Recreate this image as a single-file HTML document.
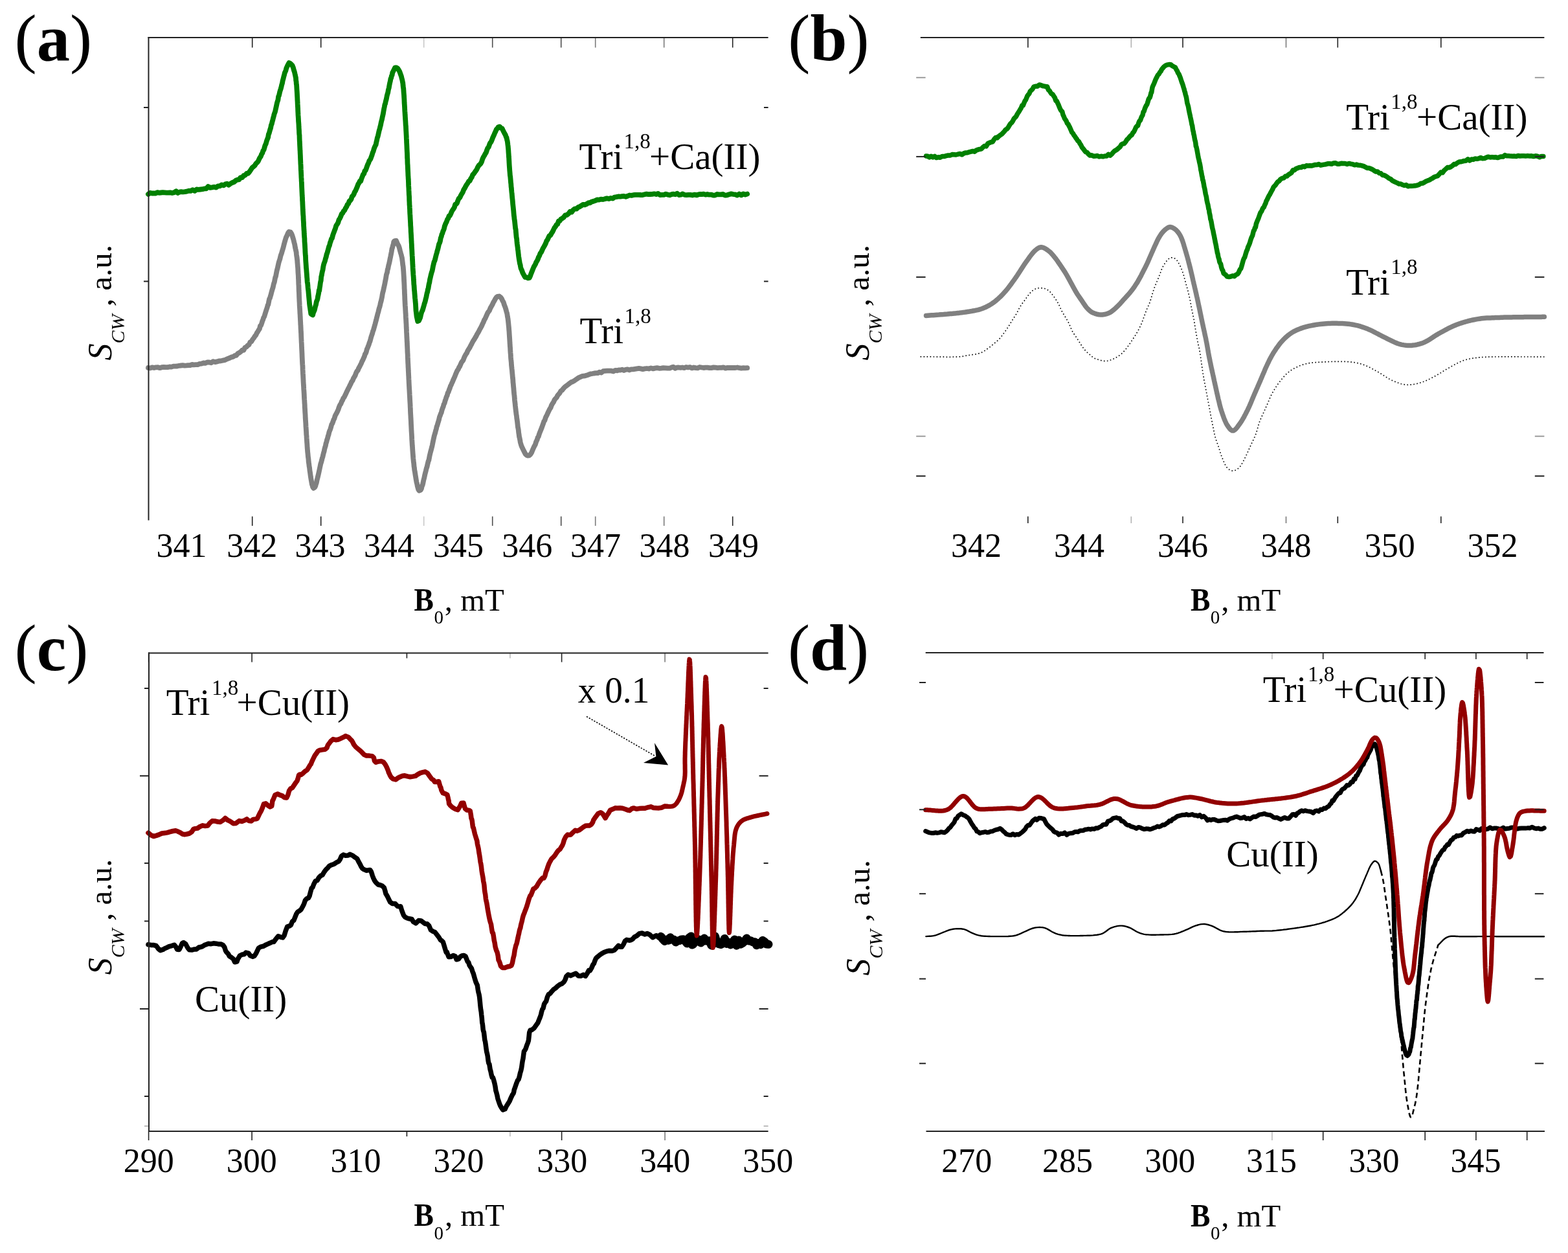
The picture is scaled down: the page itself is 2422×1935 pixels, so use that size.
<!DOCTYPE html>
<html><head><meta charset="utf-8"><title>EPR spectra</title><style>html,body{margin:0;padding:0;background:#fff;}svg{display:block;}</style></head><body>
<svg xmlns="http://www.w3.org/2000/svg" width="2422" height="1935" viewBox="0 0 2422 1935" font-family="'Liberation Serif','Times New Roman',serif" fill="#000"><rect width="2422" height="1935" fill="#fff"/><path d="M229.0 568.0L232.0 568.5L235.0 567.3L238.0 568.1L240.9 567.3L243.9 567.2L246.9 568.2L249.9 567.2L252.9 566.9L255.9 567.2L258.9 567.2L261.8 566.5L264.8 566.6L267.8 565.6L270.8 565.7L273.7 565.5L276.6 564.8L279.5 564.5L282.3 564.2L285.2 564.6L288.1 564.4L291.0 564.1L293.9 564.0L296.8 563.0L299.7 563.3L302.5 563.2L305.4 563.1L308.3 561.9L311.2 561.7L314.1 560.5L317.0 560.8L320.0 559.5L323.1 559.5L326.1 560.3L329.2 558.1L332.3 559.1L335.3 558.4L338.3 557.5L341.2 557.3L344.0 556.7L346.8 556.2L349.5 554.9L352.0 553.9L354.4 553.0L357.3 551.6L360.0 550.9L362.6 549.2L365.0 548.8L367.3 545.9L369.6 544.7L371.9 543.1L374.2 540.7L376.3 540.9L378.4 536.8L380.5 535.8L382.5 533.6L384.5 532.4L386.5 528.3L388.4 527.4L390.3 524.1L392.1 521.9L393.8 519.1L395.4 517.3L396.9 513.9L398.3 511.9L399.6 509.6L400.9 507.8L402.0 503.1L403.1 502.5L404.2 499.5L405.2 496.1L406.2 493.7L407.2 490.5L408.3 488.7L409.3 485.2L410.2 482.5L411.0 479.8L411.9 477.2L412.8 474.5L413.6 471.4L414.4 470.1L415.3 465.3L416.1 461.6L416.9 460.5L417.7 457.6L418.5 455.0L419.3 451.8L420.1 448.9L420.9 446.2L421.7 443.7L422.4 440.2L423.1 437.4L423.8 435.7L424.5 432.1L425.2 428.4L425.9 427.1L426.6 423.4L427.3 419.7L428.0 416.5L428.7 414.3L429.4 410.8L430.1 407.7L430.8 404.7L431.6 402.3L432.3 400.3L433.1 396.8L433.9 393.7L434.8 391.6L435.8 388.0L436.8 384.8L437.8 381.4L438.8 377.1L439.8 373.5L440.8 370.2L441.9 366.5L442.9 364.6L443.9 362.5L444.9 360.0L446.3 357.9L448.8 358.6L450.4 361.1L451.4 363.7L452.4 367.0L453.4 370.3L454.3 374.2L455.2 377.5L456.0 382.4L456.8 386.0L457.2 387.6L457.6 389.2L457.9 392.7L458.3 395.7L458.6 397.3L458.9 400.0L459.2 402.6L459.4 405.9L459.6 407.9L459.9 411.7L460.1 413.9L460.3 417.5L460.4 420.1L460.6 423.0L460.8 425.4L460.9 429.0L461.1 432.3L461.2 436.0L461.3 439.0L461.5 441.8L461.6 445.6L461.7 449.1L461.9 451.8L462.0 455.0L462.1 458.3L462.3 462.2L462.4 465.3L462.6 467.8L462.7 471.7L462.9 474.5L463.1 477.6L463.3 481.4L463.4 484.0L463.6 486.0L463.7 489.3L463.9 492.3L464.0 494.6L464.2 497.8L464.3 501.1L464.5 502.8L464.6 506.8L464.8 510.0L464.9 512.8L465.1 514.9L465.2 518.7L465.3 521.1L465.5 524.9L465.6 527.9L465.8 530.8L465.9 533.3L466.0 536.5L466.2 540.2L466.3 542.4L466.5 546.2L466.6 549.3L466.7 551.9L466.9 556.3L467.0 558.2L467.2 562.3L467.3 563.3L467.5 566.3L467.6 570.9L467.8 573.8L467.9 576.4L468.1 579.6L468.2 581.7L468.4 585.3L468.5 588.1L468.7 591.5L468.9 595.1L469.1 597.6L469.2 600.7L469.4 603.2L469.6 606.3L469.8 609.7L469.9 612.6L470.1 616.5L470.3 618.6L470.5 623.1L470.7 624.9L470.8 629.2L471.0 631.5L471.2 635.9L471.4 638.5L471.6 641.8L471.7 645.3L471.9 647.9L472.1 650.9L472.3 653.7L472.5 658.5L472.7 660.8L472.9 664.0L473.1 667.5L473.3 671.7L473.5 672.9L473.7 677.0L473.9 679.8L474.1 683.2L474.3 685.1L474.5 688.7L474.7 692.2L475.0 695.4L475.2 698.2L475.4 699.7L475.7 702.8L475.9 705.3L476.2 707.2L476.5 709.7L476.7 713.2L477.0 715.2L477.3 717.2L477.6 720.1L478.0 721.9L478.5 726.7L478.8 728.4L479.1 730.4L479.4 732.6L479.9 736.4L480.5 740.2L481.1 743.7L481.8 747.7L482.4 749.2L483.1 752.0L484.2 753.9L486.3 752.5L487.3 750.5L488.1 747.4L488.8 745.7L489.6 741.6L490.4 738.5L491.2 735.3L492.0 731.9L492.8 728.2L493.6 724.5L494.5 720.3L495.3 716.4L496.2 713.8L497.0 710.8L497.7 707.6L498.4 705.8L499.1 702.7L499.9 699.3L500.6 697.2L501.3 693.5L502.0 690.9L502.8 688.7L503.5 684.8L504.3 682.7L505.1 679.1L505.9 677.2L506.7 673.6L507.6 671.1L508.4 667.3L509.3 665.0L510.3 662.7L511.2 659.6L512.3 655.5L513.3 654.1L514.3 651.4L515.4 648.1L516.5 646.2L517.6 642.3L518.8 640.0L520.0 637.9L521.3 635.2L522.5 632.5L523.8 628.5L525.1 625.4L526.4 623.8L527.8 620.1L529.1 618.0L530.4 614.8L531.8 613.2L533.1 610.4L534.4 607.7L535.7 604.8L537.0 602.2L538.3 599.5L539.5 597.3L540.7 594.8L541.9 592.4L543.2 589.4L544.6 587.7L546.0 584.2L547.3 582.2L548.7 579.6L550.0 576.0L551.4 573.1L552.7 572.1L554.0 568.8L555.3 566.6L556.6 563.9L557.9 561.5L559.1 558.3L560.4 556.1L561.6 553.2L562.8 550.6L563.9 546.7L564.9 545.7L565.9 542.9L566.8 539.2L567.8 537.1L568.7 534.7L569.7 532.3L570.6 529.2L571.5 527.1L572.5 523.5L573.4 520.1L574.3 517.4L575.1 515.2L576.0 511.6L576.9 509.4L577.7 506.5L578.6 503.3L579.4 500.5L580.3 497.0L581.1 494.1L581.9 490.8L582.7 487.8L583.5 484.4L584.3 481.9L585.0 478.8L585.8 475.8L586.5 473.7L587.2 470.9L587.9 467.5L588.6 465.3L589.3 462.1L590.0 459.0L590.6 455.1L591.3 451.6L591.9 449.6L592.6 446.4L593.2 443.5L593.9 440.3L594.5 437.7L595.1 434.0L595.7 431.5L596.3 427.8L596.9 424.2L597.5 422.3L598.1 420.5L598.7 416.2L599.3 414.9L599.9 411.5L600.4 409.2L601.0 407.0L601.8 403.6L602.6 399.3L603.3 396.1L604.0 392.5L604.7 388.9L605.4 384.5L606.1 382.4L606.8 379.6L607.6 377.2L608.3 373.3L609.5 372.0L611.9 371.6L613.1 374.5L614.3 377.1L615.6 379.2L616.8 382.5L617.9 387.0L619.0 391.0L619.9 394.0L620.4 396.4L620.8 397.4L621.2 400.6L621.6 403.4L621.9 405.9L622.2 409.2L622.5 410.5L622.8 412.7L623.1 416.9L623.3 419.3L623.5 422.7L623.7 425.9L623.9 428.9L624.0 432.5L624.2 435.6L624.3 437.3L624.5 441.4L624.6 445.7L624.8 447.8L624.9 451.8L625.0 454.6L625.2 457.8L625.3 462.1L625.5 465.2L625.6 467.9L625.8 471.8L626.0 474.0L626.2 477.6L626.4 481.2L626.5 483.4L626.7 485.6L626.8 489.2L627.0 491.9L627.2 495.2L627.3 497.9L627.5 500.2L627.6 503.0L627.7 506.1L627.9 508.9L628.0 512.7L628.2 515.8L628.3 518.6L628.4 521.1L628.6 523.8L628.7 527.4L628.9 529.8L629.0 533.2L629.1 535.3L629.3 539.0L629.4 543.0L629.5 544.8L629.7 547.6L629.8 551.4L630.0 555.4L630.1 558.4L630.2 560.6L630.4 563.6L630.5 566.9L630.7 569.5L630.8 573.1L631.0 576.0L631.1 578.5L631.3 582.0L631.4 585.2L631.6 588.0L631.7 590.9L631.9 594.9L632.1 598.4L632.2 600.4L632.4 603.3L632.6 606.8L632.7 609.5L632.9 612.3L633.1 616.5L633.2 618.5L633.4 621.8L633.6 625.1L633.7 628.2L633.9 631.8L634.0 635.6L634.2 639.3L634.4 642.2L634.5 645.3L634.7 647.9L634.9 651.9L635.0 654.8L635.2 658.5L635.4 662.4L635.5 665.3L635.7 668.3L635.9 671.3L636.1 674.9L636.2 678.2L636.4 680.9L636.6 684.2L636.8 688.0L637.0 689.8L637.2 693.4L637.4 696.0L637.7 700.3L637.9 702.6L638.1 705.4L638.3 708.1L638.6 710.7L638.8 713.2L639.1 714.8L639.4 718.2L639.6 720.7L639.9 721.9L640.2 725.2L640.5 727.2L640.8 728.1L641.4 732.5L642.1 736.5L642.7 740.3L643.4 744.4L644.1 747.1L644.8 750.7L645.6 753.6L646.3 756.1L647.5 757.8L649.8 756.7L651.0 754.4L651.8 750.7L652.6 749.3L653.5 745.5L654.3 741.5L655.2 738.3L656.1 733.9L657.0 730.1L657.8 727.2L658.7 723.4L659.6 720.9L660.3 717.5L661.0 714.7L661.6 712.2L662.3 710.9L663.0 707.2L663.6 704.1L664.3 701.0L665.0 698.1L665.7 695.6L666.4 692.9L667.1 690.3L667.8 687.3L668.5 683.8L669.2 680.3L669.9 677.1L670.7 673.4L671.4 671.0L672.2 668.6L673.0 665.2L673.8 662.6L674.6 658.8L675.4 657.0L676.3 653.7L677.2 650.8L678.0 648.1L678.9 644.0L679.8 641.9L680.8 638.9L681.7 637.3L682.6 633.4L683.6 630.4L684.6 628.2L685.6 624.3L686.6 622.7L687.6 618.7L688.6 616.2L689.6 612.9L690.6 611.0L691.7 606.7L692.7 605.4L693.8 601.9L694.8 599.6L695.8 596.4L696.9 594.4L697.9 591.9L699.0 589.6L700.0 587.0L701.3 584.2L702.5 581.5L703.8 578.0L705.1 574.9L706.4 572.2L707.7 570.5L709.0 567.4L710.3 565.6L711.6 562.5L712.9 559.5L714.3 557.9L715.6 556.0L716.9 552.4L718.2 549.6L719.6 547.1L720.9 545.4L722.3 542.0L723.8 539.5L725.2 537.4L726.7 534.4L728.2 531.8L729.6 528.9L731.1 526.2L732.6 524.0L734.1 521.4L735.5 519.1L737.0 516.0L738.4 513.8L739.8 511.3L741.1 508.6L742.5 506.2L743.9 503.6L745.3 500.4L746.7 497.5L748.0 494.2L749.4 492.0L750.7 489.0L752.0 486.1L753.3 483.2L754.6 481.3L755.9 479.8L757.2 476.4L758.5 473.9L760.2 471.1L761.9 467.3L763.6 464.5L765.3 461.2L767.0 458.9L768.6 457.8L771.0 457.5L773.2 459.1L774.7 460.9L776.2 464.2L777.7 466.7L779.0 471.1L780.3 474.2L781.5 478.0L782.1 480.4L782.6 482.4L783.1 483.7L783.6 486.6L784.0 489.4L784.4 491.3L784.7 493.3L785.1 497.2L785.4 500.1L785.7 503.3L786.0 506.1L786.2 509.2L786.5 512.4L786.7 516.1L786.9 518.9L787.1 522.1L787.3 524.9L787.5 528.9L787.7 531.6L787.9 535.3L788.1 537.1L788.3 541.6L788.5 544.6L788.8 547.6L789.0 551.7L789.2 554.4L789.5 557.1L789.8 560.0L790.0 564.1L790.3 566.5L790.6 569.5L790.9 571.8L791.2 575.8L791.5 578.5L791.7 581.1L792.0 584.3L792.3 586.6L792.5 590.8L792.8 593.0L793.1 597.1L793.4 599.5L793.6 602.5L793.9 606.0L794.2 609.0L794.5 611.3L794.8 614.8L795.0 618.1L795.3 620.6L795.6 623.0L795.9 626.4L796.2 628.9L796.5 631.8L796.9 634.9L797.2 637.5L797.5 640.1L797.9 642.0L798.2 645.5L798.7 648.5L799.1 651.7L799.5 655.3L799.9 659.5L800.3 661.1L800.8 664.1L801.2 668.4L801.6 670.7L802.1 674.7L802.6 676.4L803.2 679.4L803.7 682.7L804.4 685.2L805.0 687.3L805.8 689.5L806.6 691.2L808.1 694.3L809.8 697.6L811.6 701.1L813.5 702.9L815.3 703.7L817.6 703.4L819.7 701.2L821.1 699.0L822.5 695.4L823.9 692.2L825.4 689.0L826.8 686.6L828.2 682.0L829.6 679.3L830.7 675.5L831.8 674.1L832.9 670.3L833.9 667.7L835.0 665.1L836.0 662.5L837.1 659.7L838.1 656.9L839.2 653.9L840.3 650.6L841.4 649.3L842.6 645.3L843.8 642.7L845.0 640.6L846.3 637.5L847.7 634.6L849.1 631.8L850.5 629.8L852.0 625.7L853.5 623.1L855.0 621.0L856.5 617.4L858.1 615.5L859.7 614.0L861.3 610.8L863.0 608.8L864.6 606.9L866.3 603.9L868.3 602.5L870.5 599.7L872.7 597.4L875.0 595.8L877.3 594.0L879.7 592.1L882.1 590.3L884.5 589.5L886.9 588.1L889.3 586.4L891.8 584.7L894.2 583.1L896.7 582.1L899.2 580.9L901.8 580.7L904.6 580.1L907.5 579.3L910.2 578.1L912.6 577.3L915.1 577.0L917.7 576.5L920.4 576.2L923.1 576.2L925.9 574.7L928.8 575.6L931.7 573.2L934.7 572.9L937.8 572.7L940.9 572.6L944.2 572.7L947.4 573.5L950.8 571.8L953.3 572.4L955.8 571.4L958.4 571.5L961.1 570.7L963.8 572.1L966.5 570.8L969.3 570.3L972.1 571.5L975.0 570.3L977.9 570.3L980.8 569.8L983.8 569.3L986.8 568.9L989.8 569.4L992.9 570.1L996.0 569.4L999.1 569.0L1002.2 569.5L1005.4 568.4L1008.5 569.4L1011.7 568.6L1014.9 568.1L1018.2 568.8L1021.4 568.6L1024.6 568.1L1027.9 568.3L1031.1 568.6L1034.4 568.7L1037.1 567.5L1039.9 566.6L1042.7 568.8L1045.5 567.7L1048.3 567.5L1051.2 567.9L1054.0 567.5L1056.9 568.2L1059.8 567.0L1062.8 567.5L1065.7 567.0L1068.7 568.4L1071.7 567.5L1074.7 568.1L1077.7 568.3L1080.7 567.0L1083.7 567.5L1086.8 568.0L1089.8 567.7L1092.9 567.6L1095.9 568.1L1099.0 568.1L1102.1 567.4L1105.2 567.7L1108.3 568.1L1111.3 567.9L1114.4 567.9L1117.5 567.3L1120.6 568.7L1123.7 567.8L1126.8 568.0L1129.8 567.9L1132.9 568.0L1136.0 568.0L1139.0 567.5L1142.1 568.2L1145.1 568.6L1148.2 568.2L1151.2 568.4L1154.2 568.2" fill="none" stroke="#808080" stroke-width="7.8" stroke-linejoin="round" stroke-linecap="round"/>
<path d="M229.0 299.9L231.8 297.8L234.6 298.5L237.4 298.3L240.2 298.7L243.0 297.1L245.8 297.8L248.6 297.5L251.5 297.2L254.3 297.4L257.1 297.6L260.0 297.7L262.9 297.3L265.9 298.1L269.1 297.2L272.0 295.2L274.5 298.0L277.2 296.6L279.9 296.1L282.7 296.5L285.6 296.1L288.6 295.6L291.6 294.6L294.6 294.9L297.6 293.2L300.7 294.9L303.7 292.5L306.7 292.8L309.7 292.5L312.6 292.2L315.5 291.4L318.5 291.4L321.5 288.0L324.6 289.9L327.6 289.4L330.7 288.7L333.7 289.6L336.7 287.3L339.7 287.3L342.6 285.3L345.4 286.3L348.1 284.3L350.7 283.7L353.2 285.7L355.9 283.6L358.9 282.0L361.6 281.0L364.3 278.7L366.8 277.7L369.2 277.4L371.6 274.1L374.1 274.2L376.4 271.1L378.7 270.6L380.9 267.9L383.1 267.9L385.3 265.4L387.5 262.1L389.6 258.9L391.6 257.4L393.5 255.7L395.3 252.7L397.0 251.2L398.6 249.3L400.1 246.1L401.5 243.3L402.8 241.6L404.1 238.2L405.3 236.4L406.4 232.7L407.6 231.2L408.8 226.9L409.7 223.9L410.7 222.2L411.5 219.1L412.4 216.2L413.3 214.1L414.1 212.0L414.9 207.1L415.7 205.7L416.5 202.8L417.3 199.9L418.1 197.6L418.9 193.2L419.7 191.6L420.5 188.1L421.3 185.4L422.0 182.4L422.8 179.5L423.5 176.5L424.3 174.2L425.0 172.5L425.8 168.7L426.5 165.6L427.2 162.4L428.0 158.6L428.7 156.4L429.4 154.5L430.1 149.2L430.8 147.9L431.5 145.2L432.2 141.9L432.9 139.6L433.6 137.5L434.3 135.2L435.1 131.4L436.0 128.5L436.7 124.5L437.5 121.8L438.3 118.4L439.1 115.7L439.8 112.5L440.6 110.8L441.4 109.1L442.2 105.8L443.6 102.5L445.0 99.6L446.4 97.1L448.5 98.1L449.9 99.3L451.4 100.9L452.8 104.1L454.1 108.9L455.0 111.5L455.7 114.7L456.1 116.3L456.5 118.6L456.9 119.8L457.2 124.5L457.5 125.5L457.8 129.7L458.1 131.1L458.3 134.5L458.5 138.1L458.7 140.9L458.9 143.9L459.1 148.3L459.3 151.5L459.4 154.6L459.6 157.5L459.7 160.5L459.9 164.1L460.1 167.4L460.2 171.0L460.4 174.9L460.5 177.5L460.7 180.2L460.9 183.4L461.1 187.7L461.3 189.9L461.5 192.8L461.6 195.8L461.8 199.0L462.0 201.6L462.1 205.3L462.3 208.0L462.5 208.4L462.6 213.3L462.8 218.5L462.9 218.5L463.0 222.5L463.2 226.2L463.3 228.4L463.5 232.4L463.6 233.5L463.7 236.6L463.9 240.3L464.0 243.0L464.1 245.7L464.3 249.9L464.4 252.7L464.6 255.5L464.7 258.2L464.8 261.7L465.0 264.4L465.1 267.0L465.3 270.9L465.4 273.7L465.6 276.5L465.7 279.9L465.9 281.6L466.0 285.3L466.1 288.0L466.3 292.2L466.4 294.6L466.6 298.7L466.7 301.3L466.8 302.9L467.0 305.3L467.1 309.4L467.3 311.8L467.4 314.9L467.5 317.2L467.7 321.4L467.8 324.1L468.0 327.2L468.1 330.1L468.3 332.3L468.5 334.4L468.6 338.8L468.8 341.5L469.0 344.6L469.1 348.7L469.3 351.0L469.5 355.1L469.7 357.1L469.8 360.5L470.0 363.4L470.2 366.6L470.4 368.2L470.5 373.0L470.7 375.4L470.9 377.8L471.1 382.1L471.3 385.0L471.4 388.9L471.6 391.6L471.8 394.5L472.0 396.3L472.2 401.8L472.4 404.7L472.6 407.3L472.8 410.2L473.0 413.8L473.2 415.3L473.5 419.4L473.7 421.9L473.9 424.1L474.1 427.9L474.4 430.6L474.6 434.3L474.8 436.5L475.1 437.3L475.3 439.6L475.6 443.3L475.9 446.2L476.3 449.3L476.6 452.8L477.0 457.5L477.3 460.7L477.7 464.8L478.1 469.6L478.5 472.7L478.9 475.2L479.3 477.9L479.8 481.1L480.3 484.6L481.0 485.2L483.1 486.5L484.0 482.9L485.0 480.7L486.0 478.2L487.0 473.6L488.0 470.5L488.9 465.7L489.9 463.5L490.6 460.9L491.2 457.2L491.7 455.2L492.3 452.1L492.8 448.1L493.3 448.7L493.8 444.4L494.3 441.5L494.7 438.2L495.2 435.0L495.7 433.5L496.2 427.4L496.8 425.4L497.3 422.2L497.9 419.2L498.6 416.7L499.2 412.6L499.9 409.1L500.7 406.2L501.4 404.6L502.2 402.2L502.9 399.2L503.7 396.9L504.6 392.6L505.4 390.8L506.3 387.6L507.2 384.1L508.1 380.8L509.0 379.0L509.9 375.0L510.9 372.4L511.9 369.0L512.9 368.1L513.9 364.0L514.9 360.9L515.9 358.3L516.9 355.6L517.9 353.2L519.0 349.3L520.0 347.2L521.1 345.9L522.3 343.6L523.6 339.2L525.0 337.2L526.4 334.1L527.8 330.3L529.3 329.1L530.8 326.0L532.2 324.9L533.7 321.7L535.2 319.4L536.7 315.9L538.2 314.5L539.6 310.6L541.1 309.5L542.5 307.7L543.8 303.3L545.2 302.2L546.5 300.0L547.9 296.3L549.2 294.6L550.6 291.3L551.9 288.2L553.2 284.6L554.6 282.6L555.9 279.6L557.2 279.7L558.5 275.6L559.7 272.6L561.0 269.1L562.2 268.6L563.4 264.0L564.6 263.2L565.8 260.3L566.9 257.0L568.1 253.9L569.2 251.8L570.3 248.3L571.4 247.1L572.5 245.2L573.6 242.1L574.6 239.5L575.7 235.6L576.7 233.5L577.7 229.7L578.7 227.2L579.7 225.0L580.6 223.5L581.4 219.2L582.1 216.5L582.9 212.4L583.6 211.0L584.4 207.4L585.1 204.1L585.8 201.1L586.5 199.2L587.2 195.8L587.9 193.5L588.6 189.7L589.3 186.8L589.9 184.7L590.6 181.2L591.3 178.1L591.9 175.5L592.5 171.7L593.2 167.8L593.8 165.0L594.4 161.6L595.1 160.2L595.7 156.9L596.3 154.9L596.9 152.6L597.7 148.1L598.4 145.5L599.2 142.9L599.9 138.7L600.7 136.0L601.4 131.9L602.1 128.2L602.8 125.6L603.5 121.5L604.2 120.5L604.9 117.1L605.6 116.0L606.3 112.0L607.3 110.3L608.7 107.4L610.0 104.7L612.1 104.3L614.2 105.6L615.8 107.9L617.3 110.6L618.7 114.6L619.9 117.9L620.5 120.6L621.0 122.3L621.5 124.4L621.9 126.8L622.3 128.5L622.6 132.3L623.0 135.6L623.3 137.3L623.5 141.1L623.8 144.8L624.0 147.0L624.2 150.9L624.4 153.7L624.6 159.1L624.8 161.7L625.0 164.9L625.1 166.9L625.3 171.2L625.5 173.9L625.7 177.6L625.9 180.2L626.1 183.9L626.3 186.3L626.5 189.9L626.7 193.8L626.9 194.4L627.0 197.4L627.2 201.6L627.4 204.7L627.5 206.9L627.7 210.5L627.8 213.4L628.0 216.5L628.1 220.0L628.2 221.6L628.4 225.6L628.5 228.3L628.6 230.7L628.8 234.6L628.9 236.3L629.0 239.2L629.1 244.1L629.3 245.6L629.4 250.6L629.5 253.2L629.7 255.1L629.8 257.9L629.9 259.9L630.1 264.5L630.2 266.3L630.4 271.6L630.5 272.3L630.7 276.5L630.8 277.4L631.0 282.1L631.1 286.2L631.2 287.9L631.4 290.6L631.5 293.7L631.7 297.3L631.8 300.6L632.0 302.7L632.1 304.3L632.2 309.0L632.4 312.4L632.5 316.3L632.7 317.7L632.8 320.7L633.0 323.2L633.1 327.1L633.3 330.8L633.4 331.8L633.6 335.6L633.7 337.9L633.9 341.2L634.1 344.7L634.2 348.2L634.4 350.4L634.6 353.8L634.7 357.9L634.9 360.2L635.1 363.3L635.2 366.1L635.4 368.8L635.5 372.3L635.7 375.6L635.9 378.4L636.0 382.3L636.2 384.8L636.4 388.7L636.5 391.3L636.7 395.0L636.9 397.3L637.0 400.6L637.2 403.4L637.4 408.3L637.6 411.0L637.7 414.0L637.9 417.5L638.1 419.5L638.3 423.3L638.5 425.9L638.7 428.0L638.9 432.1L639.1 434.6L639.3 439.1L639.5 440.3L639.7 443.1L639.9 446.9L640.1 448.8L640.3 450.4L640.5 453.9L640.7 455.5L641.0 460.3L641.3 462.1L641.6 466.2L641.9 468.7L642.2 474.0L642.5 479.6L642.8 481.7L643.1 484.3L643.5 488.2L643.9 490.2L644.4 492.4L645.2 496.1L647.1 495.2L648.1 493.0L649.2 490.5L650.3 485.5L651.5 481.2L652.6 479.4L653.8 475.4L654.9 471.5L655.7 468.4L656.4 466.7L657.1 464.1L657.7 461.3L658.4 458.8L659.0 455.6L659.6 452.7L660.2 451.1L660.9 447.0L661.5 445.7L662.1 441.7L662.7 438.3L663.4 436.0L664.0 431.8L664.7 429.0L665.4 425.8L666.1 423.0L666.8 420.4L667.6 418.3L668.4 414.3L669.1 410.4L669.8 407.8L670.6 404.2L671.4 403.0L672.2 400.1L673.0 396.6L673.8 393.5L674.7 390.5L675.5 387.3L676.4 384.3L677.2 380.9L678.1 376.9L679.0 375.2L679.9 372.5L680.8 367.3L681.7 365.4L682.5 361.9L683.4 360.3L684.3 357.0L685.1 355.6L686.0 352.9L686.8 349.3L687.7 347.1L688.5 344.9L689.6 343.0L691.0 338.9L692.3 337.3L693.6 333.5L694.9 333.0L696.3 330.2L697.7 326.7L699.2 324.3L700.6 322.4L701.9 320.1L703.2 315.5L704.6 315.2L706.0 313.5L707.4 309.5L708.9 306.2L710.3 305.3L711.8 301.9L713.4 299.1L714.9 296.7L716.4 292.7L717.9 290.5L719.4 287.5L720.9 285.0L722.4 283.0L724.0 280.0L725.6 279.4L727.1 276.1L728.7 273.8L730.3 269.6L731.9 268.2L733.5 265.8L735.1 263.6L736.6 261.3L738.1 257.9L739.6 255.4L741.1 254.2L742.5 252.6L744.0 249.8L745.4 245.4L746.8 242.3L748.2 240.2L749.5 237.6L750.8 235.8L752.1 231.7L753.4 228.6L754.7 227.2L756.0 223.4L757.2 220.7L758.5 219.3L760.0 215.8L761.4 211.9L762.8 209.1L764.2 205.6L765.6 202.7L766.9 199.6L768.3 198.3L769.7 196.2L772.0 195.6L773.8 197.9L775.7 198.5L777.5 202.5L779.2 205.7L780.8 208.5L781.8 211.6L782.5 212.5L783.1 215.9L783.6 217.4L784.0 220.0L784.4 223.5L784.7 225.6L785.0 229.0L785.3 232.2L785.5 235.7L785.7 238.4L785.9 242.0L786.1 243.9L786.3 247.5L786.5 251.5L786.7 255.2L786.9 257.9L787.1 260.5L787.3 263.4L787.6 266.7L787.9 271.1L788.2 272.4L788.5 275.7L788.8 279.1L789.0 281.8L789.3 283.8L789.6 288.7L789.9 290.3L790.1 293.3L790.4 296.7L790.7 298.9L791.0 302.6L791.2 305.0L791.5 307.6L791.8 310.5L792.1 314.5L792.4 317.4L792.7 320.2L793.0 323.1L793.3 326.2L793.6 330.0L793.9 333.2L794.2 335.2L794.5 338.5L794.8 339.9L795.2 343.3L795.5 346.5L795.8 349.2L796.2 353.1L796.6 354.2L797.0 359.2L797.3 362.6L797.7 367.0L798.1 368.4L798.4 372.4L798.8 376.5L799.2 379.5L799.5 381.5L799.9 385.2L800.3 387.9L800.7 391.9L801.1 395.5L801.6 399.0L802.0 401.4L802.5 404.4L803.0 407.3L803.5 408.5L804.1 412.0L804.6 414.5L805.3 415.8L805.9 417.1L807.4 421.4L809.2 424.8L811.1 428.0L813.1 428.1L815.7 429.5L817.7 429.2L819.0 426.3L820.4 422.5L821.7 419.2L823.1 415.8L824.6 412.1L826.0 409.8L827.1 407.9L828.3 404.7L829.5 403.0L830.7 400.6L832.0 396.9L833.3 394.7L834.6 391.2L836.0 389.5L837.3 386.8L838.7 383.5L840.1 381.2L841.4 378.8L842.8 376.2L844.2 372.2L845.6 370.4L847.1 367.1L848.6 364.1L850.1 363.5L851.7 360.7L853.2 358.4L854.7 355.5L856.3 352.0L857.9 350.1L859.5 347.2L861.2 346.2L862.8 341.4L864.6 341.2L866.3 338.5L868.3 337.4L870.7 335.6L873.1 332.4L875.5 332.0L878.0 330.2L880.5 326.8L883.0 327.6L885.6 324.0L888.1 322.4L890.6 322.6L893.1 320.0L895.5 319.2L898.0 317.7L900.5 315.8L903.2 316.4L906.0 315.2L909.0 313.1L911.4 313.3L914.0 311.5L916.6 310.9L919.4 309.9L922.2 308.5L925.2 308.6L928.2 307.6L931.2 308.0L934.2 307.3L937.3 306.3L940.3 307.1L943.4 306.0L946.4 306.5L949.3 304.5L952.2 304.1L955.1 303.5L958.0 303.7L960.9 303.1L963.7 302.9L966.6 303.8L969.5 302.8L972.4 301.5L975.3 301.9L978.2 301.2L981.1 300.9L983.9 300.8L986.8 300.8L989.7 301.0L992.6 301.1L995.6 300.3L998.6 299.6L1001.5 300.1L1004.5 300.0L1007.5 299.9L1010.5 299.3L1013.5 300.0L1016.5 298.9L1019.5 301.1L1022.5 300.8L1025.4 300.9L1028.4 299.7L1031.4 300.6L1034.4 301.3L1037.4 300.2L1040.3 299.7L1043.1 300.3L1046.0 298.8L1048.8 301.1L1051.7 300.7L1054.5 299.4L1057.4 300.9L1060.4 301.2L1063.4 300.9L1066.4 300.9L1069.6 301.5L1072.9 300.6L1076.3 301.4L1078.9 300.3L1081.5 299.9L1084.2 300.2L1086.9 299.7L1089.7 300.7L1092.6 299.9L1095.5 300.7L1098.4 300.6L1101.4 301.5L1104.4 301.6L1107.5 300.0L1110.5 300.3L1113.6 300.3L1116.8 300.0L1119.9 301.7L1123.0 301.3L1126.2 300.2L1129.4 299.4L1132.5 300.0L1135.7 300.4L1138.8 301.5L1141.9 299.5L1145.0 301.4L1148.1 299.4L1151.2 300.6L1154.2 299.6" fill="none" stroke="#008000" stroke-width="7.8" stroke-linejoin="round" stroke-linecap="round"/>
<path d="M1421.6 550.8L1424.6 550.8L1426.1 550.8L1427.7 550.8L1429.2 550.8L1430.8 550.9L1432.4 550.9L1434.1 550.9L1435.7 550.9L1437.3 550.9L1439.0 551.0L1440.6 551.0L1442.3 551.0L1444.0 551.0L1445.6 551.1L1447.3 551.1L1448.9 551.1L1450.6 551.1L1452.2 551.2L1453.9 551.2L1455.5 551.2L1457.1 551.2L1458.7 551.2L1460.2 551.3L1461.8 551.3L1463.3 551.3L1464.8 551.3L1467.8 551.3L1470.6 551.3L1473.3 551.2L1475.8 551.2L1478.2 551.1L1480.4 551.0L1482.4 550.9L1485.2 550.6L1486.9 550.4L1488.4 550.1L1491.0 549.5L1493.6 549.0L1496.5 548.5L1499.3 548.1L1502.3 547.7L1505.2 547.3L1507.8 546.8L1510.6 546.3L1513.3 545.5L1516.0 544.5L1518.3 543.3L1520.7 541.8L1523.2 540.1L1524.4 539.2L1525.7 538.3L1528.0 536.6L1529.2 535.7L1530.5 534.7L1531.7 533.7L1533.0 532.7L1534.2 531.7L1535.5 530.7L1536.6 529.7L1538.8 527.9L1540.8 526.1L1542.6 524.4L1544.3 522.6L1546.1 520.5L1547.9 518.2L1548.8 516.9L1549.7 515.7L1550.6 514.4L1551.5 513.2L1553.1 511.0L1554.6 508.7L1556.2 506.5L1557.7 504.2L1559.1 502.0L1560.5 499.7L1561.9 497.4L1563.3 495.1L1564.8 492.7L1566.4 490.2L1568.0 487.7L1569.6 485.2L1571.0 482.7L1572.4 480.1L1573.6 477.5L1575.0 474.9L1575.8 473.6L1577.3 471.2L1579.0 468.8L1579.9 467.5L1580.8 466.3L1582.6 463.9L1584.2 461.7L1585.1 460.4L1586.0 459.1L1586.9 457.9L1588.7 455.5L1590.4 453.4L1592.3 451.2L1594.3 449.3L1596.4 447.8L1598.6 446.5L1600.9 445.5L1603.3 445.0L1605.8 444.8L1608.3 444.8L1610.8 445.0L1613.4 445.5L1615.8 446.4L1618.2 447.7L1620.4 449.2L1622.3 451.0L1624.1 453.1L1625.9 455.5L1627.4 457.5L1629.0 459.7L1630.6 462.0L1632.2 464.5L1633.6 466.8L1635.0 469.3L1636.3 471.9L1637.4 474.6L1638.5 477.2L1639.8 479.8L1641.1 482.2L1642.6 484.7L1644.1 487.1L1645.5 489.5L1646.8 491.7L1647.6 493.0L1649.0 495.5L1650.3 497.9L1651.0 499.3L1652.1 501.6L1653.1 504.1L1654.2 506.8L1655.3 509.4L1656.5 511.8L1657.9 514.2L1659.5 516.5L1661.1 518.8L1662.7 521.1L1664.3 523.5L1665.8 526.0L1667.4 528.5L1668.9 531.0L1670.5 533.4L1672.2 535.8L1673.9 538.2L1675.7 540.4L1677.4 542.4L1678.5 543.5L1680.7 545.4L1683.0 547.3L1685.2 549.3L1686.4 550.3L1687.6 551.3L1689.9 552.9L1691.3 553.6L1694.0 554.5L1695.5 555.0L1698.1 555.9L1701.0 556.7L1703.8 557.3L1706.5 557.6L1709.2 557.6L1712.2 557.1L1714.4 556.4L1716.9 555.5L1719.5 554.4L1722.2 553.1L1723.6 552.3L1725.0 551.6L1726.3 550.7L1727.6 549.9L1728.9 549.0L1730.1 548.1L1732.4 546.3L1734.4 544.3L1736.4 542.2L1738.4 539.9L1739.3 538.7L1740.2 537.5L1741.2 536.2L1742.1 535.0L1743.0 533.7L1743.8 532.5L1744.7 531.2L1745.6 530.0L1746.4 528.7L1748.1 526.3L1749.7 523.9L1751.3 521.5L1752.9 519.1L1754.4 516.7L1755.8 514.3L1757.2 511.9L1758.6 509.3L1759.9 506.7L1761.2 504.1L1762.4 501.5L1763.0 500.1L1763.6 498.6L1764.1 497.2L1764.7 495.7L1765.3 494.3L1765.8 492.8L1766.3 491.3L1766.9 489.9L1767.4 488.4L1767.9 487.0L1768.9 484.3L1769.8 481.7L1770.8 479.3L1771.8 476.7L1773.0 474.2L1774.0 471.9L1775.0 469.5L1776.1 466.8L1777.0 464.3L1777.8 461.5L1778.3 460.1L1778.7 458.6L1779.1 457.1L1779.5 455.6L1780.0 454.1L1780.4 452.6L1780.8 451.2L1781.3 449.7L1782.2 447.0L1783.2 444.2L1783.7 442.7L1784.3 441.3L1784.9 439.9L1786.1 437.1L1787.2 434.5L1788.3 431.9L1789.4 429.1L1790.4 426.5L1791.4 423.9L1792.4 421.3L1793.4 418.8L1794.3 416.2L1795.3 413.8L1796.4 411.5L1797.6 409.2L1799.0 407.1L1800.5 405.0L1802.3 402.7L1803.4 401.5L1804.4 400.4L1806.7 398.6L1809.2 397.8L1810.8 397.9L1812.3 398.1L1813.8 398.6L1816.1 400.0L1817.8 401.9L1819.3 404.3L1820.8 406.8L1822.1 409.1L1823.3 411.5L1824.4 414.1L1825.6 416.8L1826.1 418.2L1827.0 420.9L1827.5 422.3L1827.9 423.8L1828.4 425.3L1828.8 426.9L1829.2 428.4L1829.6 429.9L1830.0 431.5L1830.4 432.9L1831.2 435.7L1831.9 438.4L1832.7 441.0L1833.4 443.5L1834.1 446.3L1834.8 448.8L1835.5 451.6L1836.2 454.5L1836.6 456.0L1836.9 457.5L1837.6 460.3L1838.2 463.0L1838.5 464.5L1839.0 467.3L1839.4 469.9L1839.9 472.8L1840.2 474.3L1840.7 476.8L1841.3 479.6L1841.9 482.5L1842.5 485.4L1843.1 488.3L1843.7 491.1L1844.2 493.7L1844.5 495.2L1844.9 498.0L1845.3 500.7L1845.7 503.4L1846.2 506.4L1846.7 509.1L1847.2 512.0L1847.4 513.5L1847.7 515.1L1848.0 516.7L1848.3 518.2L1848.6 519.8L1848.8 521.4L1849.1 522.9L1849.4 524.4L1849.9 527.2L1850.5 530.0L1851.1 532.7L1851.7 535.2L1852.3 537.9L1852.6 539.4L1852.9 541.1L1853.3 543.3L1853.7 545.8L1854.1 548.5L1854.5 551.3L1854.9 554.3L1855.2 555.8L1855.4 557.3L1855.6 558.9L1855.8 560.5L1856.0 562.1L1856.3 563.7L1856.5 565.3L1856.7 566.9L1856.9 568.5L1857.2 570.0L1857.4 571.6L1857.6 573.2L1857.9 574.7L1858.1 576.2L1858.3 577.7L1858.8 580.6L1859.1 582.1L1859.3 583.6L1859.6 585.1L1859.8 586.6L1860.1 588.1L1860.7 591.0L1861.2 593.9L1861.8 596.8L1862.3 599.7L1862.9 602.6L1863.4 605.4L1864.0 608.3L1864.5 611.2L1865.1 614.1L1865.6 617.0L1866.2 619.9L1866.7 622.9L1867.3 625.8L1867.8 628.7L1868.4 631.7L1868.9 634.6L1869.5 637.5L1870.0 640.4L1870.6 643.3L1871.1 646.1L1871.7 649.0L1872.0 650.6L1872.3 652.1L1872.6 653.7L1872.9 655.3L1873.2 656.9L1873.5 658.5L1873.9 660.0L1874.2 661.6L1874.5 663.2L1874.8 664.7L1875.1 666.2L1875.4 667.7L1876.0 670.5L1876.7 673.2L1877.3 675.7L1878.1 678.4L1878.6 679.9L1879.6 682.6L1880.5 685.1L1881.6 688.0L1882.4 690.5L1883.2 693.1L1884.1 695.9L1884.9 698.7L1885.8 701.5L1886.8 704.3L1887.8 706.9L1888.4 708.3L1889.0 709.7L1889.5 711.2L1890.1 712.6L1890.7 714.1L1891.4 715.5L1892.0 716.8L1893.4 719.4L1894.9 721.6L1896.8 723.6L1898.0 724.6L1899.2 725.5L1901.7 726.8L1904.3 727.3L1906.7 726.9L1909.1 725.8L1911.5 724.3L1913.7 722.5L1915.5 720.6L1917.1 718.3L1918.5 715.8L1919.3 714.5L1920.0 713.1L1920.8 711.6L1922.0 709.4L1923.2 706.9L1924.5 704.3L1925.7 701.6L1926.4 700.2L1927.0 698.8L1927.6 697.4L1928.2 695.9L1928.9 694.6L1929.5 693.2L1930.7 690.5L1931.8 688.0L1932.5 686.6L1933.1 685.2L1934.4 682.6L1935.6 680.0L1936.8 677.4L1938.0 674.8L1939.1 672.2L1940.1 669.5L1941.0 666.8L1941.8 664.0L1942.6 661.2L1943.4 658.4L1944.2 655.6L1945.0 652.9L1945.9 650.4L1947.0 647.7L1948.1 645.1L1949.3 642.5L1950.5 640.1L1951.6 637.6L1952.8 635.0L1953.9 632.5L1955.0 629.9L1956.1 627.3L1957.3 624.8L1958.4 622.2L1959.5 619.6L1960.6 617.1L1961.6 614.5L1962.8 611.9L1964.0 609.3L1965.4 606.8L1966.7 604.3L1968.2 601.9L1969.8 599.4L1971.4 596.9L1973.1 594.4L1974.8 592.0L1976.5 589.7L1978.3 587.5L1980.1 585.2L1981.9 583.0L1983.8 580.9L1985.8 578.8L1987.8 576.9L1989.8 575.1L1992.1 573.3L1994.4 571.7L1996.8 570.2L1999.3 568.8L2001.8 567.5L2004.3 566.3L2006.9 565.1L2009.7 564.0L2012.5 563.1L2015.3 562.3L2018.2 561.6L2019.7 561.3L2021.2 561.0L2023.9 560.5L2026.6 560.2L2029.3 559.9L2032.1 559.7L2035.1 559.5L2036.6 559.4L2038.3 559.3L2040.0 559.2L2042.4 559.1L2045.1 558.9L2047.9 558.8L2050.8 558.7L2052.3 558.6L2053.9 558.6L2055.5 558.5L2057.0 558.5L2058.6 558.4L2060.2 558.4L2061.9 558.3L2063.5 558.3L2065.1 558.3L2066.7 558.3L2068.3 558.3L2069.9 558.2L2071.4 558.3L2073.0 558.3L2074.5 558.3L2077.4 558.4L2080.2 558.5L2082.9 558.7L2085.7 559.0L2087.2 559.1L2088.7 559.3L2091.6 559.7L2094.4 560.2L2097.0 560.7L2099.6 561.3L2102.2 562.0L2104.9 562.8L2107.5 563.8L2110.2 564.8L2112.8 566.0L2115.4 567.3L2118.0 568.6L2120.6 570.0L2123.2 571.4L2125.7 572.9L2128.3 574.3L2130.8 575.7L2133.2 577.2L2135.7 578.8L2138.1 580.4L2140.5 582.0L2143.0 583.5L2145.4 585.0L2147.9 586.3L2150.4 587.5L2153.1 588.7L2155.8 589.8L2158.6 590.9L2161.3 591.8L2164.1 592.7L2166.8 593.4L2169.6 593.9L2172.4 594.2L2175.3 594.3L2178.3 594.2L2181.3 593.9L2184.2 593.4L2185.7 593.1L2187.2 592.8L2188.7 592.5L2190.1 592.1L2191.6 591.7L2193.1 591.3L2194.5 590.9L2197.1 590.0L2199.8 589.1L2202.4 588.0L2205.0 586.8L2207.6 585.6L2210.2 584.3L2212.8 582.9L2215.3 581.6L2217.8 580.2L2220.3 578.8L2222.8 577.4L2225.2 575.9L2227.6 574.4L2230.0 572.8L2232.5 571.3L2234.9 569.8L2237.4 568.4L2239.9 567.0L2242.5 565.5L2245.0 564.1L2247.6 562.7L2250.2 561.3L2252.8 560.0L2255.4 558.7L2258.0 557.6L2260.7 556.6L2263.4 555.7L2266.2 555.0L2268.9 554.4L2271.7 553.8L2274.5 553.3L2277.2 552.9L2280.0 552.6L2282.8 552.2L2285.6 551.9L2288.3 551.7L2290.9 551.5L2293.6 551.4L2296.4 551.3L2297.9 551.3L2299.5 551.2L2301.2 551.2L2302.9 551.1L2304.8 551.1L2306.9 551.1L2309.2 551.0L2311.5 551.0L2314.0 551.0L2316.6 550.9L2319.3 550.9L2322.1 550.9L2325.0 550.9L2327.9 550.9L2329.4 550.9L2330.9 550.9L2332.5 550.9L2334.0 550.9L2335.6 550.9L2337.2 550.9L2338.7 550.9L2340.3 550.9L2341.9 550.9L2343.6 550.9L2345.2 550.9L2346.8 550.9L2348.4 551.0L2350.1 551.0L2351.7 551.0L2353.4 551.0L2355.0 551.0L2356.7 551.0L2358.3 551.0L2360.0 551.0L2361.6 551.0L2363.2 551.0L2364.9 551.0L2366.5 551.0L2368.1 551.1L2369.8 551.1L2371.4 551.1L2373.0 551.1L2374.6 551.1L2376.2 551.1L2377.7 551.1L2379.3 551.1L2380.8 551.1L2382.4 551.1L2383.9 551.1L2385.4 551.1L2385.4 551.1" fill="none" stroke="#000" stroke-width="1.7" stroke-linejoin="round" stroke-dasharray="1.6 3.4" stroke-linecap="butt"/>
<path d="M1430.5 487.4L1433.3 487.2L1436.1 487.0L1438.9 486.8L1441.7 486.7L1444.5 486.5L1447.3 486.3L1450.3 486.1L1453.3 485.8L1454.8 485.7L1457.5 485.5L1460.3 485.2L1463.2 485.0L1466.2 484.7L1467.7 484.6L1469.2 484.5L1470.7 484.4L1472.2 484.2L1473.7 484.1L1475.2 483.9L1476.7 483.8L1478.2 483.6L1479.7 483.5L1482.7 483.1L1485.5 482.8L1488.3 482.4L1491.3 482.0L1492.8 481.7L1494.4 481.5L1495.9 481.3L1497.4 481.1L1498.9 480.8L1500.4 480.6L1501.9 480.3L1504.8 479.8L1507.7 479.2L1510.5 478.6L1513.2 477.8L1515.8 477.0L1517.3 476.5L1518.7 475.9L1520.2 475.3L1521.5 474.8L1524.2 473.5L1526.8 472.1L1529.4 470.7L1531.9 469.1L1533.2 468.2L1535.5 466.6L1537.7 464.8L1539.9 463.0L1542.1 461.1L1544.3 459.1L1546.4 457.0L1547.5 455.9L1548.5 454.8L1549.6 453.7L1550.6 452.6L1552.4 450.6L1554.2 448.5L1556.0 446.3L1557.8 444.0L1559.5 441.7L1561.3 439.4L1563.0 437.1L1564.7 434.7L1566.4 432.3L1568.1 429.9L1569.8 427.5L1571.5 425.0L1572.3 423.7L1573.2 422.4L1574.0 421.2L1574.8 419.9L1575.7 418.6L1576.5 417.3L1577.3 416.0L1578.2 414.7L1579.0 413.4L1579.8 412.2L1581.4 409.7L1583.1 407.2L1584.7 404.9L1586.4 402.5L1587.4 401.2L1588.3 399.9L1589.3 398.5L1590.2 397.2L1591.1 395.9L1592.1 394.7L1593.0 393.4L1593.9 392.3L1595.8 390.0L1597.6 388.1L1599.4 386.4L1600.7 385.4L1601.9 384.4L1603.2 383.5L1605.7 382.2L1608.3 381.7L1610.7 382.1L1613.4 383.3L1614.7 384.0L1616.0 384.8L1617.3 385.7L1618.6 386.6L1620.9 388.4L1623.0 390.2L1624.8 392.2L1626.6 394.2L1628.3 396.4L1630.1 398.6L1631.8 400.8L1633.5 403.2L1635.1 405.6L1636.8 408.0L1638.4 410.3L1639.9 412.6L1641.4 414.8L1642.9 417.1L1644.4 419.4L1645.9 421.8L1647.3 424.2L1648.7 426.7L1650.1 429.2L1651.5 431.7L1652.9 434.3L1654.3 436.8L1655.7 439.3L1657.0 441.9L1658.4 444.4L1659.8 446.9L1661.2 449.4L1662.6 451.8L1664.1 454.2L1665.6 456.5L1667.1 458.7L1668.7 461.0L1670.2 463.2L1671.8 465.5L1673.4 468.0L1675.1 470.4L1676.7 472.8L1678.4 475.0L1680.3 477.0L1682.2 478.9L1684.2 480.6L1686.4 482.1L1688.8 483.3L1691.5 484.3L1694.4 485.2L1697.3 485.7L1700.2 486.0L1703.0 485.9L1705.8 485.6L1708.7 484.9L1711.4 484.0L1713.9 482.9L1716.3 481.5L1718.5 479.8L1720.8 478.0L1723.0 476.0L1725.1 474.0L1727.2 472.0L1729.2 469.9L1730.3 468.8L1731.3 467.6L1732.3 466.5L1733.3 465.4L1734.3 464.2L1735.3 463.1L1736.3 462.0L1738.2 459.9L1740.1 457.8L1742.1 455.7L1744.0 453.6L1745.8 451.4L1747.6 449.2L1749.4 446.9L1751.1 444.5L1752.8 442.1L1754.4 439.6L1756.0 437.2L1757.5 434.7L1758.9 432.2L1760.3 429.7L1761.7 427.2L1763.0 424.7L1764.2 422.2L1765.5 419.7L1766.8 417.1L1768.2 414.5L1769.5 411.9L1770.8 409.3L1772.0 406.7L1773.2 404.1L1774.3 401.5L1775.4 399.0L1776.5 396.4L1777.7 393.7L1778.8 391.1L1780.0 388.4L1781.2 385.7L1782.4 383.0L1783.6 380.3L1784.8 377.7L1786.1 375.0L1787.3 372.3L1788.6 369.7L1790.0 367.2L1791.4 364.8L1792.9 362.5L1794.5 360.2L1796.2 358.2L1798.0 356.3L1800.1 354.4L1802.4 352.6L1804.7 351.2L1807.0 350.6L1809.6 350.9L1812.2 352.1L1814.7 353.7L1816.9 355.4L1818.7 357.4L1820.4 359.6L1822.0 362.1L1822.8 363.4L1823.5 364.7L1824.6 367.0L1825.6 369.5L1826.6 372.1L1827.5 374.9L1828.4 377.7L1829.2 380.6L1829.7 382.1L1830.1 383.5L1830.9 386.2L1831.7 388.9L1832.5 391.7L1833.3 394.5L1834.1 397.3L1834.9 400.2L1835.3 401.6L1835.7 403.1L1836.0 404.6L1836.4 406.0L1836.8 407.5L1837.5 410.2L1838.2 413.0L1838.9 415.7L1839.5 418.5L1840.2 421.4L1840.9 424.2L1841.5 427.0L1842.2 429.9L1842.8 432.8L1843.5 435.6L1844.1 438.4L1844.8 441.1L1845.4 443.9L1846.1 446.7L1846.7 449.5L1847.4 452.3L1848.0 455.1L1848.6 457.9L1849.3 460.7L1849.9 463.6L1850.5 466.4L1851.1 469.3L1851.7 472.2L1852.4 475.1L1853.0 478.0L1853.6 481.0L1854.2 483.9L1854.8 486.8L1855.4 489.7L1856.0 492.7L1856.6 495.6L1857.2 498.5L1857.5 500.0L1857.9 501.5L1858.2 503.0L1858.5 504.5L1858.8 506.0L1859.2 507.5L1859.5 509.0L1859.8 510.5L1860.2 512.0L1860.5 513.5L1860.8 515.0L1861.1 516.4L1861.4 517.9L1862.1 520.8L1862.7 523.6L1863.2 526.4L1863.8 529.3L1864.1 530.8L1864.6 533.7L1865.1 536.5L1865.6 539.2L1866.0 542.0L1866.5 544.7L1867.0 547.6L1867.6 550.5L1868.1 553.2L1868.7 555.8L1869.2 558.5L1869.8 561.2L1870.3 563.9L1870.9 566.7L1871.5 569.5L1872.2 572.4L1872.5 573.9L1872.8 575.4L1873.2 576.9L1873.5 578.5L1874.1 581.1L1874.7 583.9L1875.3 586.8L1875.6 588.3L1876.0 589.9L1876.3 591.4L1876.7 593.0L1877.0 594.6L1877.4 596.1L1877.7 597.7L1878.1 599.3L1878.4 600.9L1878.8 602.5L1879.1 604.1L1879.5 605.7L1879.8 607.3L1880.2 608.8L1880.5 610.3L1880.9 611.8L1881.2 613.3L1881.8 616.1L1882.5 618.7L1883.1 621.2L1883.6 623.5L1884.3 626.2L1884.7 627.7L1885.4 630.3L1886.1 632.7L1886.9 635.1L1887.8 637.8L1888.7 640.4L1889.7 643.2L1890.2 644.7L1890.7 646.1L1891.3 647.6L1891.9 649.1L1892.5 650.5L1893.1 651.8L1894.3 654.4L1895.7 656.7L1896.6 658.0L1897.5 659.3L1898.4 660.6L1899.3 661.8L1901.3 663.9L1903.3 665.1L1905.3 665.1L1907.3 663.9L1909.4 661.8L1910.4 660.6L1911.5 659.2L1912.5 657.8L1913.5 656.4L1914.5 655.1L1916.0 653.0L1917.6 650.6L1919.1 648.1L1919.9 646.8L1920.6 645.5L1921.4 644.2L1922.1 642.8L1922.8 641.4L1923.6 640.0L1924.3 638.6L1925.0 637.2L1925.7 635.8L1926.4 634.5L1927.1 633.1L1928.3 630.5L1929.6 627.9L1930.7 625.3L1931.9 622.6L1933.0 619.9L1934.1 617.2L1935.2 614.5L1936.3 611.9L1937.4 609.3L1938.6 606.6L1939.2 605.2L1939.8 603.8L1941.0 601.1L1942.2 598.4L1943.3 595.7L1944.5 593.0L1945.7 590.3L1946.3 588.9L1946.9 587.5L1947.5 586.1L1948.6 583.5L1949.7 580.8L1950.9 578.1L1952.0 575.4L1953.2 572.7L1954.3 569.9L1955.5 567.3L1956.7 564.7L1957.8 562.2L1959.1 559.7L1960.3 557.0L1961.6 554.5L1962.9 552.1L1964.2 549.7L1965.6 547.3L1967.0 544.9L1968.6 542.5L1970.2 540.1L1971.8 537.6L1972.7 536.4L1973.6 535.2L1974.5 534.0L1975.4 532.7L1976.3 531.5L1978.2 529.2L1980.1 527.0L1982.0 524.9L1984.1 522.8L1986.2 520.9L1988.3 519.0L1990.5 517.2L1992.8 515.5L1995.2 513.9L1997.6 512.4L2000.1 511.1L2002.7 509.8L2005.4 508.7L2008.1 507.6L2010.9 506.6L2013.8 505.7L2016.6 504.9L2019.4 504.1L2022.3 503.4L2025.2 502.8L2028.2 502.2L2031.1 501.7L2034.1 501.3L2037.0 500.9L2040.0 500.5L2042.9 500.2L2045.8 499.9L2048.7 499.7L2051.6 499.5L2054.5 499.4L2057.5 499.3L2059.0 499.3L2060.5 499.3L2062.1 499.3L2064.8 499.3L2067.7 499.4L2070.6 499.5L2073.5 499.6L2076.5 499.8L2079.5 500.0L2082.4 500.3L2085.3 500.6L2088.1 501.0L2090.8 501.5L2093.7 502.1L2096.5 502.7L2099.2 503.4L2101.9 504.2L2104.6 505.1L2107.3 506.0L2110.0 507.0L2112.8 508.1L2115.4 509.2L2118.0 510.4L2120.7 511.7L2122.0 512.4L2123.4 513.1L2124.7 513.8L2126.1 514.5L2127.4 515.2L2128.8 515.9L2130.1 516.6L2131.5 517.3L2132.8 518.0L2135.4 519.4L2138.0 520.7L2140.6 521.9L2143.3 523.3L2146.0 524.6L2148.6 525.9L2151.2 527.2L2153.8 528.4L2156.4 529.5L2158.9 530.5L2161.4 531.3L2162.9 531.7L2164.4 532.1L2165.9 532.4L2168.8 532.9L2171.7 533.3L2174.6 533.5L2177.5 533.5L2180.4 533.4L2183.2 533.1L2186.0 532.7L2188.8 532.2L2191.7 531.5L2194.6 530.6L2196.0 530.2L2197.5 529.7L2198.9 529.1L2201.4 528.0L2203.9 526.7L2206.5 525.2L2209.0 523.7L2210.3 522.8L2211.5 522.0L2212.8 521.2L2214.1 520.3L2215.4 519.5L2216.7 518.6L2218.0 517.8L2219.3 517.0L2220.6 516.2L2221.9 515.4L2223.2 514.7L2225.8 513.3L2228.3 511.9L2230.9 510.5L2233.5 509.1L2236.1 507.7L2238.7 506.4L2241.4 505.1L2244.1 503.8L2245.5 503.2L2246.9 502.6L2248.3 502.1L2249.7 501.5L2252.4 500.5L2255.2 499.5L2258.0 498.6L2260.8 497.7L2262.3 497.3L2263.7 496.9L2265.2 496.5L2266.7 496.1L2268.1 495.7L2269.6 495.3L2271.1 495.0L2272.5 494.6L2274.0 494.3L2275.5 494.0L2277.0 493.7L2279.9 493.1L2282.8 492.6L2285.6 492.2L2288.4 491.8L2291.1 491.5L2293.8 491.3L2296.5 491.1L2299.2 491.0L2302.0 490.9L2304.9 490.8L2307.9 490.7L2309.4 490.6L2311.0 490.6L2312.6 490.5L2314.2 490.5L2315.9 490.4L2318.4 490.3L2320.9 490.2L2323.5 490.1L2326.2 490.1L2329.0 490.0L2331.8 489.9L2334.7 489.9L2337.7 489.8L2340.7 489.8L2342.2 489.8L2343.7 489.8L2345.2 489.7L2346.7 489.7L2348.3 489.7L2349.8 489.7L2351.4 489.7L2352.9 489.7L2354.5 489.6L2356.1 489.6L2357.6 489.6L2359.2 489.6L2360.8 489.6L2362.3 489.6L2363.9 489.6L2365.5 489.5L2367.0 489.5L2368.6 489.5L2370.2 489.5L2371.7 489.5L2373.3 489.5L2374.8 489.4L2376.3 489.4L2377.9 489.4L2379.4 489.4L2380.9 489.4L2382.4 489.3L2385.4 489.3L2385.4 489.3" fill="none" stroke="#808080" stroke-width="7.5" stroke-linejoin="round" stroke-linecap="round"/>
<path d="M1430.5 241.0L1433.1 241.3L1435.6 243.0L1438.2 241.2L1441.0 242.9L1443.8 241.4L1446.4 243.6L1449.2 242.7L1452.1 243.2L1455.2 241.5L1458.3 241.6L1461.5 240.7L1464.7 239.9L1467.8 240.0L1470.8 238.5L1473.8 238.7L1476.8 239.0L1479.8 238.2L1482.8 237.4L1485.8 238.8L1488.7 236.8L1491.6 235.9L1494.4 235.8L1497.1 234.8L1499.9 234.1L1502.7 233.4L1505.4 234.2L1508.1 232.0L1510.6 231.1L1513.2 230.4L1515.8 230.1L1518.4 227.2L1520.9 225.4L1523.4 225.9L1526.0 221.5L1528.4 220.5L1530.8 219.5L1533.2 219.0L1535.7 215.0L1538.1 212.4L1540.4 212.9L1542.7 210.4L1545.0 208.7L1547.2 207.3L1549.3 205.1L1551.3 203.0L1553.3 200.3L1555.3 199.2L1557.2 197.0L1559.1 193.6L1560.9 190.9L1562.7 189.4L1564.4 186.9L1566.1 183.5L1567.8 181.5L1569.4 180.1L1571.1 176.7L1572.7 174.1L1574.2 172.0L1575.8 169.2L1577.3 166.7L1578.9 162.7L1580.3 162.8L1581.7 159.2L1583.1 155.9L1584.4 154.3L1585.7 151.1L1586.9 148.2L1588.2 146.4L1589.7 144.8L1591.2 141.1L1592.7 139.6L1594.6 138.0L1596.8 134.1L1599.5 133.2L1602.5 133.2L1605.4 130.9L1608.1 131.6L1610.8 132.8L1613.3 133.1L1615.7 133.8L1617.6 133.7L1619.4 138.8L1621.0 140.0L1622.6 142.7L1624.3 144.9L1626.0 145.6L1627.6 148.2L1629.3 150.8L1630.9 155.5L1632.4 156.2L1633.7 159.1L1634.9 161.6L1636.1 164.7L1637.2 167.3L1638.4 169.8L1639.6 171.3L1640.8 172.6L1642.0 177.4L1643.3 180.0L1644.5 183.2L1645.8 184.8L1647.1 187.0L1648.4 190.3L1649.8 191.5L1651.2 194.4L1652.6 196.9L1654.1 200.4L1655.6 204.2L1657.2 205.8L1658.7 208.6L1660.2 210.4L1661.7 212.9L1663.3 214.9L1664.8 217.5L1666.4 218.4L1668.0 221.6L1669.6 223.9L1671.3 227.5L1673.2 229.7L1675.1 232.3L1677.0 234.7L1679.1 235.4L1681.3 238.0L1683.7 240.0L1686.3 239.7L1689.2 241.3L1692.1 241.1L1695.0 240.5L1697.8 241.9L1700.7 241.3L1703.7 241.8L1706.6 241.0L1709.4 240.9L1712.2 238.3L1714.8 240.1L1717.1 238.2L1719.3 235.4L1721.5 233.3L1723.6 232.0L1725.9 230.5L1728.0 228.5L1730.1 226.8L1732.2 223.3L1734.4 222.0L1736.5 221.8L1738.7 219.0L1740.7 215.7L1742.7 214.0L1744.6 211.4L1746.4 209.4L1748.1 208.6L1749.8 205.2L1751.4 203.6L1753.0 200.4L1754.6 196.6L1756.1 194.7L1757.5 194.2L1758.9 189.5L1760.2 186.7L1761.5 185.7L1762.6 182.3L1763.8 179.6L1764.9 178.0L1766.0 173.0L1767.1 171.9L1768.2 168.2L1769.4 165.2L1770.6 162.8L1771.7 161.4L1772.9 157.7L1774.0 153.7L1775.1 151.5L1776.1 150.6L1777.1 147.5L1778.0 143.2L1778.7 143.0L1779.4 138.3L1780.0 135.0L1780.7 133.0L1781.6 131.1L1782.6 129.0L1783.8 125.9L1785.3 122.1L1786.8 119.2L1788.5 115.9L1790.1 114.3L1791.7 111.5L1793.1 110.0L1794.7 106.7L1796.2 105.1L1797.8 103.1L1800.0 101.4L1802.8 100.1L1805.8 99.6L1808.4 99.7L1810.9 101.8L1813.2 103.1L1815.5 104.2L1816.9 107.3L1818.3 109.3L1819.6 112.7L1820.9 114.3L1822.1 117.2L1823.2 119.9L1824.4 123.6L1825.5 127.0L1826.5 129.5L1827.3 131.9L1828.2 135.1L1829.0 137.5L1829.7 140.4L1830.4 142.4L1831.2 146.1L1831.9 148.2L1832.6 151.2L1833.2 155.0L1833.9 159.4L1834.6 161.5L1835.2 163.5L1835.8 166.1L1836.4 169.8L1837.0 172.9L1837.6 175.7L1838.1 177.6L1838.7 180.8L1839.3 183.4L1839.9 186.3L1840.4 188.9L1841.0 192.3L1841.6 193.8L1842.1 197.4L1842.7 201.5L1843.3 203.4L1843.9 207.4L1844.4 208.9L1845.0 212.5L1845.6 215.9L1846.2 217.8L1846.8 220.9L1847.3 226.0L1847.9 226.7L1848.5 229.5L1849.1 232.5L1849.7 235.8L1850.2 238.7L1850.8 242.3L1851.4 245.0L1852.0 247.0L1852.5 250.0L1853.1 252.1L1853.7 254.9L1854.3 258.3L1854.8 262.3L1855.4 264.7L1856.0 268.1L1856.5 271.1L1857.1 273.2L1857.7 277.7L1858.3 278.7L1858.8 281.5L1859.4 284.5L1860.0 288.5L1860.6 290.5L1861.1 292.9L1861.7 296.6L1862.3 300.0L1862.9 302.0L1863.5 304.8L1864.0 308.6L1864.6 311.4L1865.2 314.3L1865.8 316.0L1866.4 319.6L1866.9 322.5L1867.5 323.9L1868.1 328.9L1868.7 331.0L1869.2 333.6L1869.8 338.4L1870.4 339.8L1870.9 342.0L1871.5 345.4L1872.1 348.8L1872.6 351.8L1873.2 354.1L1873.8 356.4L1874.3 359.4L1874.9 362.2L1875.5 364.8L1876.1 368.4L1876.7 371.0L1877.3 374.5L1877.9 376.9L1878.5 380.0L1879.1 383.5L1879.7 386.4L1880.4 390.5L1881.0 392.0L1881.6 395.7L1882.3 398.3L1883.0 400.1L1883.7 404.1L1884.5 406.1L1885.6 407.7L1886.6 412.8L1887.7 416.1L1888.8 417.7L1890.1 422.1L1891.4 423.2L1892.9 424.0L1895.5 427.1L1898.3 427.5L1901.2 427.0L1903.8 426.0L1906.6 426.7L1909.3 424.3L1911.7 423.2L1913.1 421.2L1914.3 418.4L1915.5 416.0L1916.6 415.0L1917.6 412.1L1918.6 408.5L1919.6 404.7L1920.6 401.3L1921.6 398.8L1922.6 397.5L1923.6 394.0L1924.6 390.7L1925.7 387.2L1926.7 385.4L1927.6 381.9L1928.6 379.7L1929.6 377.4L1930.6 374.8L1931.6 371.3L1932.6 368.2L1933.6 365.8L1934.6 364.0L1935.5 360.2L1936.5 356.1L1937.5 355.3L1938.5 351.6L1939.4 351.0L1940.4 345.5L1941.4 343.0L1942.5 340.2L1943.6 337.9L1944.8 334.4L1946.0 331.0L1947.2 328.0L1948.5 326.6L1949.7 323.7L1951.0 321.0L1952.2 320.3L1953.5 316.8L1954.8 314.3L1956.0 310.4L1957.3 308.3L1958.6 305.3L1959.9 302.6L1961.2 300.7L1962.5 298.1L1963.9 295.5L1965.4 292.9L1966.9 289.4L1968.4 287.5L1970.0 286.1L1971.7 283.4L1973.5 281.0L1975.5 279.8L1977.8 277.0L1980.3 275.4L1982.9 274.8L1985.4 272.3L1987.9 272.0L1990.2 269.7L1992.6 268.2L1994.8 266.8L1997.1 262.8L1999.4 262.8L2001.9 260.5L2004.5 259.6L2007.1 258.6L2009.9 258.5L2012.4 256.9L2015.1 257.7L2017.9 255.8L2020.8 255.9L2023.6 255.7L2026.3 256.0L2029.0 255.1L2031.5 254.5L2034.2 254.5L2037.0 253.5L2040.0 255.2L2042.5 254.6L2045.2 254.1L2048.0 253.7L2050.9 252.8L2053.8 252.7L2056.9 253.3L2059.9 251.9L2062.9 251.7L2065.8 253.3L2068.7 253.2L2071.7 252.3L2074.7 252.6L2077.7 252.5L2080.7 253.5L2083.7 252.4L2086.6 253.1L2089.5 253.7L2092.4 254.8L2095.2 254.1L2098.1 255.1L2100.9 255.2L2103.7 255.8L2106.4 256.6L2109.1 258.0L2111.8 259.5L2114.5 259.4L2117.2 260.5L2119.8 261.7L2122.5 263.4L2125.2 265.0L2127.8 264.9L2130.4 267.4L2133.0 267.8L2135.6 270.4L2138.1 270.6L2140.6 271.9L2143.2 273.6L2145.7 275.6L2148.1 276.5L2150.5 278.8L2153.0 280.1L2155.6 281.4L2158.3 282.6L2160.9 284.1L2163.7 284.0L2166.5 285.5L2169.3 286.3L2172.1 285.6L2174.9 287.8L2177.7 287.2L2180.5 287.2L2183.3 287.1L2186.1 286.8L2189.0 286.1L2191.8 285.2L2194.6 283.2L2197.4 283.0L2200.1 281.7L2202.7 279.9L2205.2 278.9L2207.7 278.2L2210.3 276.5L2212.9 275.2L2215.4 273.3L2218.0 272.5L2220.6 271.7L2223.2 268.9L2225.7 266.0L2228.2 266.7L2230.7 263.3L2233.3 261.0L2235.8 258.6L2238.4 258.8L2240.9 257.7L2243.4 256.0L2245.9 253.6L2248.5 253.7L2251.1 251.5L2253.8 250.1L2256.5 249.8L2259.1 249.2L2261.8 248.4L2264.5 248.2L2267.3 245.8L2270.2 248.0L2273.0 246.0L2275.7 246.4L2278.4 245.0L2281.3 245.4L2284.1 244.8L2287.1 243.6L2290.0 244.7L2293.0 244.6L2296.0 243.1L2298.9 242.2L2301.9 243.0L2304.8 242.6L2307.7 243.0L2310.5 242.7L2313.3 243.6L2316.1 242.7L2318.9 241.9L2321.7 242.0L2324.6 239.6L2327.5 240.8L2330.4 240.7L2333.4 241.1L2336.4 241.3L2339.4 241.1L2342.1 241.5L2344.9 240.4L2347.8 241.0L2350.7 240.7L2353.7 240.8L2356.7 241.0L2359.7 240.6L2362.7 241.0L2365.7 240.8L2368.8 241.6L2371.8 240.8L2374.9 241.2L2377.9 242.8L2380.9 241.4L2383.9 241.4" fill="none" stroke="#008000" stroke-width="7.5" stroke-linejoin="round" stroke-linecap="round"/>
<path d="M229.0 1458.7L233.4 1459.4L237.7 1459.6L241.2 1460.5L242.9 1462.6L244.6 1465.2L247.8 1467.7L251.6 1466.5L254.2 1464.9L258.2 1463.1L261.1 1461.6L265.4 1460.6L269.2 1459.2L271.5 1461.9L273.6 1466.2L276.9 1466.4L279.1 1462.0L281.4 1456.8L283.6 1455.5L286.6 1457.5L288.5 1461.1L290.4 1464.3L292.5 1466.8L296.2 1467.1L300.5 1465.9L303.3 1465.9L307.2 1463.0L309.7 1462.5L312.2 1461.9L315.8 1459.6L318.8 1458.4L321.8 1457.3L326.0 1457.7L329.8 1456.8L333.9 1457.2L338.3 1458.1L341.2 1458.0L344.4 1459.4L346.9 1463.0L348.4 1468.0L349.9 1470.4L352.5 1473.1L354.4 1476.7L357.2 1478.3L360.3 1480.9L362.7 1485.8L365.9 1485.1L367.7 1480.3L368.8 1478.9L370.4 1475.8L374.0 1474.1L377.0 1473.8L379.9 1471.1L384.0 1472.1L386.6 1475.8L390.4 1477.4L393.0 1476.3L395.6 1472.3L397.4 1468.3L399.4 1464.2L402.7 1462.1L406.9 1461.3L409.9 1459.5L412.9 1458.1L417.0 1456.3L420.7 1454.5L422.9 1454.6L426.1 1450.1L429.8 1445.8L433.8 1447.3L436.7 1447.9L439.0 1444.8L441.2 1437.6L443.7 1431.1L446.6 1430.2L449.4 1428.5L451.4 1423.2L452.6 1422.1L453.8 1421.5L455.7 1416.6L457.6 1411.8L459.7 1408.4L462.3 1406.8L465.1 1404.5L467.4 1400.3L469.4 1396.4L471.4 1390.5L473.8 1387.7L476.4 1386.8L478.1 1383.5L479.8 1376.9L481.3 1371.6L482.9 1370.3L484.8 1365.2L487.3 1360.5L489.9 1359.7L492.6 1355.2L495.3 1352.5L498.1 1351.2L501.0 1346.2L503.8 1342.5L505.7 1340.9L508.6 1337.4L512.0 1335.7L516.3 1334.2L520.3 1331.5L523.0 1330.4L525.3 1327.1L527.5 1322.0L530.3 1320.1L533.6 1321.3L537.7 1321.0L540.6 1319.3L544.5 1321.1L548.3 1323.9L551.7 1326.1L554.0 1330.8L555.9 1334.1L557.7 1337.9L559.7 1341.1L562.0 1342.6L566.1 1344.4L568.7 1343.8L571.7 1343.5L573.4 1346.3L574.3 1348.9L575.2 1352.0L576.9 1356.4L578.7 1360.0L580.9 1363.1L584.3 1366.2L587.3 1366.8L590.3 1367.9L593.4 1371.0L594.9 1376.0L595.9 1380.1L597.0 1381.8L598.9 1385.2L600.3 1388.3L602.8 1393.2L606.0 1395.4L610.4 1395.6L614.2 1399.6L617.1 1400.0L618.8 1399.8L620.4 1405.2L622.4 1410.7L623.5 1413.5L625.6 1416.1L629.2 1418.0L632.2 1418.8L636.1 1419.5L638.5 1423.6L642.3 1425.8L646.6 1421.6L650.5 1422.0L654.2 1424.7L656.6 1426.6L659.8 1426.8L662.6 1429.4L665.5 1436.2L668.5 1438.2L671.8 1439.4L675.1 1443.8L678.0 1447.5L680.3 1451.5L682.4 1452.8L684.3 1454.7L686.0 1460.1L687.5 1465.2L689.1 1470.5L690.2 1470.1L691.3 1473.1L693.2 1477.8L696.3 1477.6L700.1 1475.6L703.3 1476.8L705.2 1481.8L708.5 1480.9L710.9 1477.4L713.4 1476.0L716.6 1475.4L719.1 1477.0L720.7 1481.0L722.3 1485.1L723.7 1486.2L725.1 1490.7L726.9 1493.5L728.4 1495.5L729.9 1500.4L731.3 1503.8L732.6 1508.6L733.8 1512.7L735.1 1516.8L736.2 1519.3L737.3 1521.4L738.2 1527.8L739.1 1532.8L739.9 1535.5L740.6 1539.4L741.3 1546.1L741.9 1552.7L742.4 1557.3L742.8 1560.0L743.3 1562.9L743.7 1567.1L744.3 1572.2L744.8 1579.4L745.2 1580.7L745.6 1583.7L746.2 1590.0L746.8 1592.6L747.4 1594.0L748.1 1600.0L748.8 1606.2L749.5 1608.5L750.2 1613.4L750.9 1618.7L751.7 1624.2L752.5 1627.2L753.3 1631.2L754.1 1638.1L754.7 1641.4L755.3 1642.7L755.9 1643.5L756.5 1647.6L757.1 1651.4L758.1 1654.9L759.2 1660.4L760.3 1664.1L761.5 1664.3L762.7 1668.2L763.9 1672.7L765.0 1678.0L765.9 1684.4L766.8 1687.2L767.8 1691.1L768.9 1696.6L770.3 1700.7L771.6 1704.6L772.9 1707.8L774.4 1710.3L776.8 1713.9L780.1 1712.8L782.4 1708.0L784.6 1704.7L787.2 1700.3L789.5 1694.8L791.4 1690.8L792.8 1688.9L793.6 1686.7L794.3 1682.6L795.1 1680.7L796.5 1676.6L798.0 1672.3L799.5 1668.6L801.0 1666.9L802.3 1662.6L803.5 1657.1L804.6 1653.7L805.7 1648.6L806.6 1641.9L807.4 1637.2L807.9 1635.2L808.6 1629.7L809.4 1623.8L810.5 1622.3L812.0 1619.6L813.6 1614.6L815.2 1610.7L816.4 1606.8L817.1 1600.4L817.7 1594.4L819.1 1591.0L821.6 1590.4L824.9 1587.8L828.2 1583.1L830.8 1579.5L832.5 1575.1L834.0 1571.5L834.9 1568.9L835.7 1566.4L836.6 1562.3L837.9 1558.3L839.0 1557.2L840.5 1550.8L842.0 1548.3L843.6 1546.2L845.5 1539.5L847.5 1535.3L849.7 1534.3L852.2 1531.2L854.9 1528.2L857.9 1526.2L861.0 1523.2L864.6 1520.5L868.2 1519.0L871.2 1516.3L873.0 1513.0L874.8 1507.7L877.7 1505.0L881.2 1506.7L885.3 1504.9L889.4 1503.3L893.4 1507.0L897.4 1507.2L901.1 1505.3L904.3 1507.4L907.3 1502.8L909.4 1498.6L911.4 1499.0L913.7 1495.0L915.9 1489.8L917.4 1488.1L918.8 1483.9L920.4 1480.2L922.8 1477.7L925.5 1475.6L928.9 1473.1L932.8 1470.8L936.9 1469.1L941.1 1468.2L945.4 1468.6L949.0 1467.2L952.8 1463.1L955.3 1460.4L957.8 1462.2L960.4 1462.3L963.0 1458.5L965.5 1453.0L968.0 1451.3L971.8 1452.2L974.5 1451.8L977.1 1450.3L979.8 1447.1L983.7 1445.1L987.7 1441.6L991.7 1441.0L995.8 1442.9L999.9 1441.6L1004.0 1443.7L1008.2 1447.7L1011.1 1446.0L1013.9 1444.7L1016.7 1447.4L1020.9 1449.7" fill="none" stroke="#000" stroke-width="7.5" stroke-linejoin="round" stroke-linecap="round"/>
<path d="M1020.9 1446.3L1023.9 1450.5L1026.8 1453.4L1029.6 1451.0L1032.5 1452.1L1035.3 1447.8L1038.1 1451.3L1041.0 1451.1L1043.8 1454.9L1046.6 1452.9L1049.5 1452.6L1052.4 1450.9L1055.3 1450.7L1058.3 1453.1L1061.3 1456.9L1064.4 1448.3L1067.5 1446.0L1069.1 1459.1L1070.8 1458.2L1072.4 1455.6L1074.1 1454.9L1075.8 1452.9L1077.5 1453.1L1080.0 1450.9L1082.6 1455.9L1085.2 1453.7L1087.8 1449.1L1090.5 1453.0L1093.2 1453.0L1096.0 1452.8L1098.8 1459.9L1101.6 1457.6L1104.5 1446.0L1107.4 1456.1L1110.4 1457.7L1113.3 1458.5L1116.3 1457.1L1119.3 1449.4L1122.4 1457.4L1125.4 1455.2L1128.5 1459.0L1131.6 1456.3L1134.6 1451.0L1137.7 1460.2L1140.9 1451.9L1144.0 1458.2L1147.1 1456.4L1150.2 1453.7L1153.3 1449.0L1156.4 1452.9L1159.6 1452.8L1162.7 1454.8L1165.8 1454.8L1168.8 1459.8L1171.9 1456.6L1175.0 1458.7L1178.0 1452.3L1181.0 1454.3L1184.0 1458.1L1187.0 1458.3" fill="none" stroke="#000" stroke-width="13" stroke-linejoin="round" stroke-linecap="round"/>
<path d="M229.0 1286.1L233.2 1289.7L237.3 1291.5L241.5 1290.4L245.7 1288.9L249.9 1287.0L254.0 1286.5L258.2 1285.9L262.4 1284.6L266.8 1283.5L271.3 1282.8L274.3 1283.8L278.7 1285.9L281.7 1288.0L284.6 1288.7L288.9 1288.0L292.8 1287.0L296.4 1284.4L298.8 1280.3L301.4 1279.6L305.1 1279.1L309.0 1276.4L313.1 1274.8L316.9 1275.6L321.0 1275.0L323.8 1271.3L327.8 1267.7L332.0 1267.9L336.2 1269.1L340.3 1269.5L344.2 1266.9L347.9 1263.5L351.6 1266.5L354.0 1267.6L356.5 1269.0L360.4 1271.8L364.2 1271.6L366.9 1269.5L369.6 1267.6L373.7 1268.5L378.1 1266.8L381.2 1264.9L384.2 1267.5L388.2 1267.9L391.1 1265.4L394.9 1264.9L397.5 1263.9L399.4 1259.8L401.3 1255.9L403.6 1251.8L405.5 1247.2L407.4 1241.7L410.5 1240.8L414.5 1244.4L417.1 1246.0L419.7 1244.9L420.4 1240.6L420.9 1236.4L421.6 1235.6L422.5 1233.6L424.9 1227.7L429.1 1226.0L432.1 1227.6L436.3 1229.1L439.1 1231.5L442.7 1232.1L444.6 1228.1L445.4 1225.7L446.5 1221.3L448.7 1218.0L451.5 1216.7L454.5 1212.2L457.2 1208.1L458.8 1206.2L460.2 1202.4L461.6 1197.0L463.0 1195.9L465.0 1196.4L467.9 1194.2L471.2 1191.1L474.6 1188.8L477.1 1184.8L479.0 1181.4L480.2 1180.2L481.4 1176.9L482.7 1174.2L484.9 1169.5L486.6 1166.3L488.3 1164.1L491.0 1160.1L493.8 1158.5L498.0 1157.9L502.2 1157.3L504.9 1154.9L506.5 1150.5L508.2 1148.4L510.9 1144.7L514.5 1141.6L518.6 1142.7L522.7 1142.0L526.5 1140.4L530.1 1138.7L533.9 1136.6L538.3 1138.4L541.3 1141.8L543.6 1144.0L545.1 1146.8L546.8 1150.2L549.5 1153.5L552.4 1156.0L555.5 1158.6L558.8 1161.6L562.4 1165.3L566.1 1167.0L570.5 1167.1L574.7 1167.6L577.4 1170.1L578.5 1175.2L580.6 1177.3L584.5 1175.9L588.9 1175.5L592.1 1176.7L594.8 1180.1L597.2 1184.6L599.4 1189.7L600.5 1193.3L601.5 1195.1L602.5 1197.5L604.3 1200.4L607.1 1202.9L611.2 1204.0L614.2 1201.7L618.1 1199.7L621.5 1198.3L625.2 1197.8L629.3 1198.9L633.5 1199.7L637.6 1199.1L641.7 1198.4L645.7 1195.6L649.4 1193.6L653.0 1192.7L656.6 1191.8L660.4 1194.0L663.9 1199.0L666.7 1202.7L668.2 1203.8L669.5 1204.5L671.6 1207.5L674.7 1207.2L677.7 1206.8L679.1 1211.8L680.0 1214.9L680.8 1215.9L681.8 1220.2L684.2 1224.7L688.0 1225.9L690.9 1227.4L692.1 1232.2L692.6 1235.1L693.1 1236.3L693.6 1241.5L694.3 1242.0L695.7 1244.0L698.8 1246.8L703.1 1249.4L707.2 1250.6L710.6 1245.0L712.7 1240.3L716.0 1240.1L717.3 1244.9L718.6 1249.0L721.5 1251.1L724.9 1251.4L726.3 1252.3L727.4 1258.6L728.0 1263.8L728.7 1265.1L729.3 1267.9L729.9 1273.3L730.5 1277.6L731.3 1278.3L732.4 1283.2L733.5 1288.0L734.6 1291.5L735.7 1295.3L736.8 1298.5L737.4 1303.3L738.3 1307.1L739.1 1310.8L739.9 1316.7L740.6 1320.4L741.4 1325.7L742.1 1331.3L742.8 1334.2L743.5 1338.8L744.1 1344.5L744.8 1349.0L745.4 1352.0L746.1 1355.9L746.7 1360.8L747.3 1363.4L747.9 1367.1L748.5 1374.4L749.1 1378.4L749.7 1381.4L750.4 1388.1L751.1 1391.7L751.8 1394.5L752.5 1398.6L753.2 1403.5L753.9 1407.4L754.7 1411.8L755.6 1416.5L756.5 1420.8L757.5 1424.4L758.5 1427.4L759.5 1434.2L760.5 1440.1L761.5 1440.9L762.4 1446.0L763.3 1452.4L764.2 1456.1L765.1 1462.2L766.0 1465.5L766.9 1468.3L768.0 1470.5L769.2 1475.8L770.0 1482.5L770.9 1484.1L771.9 1486.4L773.5 1491.9L776.0 1494.5L779.9 1494.4L783.7 1493.0L787.3 1492.3L790.0 1491.1L791.5 1486.7L792.7 1480.4L793.4 1477.5L794.0 1475.5L794.6 1471.4L795.2 1467.2L795.9 1464.4L796.9 1460.0L798.0 1457.5L798.7 1454.4L799.3 1451.4L800.0 1448.5L800.7 1444.9L801.4 1442.2L802.4 1437.1L803.1 1434.7L803.8 1433.2L804.5 1429.1L805.2 1426.2L806.2 1422.7L807.3 1417.4L808.5 1413.2L809.8 1410.2L811.1 1406.6L812.5 1403.1L814.0 1398.7L815.5 1393.6L817.1 1388.1L818.9 1383.3L820.1 1382.4L821.9 1377.8L823.9 1372.6L826.0 1371.7L828.8 1369.1L832.1 1363.4L835.4 1358.8L838.2 1355.7L840.2 1356.0L841.8 1352.6L843.2 1346.8L844.7 1343.3L846.3 1338.2L847.9 1333.9L849.7 1330.4L852.0 1326.2L854.7 1323.8L857.6 1320.3L860.7 1315.5L862.6 1313.3L864.9 1311.6L867.1 1307.8L868.6 1305.6L870.0 1302.1L871.5 1296.9L873.9 1292.1L876.7 1289.0L879.0 1289.4L881.4 1289.0L885.0 1285.5L888.6 1282.3L891.4 1283.2L894.4 1282.1L898.3 1279.4L900.9 1277.4L904.2 1275.3L907.4 1275.1L910.7 1274.9L913.4 1273.1L915.7 1269.6L916.8 1266.2L917.9 1264.7L920.1 1261.4L923.8 1256.4L927.8 1254.7L931.1 1256.9L932.8 1259.8L935.1 1263.4L937.8 1258.6L939.2 1256.9L940.7 1254.3L942.4 1251.3L945.9 1249.8L950.2 1247.8L953.4 1248.0L957.6 1247.8L961.8 1248.3L966.3 1249.8L969.4 1251.0L972.5 1251.7L975.7 1248.9L978.7 1247.9L983.1 1249.3L987.5 1248.6L991.9 1248.3L996.3 1248.3L1000.7 1246.8L1005.2 1245.8L1009.4 1247.4L1013.7 1247.8L1017.9 1247.9L1022.2 1247.2L1026.5 1245.1L1030.8 1245.2" fill="none" stroke="#920000" stroke-width="7.5" stroke-linejoin="round" stroke-linecap="round"/>
<path d="M1032.2 1245.6L1034.8 1245.4L1037.5 1245.2L1040.0 1244.7L1042.3 1243.4L1044.3 1241.4L1045.3 1240.2L1046.1 1238.9L1047.0 1237.6L1048.4 1235.2L1049.7 1232.5L1050.3 1231.0L1050.9 1229.6L1051.5 1228.2L1052.0 1226.7L1052.8 1224.2L1053.5 1221.5L1054.1 1218.8L1054.7 1216.1L1055.3 1213.4L1055.9 1210.8L1056.4 1208.3L1057.0 1205.8L1057.4 1203.1L1057.8 1200.0L1058.0 1197.6L1058.1 1195.1L1058.2 1192.5L1058.2 1189.8L1058.1 1187.0L1058.1 1184.0L1058.1 1182.5L1058.1 1180.9L1058.0 1179.3L1058.0 1177.7L1058.0 1176.0L1058.0 1174.4L1058.0 1172.6L1058.0 1170.9L1058.1 1169.1L1058.1 1167.3L1058.2 1164.9L1058.2 1162.5L1058.3 1159.9L1058.4 1157.3L1058.5 1154.5L1058.6 1151.7L1058.7 1148.9L1058.8 1145.9L1059.0 1142.9L1059.0 1141.4L1059.1 1139.9L1059.2 1138.3L1059.2 1136.8L1059.3 1135.2L1059.4 1133.6L1059.4 1132.0L1059.5 1130.4L1059.6 1128.8L1059.6 1127.2L1059.7 1125.6L1059.8 1124.0L1059.9 1122.4L1059.9 1120.8L1060.0 1119.2L1060.1 1117.6L1060.2 1116.0L1060.2 1114.3L1060.3 1112.7L1060.4 1111.1L1060.5 1109.5L1060.5 1107.9L1060.6 1106.3L1060.7 1104.7L1060.8 1103.2L1060.8 1101.6L1060.9 1100.0L1061.0 1098.5L1061.1 1096.9L1061.1 1095.4L1061.2 1093.9L1061.3 1092.3L1061.4 1089.4L1061.6 1086.4L1061.7 1083.6L1061.8 1082.0L1061.8 1080.4L1061.9 1078.7L1062.0 1077.0L1062.1 1075.2L1062.1 1073.4L1062.2 1071.5L1062.3 1069.7L1062.4 1067.8L1062.5 1065.8L1062.5 1063.9L1062.6 1062.0L1062.7 1060.0L1062.8 1058.1L1062.8 1056.1L1062.9 1054.1L1063.0 1052.2L1063.1 1050.3L1063.2 1048.3L1063.2 1046.4L1063.3 1044.6L1063.4 1042.7L1063.5 1040.9L1063.5 1039.1L1063.6 1037.4L1063.7 1035.7L1063.8 1034.0L1063.9 1032.5L1063.9 1030.9L1064.1 1028.0L1064.2 1025.4L1064.4 1023.2L1064.5 1021.2L1064.7 1019.6L1064.9 1018.1L1065.5 1019.6L1065.6 1021.1L1065.8 1023.0L1065.9 1025.2L1066.0 1027.7L1066.2 1030.5L1066.3 1033.6L1066.4 1035.2L1066.4 1036.9L1066.5 1038.6L1066.5 1040.3L1066.6 1042.1L1066.7 1043.9L1066.7 1045.8L1066.8 1047.7L1066.8 1049.6L1066.9 1051.5L1067.0 1053.4L1067.0 1055.4L1067.1 1057.4L1067.1 1059.3L1067.2 1061.3L1067.3 1063.3L1067.3 1065.2L1067.4 1067.2L1067.4 1069.1L1067.5 1071.0L1067.6 1072.9L1067.6 1074.8L1067.7 1076.6L1067.7 1078.4L1067.8 1080.2L1067.8 1081.9L1067.9 1083.6L1068.0 1086.2L1068.1 1088.9L1068.2 1091.5L1068.2 1094.3L1068.3 1097.0L1068.4 1099.8L1068.5 1102.6L1068.6 1105.5L1068.6 1108.4L1068.7 1111.3L1068.8 1114.2L1068.9 1117.2L1068.9 1120.1L1069.0 1123.1L1069.1 1124.6L1069.1 1126.1L1069.1 1127.7L1069.2 1129.2L1069.2 1130.7L1069.2 1132.2L1069.3 1133.8L1069.3 1135.3L1069.3 1136.8L1069.4 1138.4L1069.4 1139.9L1069.4 1141.4L1069.5 1143.0L1069.5 1144.5L1069.6 1146.1L1069.6 1147.6L1069.6 1149.2L1069.7 1150.7L1069.7 1152.3L1069.7 1153.8L1069.8 1155.4L1069.8 1156.9L1069.8 1158.5L1069.9 1160.0L1069.9 1161.6L1069.9 1163.1L1070.0 1164.7L1070.0 1166.2L1070.0 1167.8L1070.1 1169.3L1070.1 1170.9L1070.2 1172.4L1070.2 1174.0L1070.2 1175.5L1070.3 1177.0L1070.3 1178.6L1070.3 1180.1L1070.4 1181.6L1070.4 1183.2L1070.4 1184.7L1070.5 1186.2L1070.5 1187.7L1070.6 1189.2L1070.6 1190.7L1070.6 1192.2L1070.7 1195.2L1070.8 1198.2L1070.8 1201.1L1070.9 1204.1L1071.0 1207.0L1071.1 1210.0L1071.2 1212.9L1071.2 1215.8L1071.3 1218.8L1071.4 1221.7L1071.5 1224.6L1071.5 1227.5L1071.6 1230.5L1071.7 1233.4L1071.8 1236.3L1071.8 1239.2L1071.9 1242.2L1072.0 1245.1L1072.1 1248.0L1072.1 1250.9L1072.2 1253.9L1072.3 1256.8L1072.4 1259.8L1072.4 1262.7L1072.5 1265.7L1072.6 1268.6L1072.7 1271.6L1072.7 1274.6L1072.8 1277.6L1072.9 1279.1L1072.9 1280.6L1072.9 1282.1L1073.0 1283.6L1073.0 1285.1L1073.0 1286.7L1073.1 1288.2L1073.1 1289.7L1073.1 1291.2L1073.2 1292.8L1073.2 1294.3L1073.3 1295.8L1073.3 1297.4L1073.3 1298.9L1073.4 1300.5L1073.4 1302.0L1073.4 1303.6L1073.5 1305.1L1073.5 1306.7L1073.6 1309.6L1073.6 1312.6L1073.7 1314.2L1073.7 1315.7L1073.7 1317.4L1073.7 1319.0L1073.8 1320.7L1073.8 1322.4L1073.8 1324.1L1073.8 1325.8L1073.9 1327.6L1073.9 1329.4L1073.9 1331.2L1074.0 1333.0L1074.0 1334.8L1074.0 1336.7L1074.0 1338.6L1074.1 1340.5L1074.1 1342.4L1074.1 1344.3L1074.1 1346.2L1074.2 1348.2L1074.2 1350.1L1074.2 1352.1L1074.2 1354.0L1074.2 1356.0L1074.3 1358.0L1074.3 1360.0L1074.3 1361.9L1074.3 1363.9L1074.4 1365.9L1074.4 1367.9L1074.4 1369.9L1074.4 1371.8L1074.5 1373.8L1074.5 1375.8L1074.5 1377.8L1074.5 1379.7L1074.6 1381.7L1074.6 1383.6L1074.6 1385.5L1074.6 1387.5L1074.6 1389.4L1074.7 1391.3L1074.7 1393.1L1074.7 1395.0L1074.7 1396.8L1074.8 1398.7L1074.8 1400.5L1074.8 1402.3L1074.8 1404.0L1074.9 1405.8L1074.9 1407.5L1074.9 1409.2L1075.0 1410.9L1075.0 1412.5L1075.0 1414.1L1075.0 1415.7L1075.1 1417.3L1075.1 1418.8L1075.1 1421.8L1075.2 1424.6L1075.3 1427.3L1075.3 1429.8L1075.4 1432.2L1075.5 1434.4L1075.5 1436.4L1075.6 1438.2L1075.7 1439.8L1075.8 1441.9L1075.9 1443.4L1076.2 1445.0L1076.6 1443.3L1076.8 1441.3L1076.9 1439.6L1077.1 1437.6L1077.2 1435.3L1077.4 1432.8L1077.5 1430.0L1077.7 1427.1L1077.8 1425.5L1077.8 1423.9L1077.9 1422.3L1078.0 1420.6L1078.1 1418.9L1078.2 1417.2L1078.2 1415.4L1078.3 1413.6L1078.4 1411.7L1078.5 1409.9L1078.6 1408.0L1078.6 1406.1L1078.7 1404.2L1078.8 1402.2L1078.9 1400.3L1079.0 1398.3L1079.0 1396.3L1079.1 1394.4L1079.2 1392.4L1079.3 1390.4L1079.4 1388.4L1079.4 1386.5L1079.5 1384.5L1079.6 1382.6L1079.7 1380.6L1079.8 1378.7L1079.8 1376.8L1079.9 1374.9L1080.0 1373.0L1080.0 1371.2L1080.1 1369.4L1080.2 1367.6L1080.3 1365.8L1080.3 1364.1L1080.4 1362.4L1080.5 1359.8L1080.6 1357.1L1080.7 1354.4L1080.8 1351.7L1080.9 1348.9L1081.0 1346.1L1081.1 1343.2L1081.2 1340.4L1081.3 1337.5L1081.4 1334.5L1081.5 1331.6L1081.6 1328.6L1081.7 1325.6L1081.8 1324.1L1081.8 1322.6L1081.9 1321.1L1081.9 1319.6L1081.9 1318.0L1082.0 1316.5L1082.0 1315.0L1082.1 1313.4L1082.1 1311.9L1082.2 1310.4L1082.2 1308.8L1082.3 1307.3L1082.3 1305.7L1082.4 1304.2L1082.4 1302.6L1082.5 1301.0L1082.5 1299.5L1082.5 1297.9L1082.6 1296.3L1082.6 1294.8L1082.7 1293.2L1082.7 1291.6L1082.8 1290.1L1082.8 1288.5L1082.9 1286.9L1082.9 1285.4L1082.9 1283.8L1083.0 1282.2L1083.0 1280.6L1083.1 1279.1L1083.1 1277.5L1083.2 1275.9L1083.2 1274.4L1083.3 1272.8L1083.3 1271.2L1083.3 1269.7L1083.4 1268.1L1083.4 1266.5L1083.5 1265.0L1083.5 1263.4L1083.5 1261.9L1083.6 1260.3L1083.6 1258.8L1083.7 1257.2L1083.7 1255.7L1083.8 1254.1L1083.8 1252.6L1083.8 1251.1L1083.9 1249.6L1083.9 1248.0L1084.0 1246.5L1084.0 1245.0L1084.0 1243.5L1084.1 1242.0L1084.2 1239.0L1084.2 1236.0L1084.3 1233.1L1084.4 1230.2L1084.5 1227.3L1084.6 1224.4L1084.6 1221.4L1084.7 1219.9L1084.7 1218.3L1084.8 1216.7L1084.8 1215.1L1084.9 1213.6L1084.9 1212.0L1084.9 1210.4L1085.0 1208.9L1085.0 1207.3L1085.1 1205.7L1085.1 1204.2L1085.1 1202.6L1085.2 1201.0L1085.2 1199.4L1085.2 1197.9L1085.3 1196.3L1085.3 1194.8L1085.4 1193.2L1085.4 1191.6L1085.4 1190.1L1085.5 1188.5L1085.5 1187.0L1085.5 1185.4L1085.6 1183.9L1085.6 1182.3L1085.6 1180.8L1085.7 1179.2L1085.7 1177.7L1085.7 1176.1L1085.8 1174.6L1085.8 1173.1L1085.8 1171.5L1085.9 1170.0L1085.9 1168.5L1085.9 1167.0L1086.0 1165.4L1086.0 1163.9L1086.0 1162.4L1086.1 1160.9L1086.1 1159.4L1086.2 1156.4L1086.3 1153.4L1086.3 1150.5L1086.4 1147.5L1086.5 1144.6L1086.5 1141.7L1086.6 1138.9L1086.7 1136.0L1086.8 1133.2L1086.8 1130.4L1086.9 1127.6L1087.0 1124.8L1087.1 1122.1L1087.1 1119.4L1087.2 1116.7L1087.3 1114.1L1087.4 1111.5L1087.5 1109.8L1087.5 1108.1L1087.6 1106.3L1087.6 1104.5L1087.7 1102.6L1087.7 1100.8L1087.8 1098.8L1087.9 1096.9L1087.9 1095.0L1088.0 1093.0L1088.0 1091.0L1088.1 1089.1L1088.2 1087.1L1088.2 1085.1L1088.3 1083.1L1088.4 1081.2L1088.4 1079.2L1088.5 1077.3L1088.5 1075.4L1088.6 1073.5L1088.7 1071.6L1088.7 1069.8L1088.8 1068.0L1088.9 1066.2L1088.9 1064.5L1089.0 1062.8L1089.1 1061.2L1089.1 1059.6L1089.2 1058.1L1089.3 1055.3L1089.4 1052.8L1089.6 1050.5L1089.7 1048.6L1089.8 1047.1L1090.0 1045.5L1090.6 1047.1L1090.7 1048.6L1090.8 1050.5L1091.0 1052.8L1091.1 1055.3L1091.2 1058.1L1091.3 1059.6L1091.3 1061.2L1091.4 1062.8L1091.5 1064.5L1091.5 1066.2L1091.6 1068.0L1091.7 1069.8L1091.7 1071.6L1091.8 1073.5L1091.9 1075.4L1091.9 1077.3L1092.0 1079.2L1092.0 1081.2L1092.1 1083.1L1092.2 1085.1L1092.2 1087.1L1092.3 1089.1L1092.4 1091.0L1092.4 1093.0L1092.5 1095.0L1092.5 1096.9L1092.6 1098.8L1092.7 1100.8L1092.7 1102.6L1092.8 1104.5L1092.8 1106.3L1092.9 1108.1L1092.9 1109.8L1093.0 1111.5L1093.1 1114.1L1093.2 1116.7L1093.3 1119.4L1093.3 1122.1L1093.4 1124.8L1093.5 1127.6L1093.6 1130.4L1093.7 1133.2L1093.7 1136.0L1093.8 1138.9L1093.9 1141.7L1094.0 1144.6L1094.0 1147.5L1094.1 1150.5L1094.2 1153.4L1094.3 1156.4L1094.3 1159.4L1094.4 1160.9L1094.4 1162.4L1094.4 1163.9L1094.5 1165.4L1094.5 1167.0L1094.5 1168.5L1094.6 1170.0L1094.6 1171.5L1094.6 1173.1L1094.7 1174.6L1094.7 1176.1L1094.7 1177.7L1094.8 1179.2L1094.8 1180.8L1094.9 1182.3L1094.9 1183.8L1094.9 1185.4L1095.0 1187.0L1095.0 1188.5L1095.0 1190.1L1095.1 1191.6L1095.1 1193.2L1095.1 1194.8L1095.2 1196.3L1095.2 1197.9L1095.2 1199.4L1095.3 1201.0L1095.3 1202.6L1095.4 1204.1L1095.4 1205.7L1095.4 1207.3L1095.5 1208.9L1095.5 1210.4L1095.5 1212.0L1095.6 1213.6L1095.6 1215.1L1095.6 1216.7L1095.7 1218.3L1095.7 1219.9L1095.8 1221.4L1095.8 1223.0L1095.9 1225.8L1095.9 1228.7L1096.0 1231.6L1096.1 1234.5L1096.2 1237.4L1096.2 1240.4L1096.3 1243.4L1096.4 1246.3L1096.4 1249.3L1096.5 1250.8L1096.5 1252.3L1096.5 1253.9L1096.6 1255.4L1096.6 1256.9L1096.7 1258.4L1096.7 1259.9L1096.7 1261.5L1096.8 1263.0L1096.8 1264.5L1096.8 1266.1L1096.9 1267.6L1096.9 1269.1L1097.0 1270.7L1097.0 1272.2L1097.0 1273.8L1097.1 1275.3L1097.1 1276.8L1097.1 1278.4L1097.2 1279.9L1097.2 1281.5L1097.2 1283.0L1097.3 1284.6L1097.3 1286.1L1097.4 1287.7L1097.4 1289.2L1097.4 1290.8L1097.5 1292.3L1097.5 1293.9L1097.5 1295.4L1097.6 1297.0L1097.6 1298.5L1097.7 1300.1L1097.7 1301.6L1097.7 1303.2L1097.8 1304.7L1097.8 1306.2L1097.8 1307.8L1097.9 1309.3L1097.9 1310.9L1097.9 1312.4L1098.0 1313.9L1098.0 1315.5L1098.1 1317.0L1098.1 1318.5L1098.1 1320.0L1098.2 1321.6L1098.2 1323.1L1098.2 1324.6L1098.3 1326.1L1098.3 1327.6L1098.3 1329.1L1098.4 1330.6L1098.4 1333.6L1098.5 1336.6L1098.6 1339.5L1098.6 1342.5L1098.7 1345.4L1098.8 1348.3L1098.8 1351.1L1098.9 1354.0L1099.0 1356.8L1099.0 1359.6L1099.1 1362.4L1099.1 1364.0L1099.2 1365.7L1099.2 1367.4L1099.2 1369.1L1099.3 1370.9L1099.3 1372.7L1099.3 1374.5L1099.4 1376.3L1099.4 1378.2L1099.4 1380.1L1099.5 1382.0L1099.5 1383.9L1099.5 1385.8L1099.6 1387.8L1099.6 1389.7L1099.6 1391.7L1099.6 1393.7L1099.7 1395.7L1099.7 1397.7L1099.7 1399.7L1099.8 1401.7L1099.8 1403.6L1099.8 1405.6L1099.8 1407.6L1099.9 1409.6L1099.9 1411.6L1099.9 1413.6L1099.9 1415.5L1100.0 1417.4L1100.0 1419.4L1100.0 1421.3L1100.1 1423.2L1100.1 1425.0L1100.1 1426.9L1100.1 1428.7L1100.2 1430.5L1100.2 1432.3L1100.2 1434.0L1100.3 1435.8L1100.3 1437.4L1100.3 1439.1L1100.3 1440.7L1100.4 1442.3L1100.4 1443.8L1100.5 1446.7L1100.5 1449.5L1100.6 1452.1L1100.7 1454.4L1100.7 1456.5L1100.8 1458.4L1100.9 1460.1L1101.0 1462.0L1101.2 1463.6L1101.7 1462.0L1101.8 1460.1L1101.9 1458.4L1102.1 1456.5L1102.2 1454.4L1102.3 1452.1L1102.4 1449.5L1102.5 1446.7L1102.7 1443.8L1102.7 1442.3L1102.8 1440.7L1102.9 1439.1L1102.9 1437.4L1103.0 1435.8L1103.1 1434.1L1103.1 1432.3L1103.2 1430.5L1103.3 1428.7L1103.3 1426.9L1103.4 1425.1L1103.5 1423.2L1103.5 1421.3L1103.6 1419.4L1103.7 1417.5L1103.7 1415.5L1103.8 1413.6L1103.9 1411.6L1103.9 1409.6L1104.0 1407.6L1104.1 1405.6L1104.1 1403.7L1104.2 1401.7L1104.3 1399.7L1104.3 1397.7L1104.4 1395.7L1104.5 1393.7L1104.5 1391.7L1104.6 1389.7L1104.7 1387.8L1104.7 1385.8L1104.8 1383.9L1104.9 1382.0L1104.9 1380.1L1105.0 1378.2L1105.0 1376.3L1105.1 1374.5L1105.2 1372.7L1105.2 1370.9L1105.3 1369.1L1105.3 1367.4L1105.4 1365.7L1105.4 1364.0L1105.5 1362.4L1105.6 1359.6L1105.7 1356.8L1105.8 1353.9L1105.9 1351.0L1105.9 1348.1L1106.0 1345.1L1106.1 1342.2L1106.2 1340.6L1106.2 1339.1L1106.2 1337.6L1106.3 1336.1L1106.3 1334.6L1106.4 1333.0L1106.4 1331.5L1106.4 1329.9L1106.5 1328.4L1106.5 1326.8L1106.6 1325.2L1106.6 1323.7L1106.6 1322.1L1106.7 1320.5L1106.7 1319.0L1106.8 1317.4L1106.8 1315.8L1106.8 1314.2L1106.9 1312.6L1106.9 1311.0L1106.9 1309.4L1107.0 1307.8L1107.0 1306.2L1107.1 1304.7L1107.1 1303.1L1107.1 1301.5L1107.2 1299.9L1107.2 1298.3L1107.2 1296.7L1107.3 1295.1L1107.3 1293.5L1107.3 1291.9L1107.4 1290.3L1107.4 1288.7L1107.5 1287.1L1107.5 1285.5L1107.5 1283.9L1107.6 1282.4L1107.6 1280.8L1107.6 1279.2L1107.7 1277.6L1107.7 1276.1L1107.7 1274.5L1107.8 1272.9L1107.8 1271.4L1107.8 1269.8L1107.9 1268.3L1107.9 1266.7L1108.0 1265.2L1108.0 1263.7L1108.0 1262.1L1108.1 1260.6L1108.1 1259.1L1108.1 1257.6L1108.2 1254.6L1108.3 1251.7L1108.4 1248.8L1108.4 1245.9L1108.5 1243.0L1108.6 1240.2L1108.7 1237.4L1108.7 1234.7L1108.8 1232.0L1108.9 1229.4L1109.0 1226.8L1109.1 1224.2L1109.2 1221.3L1109.2 1219.5L1109.3 1217.8L1109.3 1216.1L1109.4 1214.4L1109.4 1212.7L1109.5 1211.1L1109.5 1209.4L1109.6 1207.8L1109.7 1206.1L1109.7 1204.5L1109.8 1202.9L1109.8 1201.2L1109.9 1199.6L1109.9 1198.0L1110.0 1196.5L1110.0 1194.9L1110.1 1193.3L1110.1 1191.8L1110.2 1190.3L1110.2 1188.7L1110.3 1187.2L1110.4 1185.7L1110.5 1182.7L1110.6 1179.8L1110.7 1176.9L1110.8 1174.1L1110.9 1171.3L1111.1 1168.6L1111.2 1165.9L1111.3 1163.3L1111.5 1160.7L1111.6 1158.2L1111.7 1155.7L1111.9 1153.3L1112.0 1151.5L1112.1 1149.7L1112.2 1147.8L1112.4 1145.9L1112.5 1144.0L1112.6 1142.0L1112.7 1140.1L1112.9 1138.1L1113.0 1136.3L1113.1 1134.4L1113.3 1132.6L1113.4 1131.0L1113.5 1129.4L1113.6 1127.9L1113.9 1125.2L1114.2 1123.2L1114.6 1121.6L1115.3 1123.5L1115.5 1125.4L1115.7 1127.7L1115.9 1130.4L1116.1 1131.9L1116.2 1133.5L1116.3 1135.2L1116.4 1136.9L1116.5 1138.7L1116.6 1140.6L1116.7 1142.4L1116.8 1144.4L1117.0 1146.3L1117.1 1148.3L1117.2 1150.3L1117.3 1152.2L1117.4 1154.2L1117.5 1156.2L1117.6 1158.1L1117.7 1160.1L1117.8 1161.9L1117.9 1163.8L1118.0 1165.6L1118.1 1167.3L1118.2 1169.9L1118.4 1172.5L1118.5 1175.2L1118.7 1177.9L1118.8 1180.6L1118.9 1183.4L1119.0 1186.3L1119.2 1189.2L1119.3 1192.1L1119.4 1195.0L1119.5 1198.0L1119.6 1199.5L1119.7 1201.0L1119.7 1202.6L1119.8 1204.1L1119.8 1205.6L1119.9 1207.1L1119.9 1208.7L1120.0 1210.2L1120.1 1211.8L1120.1 1213.3L1120.2 1214.9L1120.2 1216.4L1120.3 1218.0L1120.3 1219.5L1120.4 1221.1L1120.4 1222.7L1120.5 1224.2L1120.5 1225.8L1120.6 1227.4L1120.7 1229.0L1120.7 1230.5L1120.8 1232.1L1120.8 1233.7L1120.9 1235.3L1120.9 1236.8L1121.0 1238.4L1121.0 1240.0L1121.1 1241.5L1121.1 1243.1L1121.2 1244.7L1121.2 1246.2L1121.3 1247.8L1121.3 1249.3L1121.4 1250.9L1121.5 1253.8L1121.6 1256.6L1121.7 1259.5L1121.8 1262.4L1121.9 1265.3L1122.0 1268.2L1122.1 1271.2L1122.1 1274.1L1122.2 1277.1L1122.3 1280.0L1122.4 1283.0L1122.5 1286.0L1122.6 1288.9L1122.7 1291.9L1122.8 1294.9L1122.8 1297.9L1122.9 1300.9L1123.0 1303.9L1123.1 1305.4L1123.1 1306.9L1123.1 1308.4L1123.2 1309.9L1123.2 1311.4L1123.3 1314.4L1123.4 1317.4L1123.5 1320.4L1123.5 1323.4L1123.6 1326.4L1123.7 1329.3L1123.8 1332.3L1123.9 1335.3L1123.9 1338.2L1124.0 1341.2L1124.1 1344.1L1124.2 1347.0L1124.2 1350.0L1124.3 1351.6L1124.3 1353.2L1124.4 1354.9L1124.4 1356.6L1124.4 1358.3L1124.5 1360.0L1124.5 1361.8L1124.5 1363.7L1124.6 1365.5L1124.6 1367.4L1124.6 1369.3L1124.7 1371.2L1124.7 1373.1L1124.7 1375.0L1124.8 1377.0L1124.8 1378.9L1124.8 1380.9L1124.9 1382.9L1124.9 1384.9L1124.9 1386.8L1125.0 1388.8L1125.0 1390.8L1125.0 1392.8L1125.0 1394.7L1125.1 1396.7L1125.1 1398.6L1125.1 1400.5L1125.2 1402.4L1125.2 1404.3L1125.2 1406.2L1125.3 1408.0L1125.3 1409.8L1125.3 1411.6L1125.4 1413.3L1125.4 1415.1L1125.4 1416.7L1125.5 1418.4L1125.5 1420.0L1125.5 1421.5L1125.6 1423.1L1125.6 1426.0L1125.7 1428.6L1125.8 1431.1L1125.8 1433.3L1125.9 1435.3L1126.0 1436.9L1126.1 1438.9L1126.4 1440.5L1126.7 1438.5L1126.9 1436.2L1127.0 1434.2L1127.1 1432.0L1127.2 1429.4L1127.4 1426.5L1127.4 1425.0L1127.5 1423.5L1127.5 1421.9L1127.6 1420.2L1127.7 1418.5L1127.7 1416.8L1127.8 1415.0L1127.9 1413.2L1127.9 1411.3L1128.0 1409.5L1128.1 1407.6L1128.1 1405.6L1128.2 1403.7L1128.3 1401.8L1128.3 1399.8L1128.4 1397.8L1128.5 1395.9L1128.5 1393.9L1128.6 1391.9L1128.7 1390.0L1128.7 1388.0L1128.8 1386.1L1128.9 1384.2L1128.9 1382.3L1129.0 1380.4L1129.1 1378.6L1129.2 1376.8L1129.2 1375.0L1129.3 1373.2L1129.4 1371.5L1129.4 1369.9L1129.5 1368.3L1129.6 1366.7L1129.7 1365.2L1129.8 1362.4L1129.9 1360.8L1130.0 1359.2L1130.1 1357.6L1130.1 1356.0L1130.2 1354.5L1130.3 1352.9L1130.4 1351.3L1130.5 1349.7L1130.5 1348.1L1130.6 1346.6L1130.7 1345.0L1130.8 1343.5L1130.9 1341.9L1131.0 1340.4L1131.0 1338.8L1131.1 1337.3L1131.2 1335.8L1131.3 1334.3L1131.4 1332.8L1131.6 1329.8L1131.8 1326.9L1131.9 1324.0L1132.1 1321.1L1132.3 1318.4L1132.6 1315.7L1132.8 1313.0L1133.0 1310.4L1133.3 1307.9L1133.6 1305.0L1133.7 1303.3L1133.9 1301.6L1134.0 1299.9L1134.2 1298.3L1134.3 1296.7L1134.5 1295.1L1134.6 1293.5L1134.8 1292.0L1134.9 1290.5L1135.3 1287.6L1135.8 1284.9L1136.4 1282.3L1137.2 1279.9L1138.2 1277.4L1138.9 1276.0L1140.4 1273.5L1142.0 1271.3L1143.8 1269.4L1145.9 1267.6L1148.1 1266.2L1150.4 1265.1L1152.9 1264.2L1155.6 1263.4L1158.4 1262.5L1159.9 1262.1L1162.4 1261.4L1165.0 1260.7L1167.7 1260.1L1170.5 1259.5L1173.4 1258.9L1176.3 1258.3L1179.3 1257.7L1182.2 1257.1L1185.0 1256.5L1185.0 1256.5" fill="none" stroke="#920000" stroke-width="7" stroke-linejoin="round" stroke-linecap="round"/>
<path d="M1430.4 1446.1L1433.3 1445.9L1436.1 1445.7L1439.0 1445.5L1441.9 1445.1L1443.4 1444.8L1446.0 1444.1L1448.6 1443.2L1451.3 1442.1L1454.0 1441.0L1456.6 1439.9L1459.0 1439.0L1461.7 1437.9L1464.3 1436.9L1466.8 1436.0L1469.4 1435.3L1472.3 1434.7L1475.3 1434.4L1478.2 1434.2L1481.2 1434.2L1484.2 1434.3L1485.7 1434.5L1487.2 1434.7L1488.6 1434.9L1490.1 1435.3L1492.7 1436.3L1495.2 1437.6L1497.8 1439.0L1500.5 1440.3L1502.9 1441.3L1505.3 1442.3L1507.8 1443.3L1510.5 1444.1L1513.5 1444.8L1515.9 1445.2L1518.5 1445.5L1521.3 1445.7L1524.2 1445.9L1527.2 1446.0L1528.7 1446.0L1530.2 1446.1L1531.7 1446.1L1533.3 1446.1L1534.8 1446.1L1536.3 1446.1L1539.2 1446.1L1542.1 1446.1L1545.1 1446.1L1546.6 1446.1L1548.1 1446.1L1549.6 1446.1L1551.1 1446.1L1552.6 1446.1L1554.2 1446.1L1557.1 1446.0L1560.0 1445.8L1562.8 1445.6L1565.5 1445.3L1568.0 1444.8L1569.5 1444.4L1572.3 1443.5L1574.9 1442.4L1577.4 1441.3L1579.8 1440.1L1582.3 1439.0L1585.0 1437.8L1587.6 1436.6L1590.2 1435.4L1592.8 1434.3L1595.3 1433.5L1598.0 1432.8L1600.6 1432.4L1603.2 1432.1L1605.7 1432.0L1608.3 1432.1L1610.9 1432.3L1613.5 1432.9L1616.0 1433.8L1618.6 1435.1L1621.2 1436.6L1622.5 1437.4L1623.8 1438.2L1625.1 1439.0L1626.5 1439.7L1629.0 1440.8L1631.4 1441.8L1633.8 1442.6L1636.3 1443.3L1639.2 1443.9L1640.8 1444.2L1643.2 1444.5L1645.9 1444.7L1648.8 1444.9L1650.4 1445.0L1652.0 1445.0L1653.7 1445.1L1655.4 1445.1L1657.1 1445.1L1658.8 1445.1L1660.5 1445.1L1662.2 1445.1L1663.9 1445.1L1665.6 1445.1L1667.2 1445.1L1668.9 1445.0L1670.5 1445.0L1672.0 1445.0L1674.9 1444.9L1677.5 1444.9L1679.7 1444.8L1681.5 1444.8L1683.1 1444.7L1685.9 1444.6L1688.5 1444.4L1691.4 1444.0L1694.3 1443.7L1697.2 1443.2L1698.7 1442.9L1700.1 1442.6L1701.6 1442.1L1703.0 1441.6L1705.4 1440.3L1707.7 1438.7L1710.0 1437.0L1712.3 1435.2L1714.7 1433.7L1717.3 1432.6L1720.1 1431.6L1721.6 1431.2L1723.0 1430.8L1724.5 1430.4L1727.4 1429.9L1730.2 1429.6L1733.1 1429.6L1736.0 1430.0L1738.9 1430.6L1741.7 1431.5L1744.5 1432.5L1747.2 1433.7L1748.5 1434.4L1749.8 1435.2L1751.1 1436.0L1752.4 1436.8L1753.7 1437.6L1756.2 1439.0L1758.8 1440.2L1761.2 1441.1L1763.7 1441.9L1766.4 1442.6L1767.9 1442.9L1770.3 1443.2L1772.9 1443.4L1775.8 1443.6L1778.8 1443.7L1780.3 1443.7L1781.9 1443.7L1783.4 1443.7L1785.0 1443.7L1786.6 1443.6L1788.1 1443.6L1789.6 1443.6L1792.5 1443.5L1795.5 1443.5L1797.0 1443.5L1798.5 1443.4L1800.1 1443.4L1801.6 1443.4L1804.6 1443.3L1807.5 1443.1L1810.4 1442.9L1813.3 1442.5L1816.2 1441.9L1817.6 1441.5L1819.1 1441.1L1820.5 1440.6L1822.0 1440.1L1823.4 1439.6L1824.8 1439.0L1826.2 1438.5L1829.0 1437.3L1831.6 1436.2L1834.3 1435.1L1836.9 1433.9L1839.5 1432.6L1842.0 1431.4L1844.5 1430.4L1847.2 1429.4L1848.7 1429.0L1850.1 1428.5L1851.5 1428.1L1854.4 1427.4L1857.4 1427.1L1860.2 1427.0L1863.1 1427.4L1865.9 1428.0L1868.8 1428.9L1870.3 1429.4L1871.8 1429.9L1874.2 1430.9L1876.6 1432.1L1879.1 1433.5L1881.6 1434.9L1884.2 1436.3L1885.6 1436.9L1887.0 1437.4L1888.5 1437.9L1890.0 1438.3L1892.5 1438.8L1895.3 1439.1L1898.1 1439.3L1901.1 1439.4L1902.6 1439.4L1904.1 1439.4L1905.7 1439.4L1907.2 1439.3L1908.8 1439.3L1910.4 1439.2L1911.9 1439.2L1913.5 1439.1L1915.0 1439.0L1916.5 1438.9L1918.0 1438.9L1921.0 1438.8L1923.8 1438.7L1925.3 1438.7L1926.9 1438.6L1928.4 1438.6L1929.9 1438.5L1931.4 1438.5L1932.9 1438.4L1935.9 1438.3L1938.8 1438.2L1941.7 1438.0L1944.5 1437.9L1947.1 1437.8L1949.7 1437.7L1951.2 1437.7L1954.2 1437.6L1957.0 1437.6L1959.7 1437.6L1962.3 1437.6L1965.0 1437.5L1967.7 1437.3L1970.4 1437.1L1973.0 1436.8L1975.8 1436.5L1978.6 1436.2L1981.3 1435.9L1984.1 1435.5L1987.0 1435.2L1989.9 1434.8L1992.9 1434.4L1995.8 1434.0L1998.6 1433.6L2001.5 1433.2L2004.4 1432.8L2007.2 1432.4L2010.1 1431.9L2012.9 1431.5L2015.8 1431.0L2018.7 1430.5L2021.5 1430.0L2024.4 1429.5L2027.2 1428.9L2030.0 1428.3L2032.9 1427.6L2035.7 1426.9L2037.2 1426.6L2038.7 1426.2L2040.1 1425.8L2041.6 1425.4L2043.1 1424.9L2044.5 1424.5L2046.0 1424.1L2047.4 1423.6L2050.2 1422.7L2052.9 1421.7L2055.6 1420.7L2058.2 1419.6L2060.7 1418.5L2063.2 1417.3L2065.7 1415.9L2068.1 1414.4L2070.5 1412.7L2071.8 1411.8L2073.0 1410.9L2074.1 1409.9L2075.3 1409.0L2076.5 1408.0L2078.7 1406.0L2080.8 1404.1L2082.9 1402.1L2084.8 1400.1L2086.7 1398.1L2088.4 1396.1L2090.1 1393.9L2091.7 1391.6L2093.3 1389.3L2094.7 1386.9L2096.1 1384.4L2097.5 1381.8L2098.8 1379.2L2100.0 1376.6L2101.1 1373.8L2102.3 1371.1L2103.4 1368.3L2104.6 1365.6L2105.6 1363.0L2106.7 1360.3L2107.8 1357.7L2108.9 1355.1L2110.0 1352.4L2111.2 1349.8L2111.8 1348.4L2112.4 1346.9L2113.0 1345.5L2113.6 1344.1L2114.2 1342.6L2114.8 1341.3L2116.1 1338.6L2117.3 1336.3L2118.9 1334.0L2119.8 1332.7L2121.7 1330.6L2123.6 1329.6L2125.9 1330.3L2128.1 1332.3L2129.1 1333.5L2130.3 1335.8L2131.2 1338.6L2131.6 1340.1L2132.0 1341.7L2132.5 1343.2L2132.9 1344.6L2132.9 1344.6" fill="none" stroke="#000" stroke-width="2.4" stroke-linejoin="round" stroke-linecap="round"/>
<path d="M2132.9 1344.6L2133.6 1347.5L2134.3 1350.3L2135.0 1353.1L2135.7 1356.0L2136.3 1358.9L2136.6 1360.4L2137.1 1363.2L2137.6 1366.0L2138.0 1368.9L2138.4 1371.8L2138.8 1374.7L2139.2 1377.6L2139.6 1380.4L2140.0 1383.3L2140.5 1386.2L2140.9 1389.0L2141.3 1391.9L2141.8 1394.7L2142.2 1397.6L2142.6 1400.4L2143.0 1403.3L2143.5 1406.1L2143.9 1409.0L2144.3 1411.8L2144.7 1414.7L2145.1 1417.6L2145.5 1420.4L2145.9 1423.2L2146.3 1426.1L2146.6 1428.9L2147.0 1431.8L2147.4 1434.7L2147.7 1437.5L2148.0 1440.4L2148.3 1443.1L2148.5 1445.8L2148.8 1448.6L2149.0 1451.5L2149.1 1453.0L2149.3 1454.6L2149.4 1456.2L2149.6 1458.0L2149.8 1460.4L2150.1 1462.9L2150.3 1465.5L2150.5 1468.2L2150.8 1471.0L2151.1 1474.0L2151.3 1476.9L2151.5 1478.5L2151.6 1480.0L2151.8 1481.6L2151.9 1483.1L2152.1 1484.7L2152.2 1486.3L2152.4 1487.8L2152.5 1489.4L2152.7 1491.0L2152.8 1492.6L2153.0 1494.2L2153.1 1495.8L2153.3 1497.4L2153.4 1499.0L2153.6 1500.6L2153.7 1502.2L2153.9 1503.8L2154.0 1505.4L2154.2 1506.9L2154.3 1508.5L2154.5 1510.0L2154.8 1512.8L2155.1 1515.6L2155.4 1518.4L2155.7 1521.2L2156.0 1524.0L2156.3 1526.8L2156.6 1529.6L2156.9 1532.4L2157.2 1535.2L2157.5 1538.1L2157.8 1540.9L2158.1 1543.8L2158.5 1546.7L2158.8 1549.7L2159.1 1552.7L2159.3 1554.2L2159.4 1555.7L2159.6 1557.2L2159.7 1558.8L2159.9 1560.3L2160.1 1561.9L2160.2 1563.5L2160.4 1565.1L2160.5 1566.7L2160.7 1568.3L2161.0 1571.0L2161.2 1573.7L2161.5 1576.5L2161.7 1579.4L2162.0 1582.4L2162.3 1585.4L2162.4 1586.9L2162.5 1588.4L2162.7 1589.9L2162.8 1591.5L2162.9 1593.1L2163.1 1594.6L2163.2 1596.2L2163.3 1597.8L2163.5 1599.4L2163.6 1601.0L2163.7 1602.6L2163.9 1604.2L2164.0 1605.8L2164.1 1607.4L2164.3 1609.0L2164.4 1610.6L2164.5 1612.2L2164.7 1613.8L2164.8 1615.4L2165.0 1617.1L2165.1 1618.7L2165.2 1620.3L2165.4 1621.9L2165.5 1623.5L2165.6 1625.1L2165.8 1626.7L2165.9 1628.2L2166.0 1629.8L2166.2 1631.4L2166.3 1632.9L2166.4 1634.5L2166.6 1636.0L2166.7 1637.5L2166.8 1639.1L2167.0 1640.6L2167.2 1643.5L2167.5 1646.4L2167.7 1649.3L2168.0 1652.1L2168.2 1654.8L2168.5 1657.4L2168.8 1660.0L2169.0 1662.4L2169.2 1664.1L2169.4 1665.9L2169.5 1667.6L2169.7 1669.3L2169.9 1670.9L2170.0 1672.6L2170.2 1674.2L2170.3 1675.8L2170.5 1677.4L2170.6 1678.9L2170.8 1680.5L2170.9 1682.0L2171.1 1683.5L2171.4 1686.4L2171.7 1689.3L2172.1 1692.1L2172.4 1694.8L2172.8 1697.5L2173.2 1700.0L2173.6 1702.6L2174.0 1705.0L2174.3 1706.7L2174.7 1708.5L2175.0 1710.4L2175.4 1712.2L2175.7 1714.1L2176.1 1716.0L2176.5 1717.7L2176.8 1719.4L2177.2 1721.0L2178.0 1723.6L2178.8 1725.3L2180.4 1725.0L2181.3 1722.5L2181.8 1720.9L2182.3 1719.1L2182.7 1717.2L2183.2 1715.4L2183.6 1713.6L2184.0 1712.0L2184.7 1709.5L2185.3 1707.0L2185.9 1704.6L2186.5 1701.9L2187.0 1699.0L2187.3 1697.4L2187.6 1695.7L2187.9 1693.8L2188.2 1691.9L2188.5 1689.8L2188.8 1687.5L2189.1 1685.1L2189.4 1682.6L2189.7 1680.0L2190.0 1677.2L2190.3 1674.4L2190.6 1671.5L2190.7 1670.0L2190.9 1668.4L2191.0 1666.9L2191.2 1665.4L2191.3 1663.8L2191.4 1662.2L2191.6 1660.6L2191.7 1659.0L2191.9 1657.4L2192.0 1655.8L2192.2 1654.2L2192.3 1652.5L2192.5 1650.9L2192.6 1649.2L2192.8 1647.6L2192.9 1645.9L2193.1 1644.3L2193.2 1642.6L2193.4 1641.0L2193.5 1639.3L2193.7 1637.7L2193.8 1636.0L2193.9 1634.4L2194.1 1632.7L2194.2 1631.1L2194.4 1629.5L2194.5 1627.9L2194.7 1626.3L2194.8 1624.8L2195.0 1623.2L2195.1 1621.6L2195.2 1620.1L2195.4 1618.6L2195.7 1615.7L2195.9 1612.8L2196.2 1610.0L2196.4 1608.4L2196.5 1606.8L2196.7 1605.2L2196.8 1603.7L2197.0 1602.1L2197.1 1600.5L2197.3 1599.0L2197.4 1597.4L2197.6 1595.9L2197.7 1594.3L2197.8 1592.8L2198.0 1591.3L2198.1 1589.8L2198.3 1588.2L2198.4 1586.7L2198.5 1585.2L2198.7 1583.7L2198.8 1582.2L2199.1 1579.3L2199.4 1576.3L2199.6 1573.3L2199.9 1570.4L2200.2 1567.5L2200.5 1564.6L2200.8 1561.7L2201.1 1558.8L2201.5 1556.0L2201.8 1553.1L2202.1 1550.2L2202.5 1547.4L2202.7 1545.9L2202.9 1544.4L2203.1 1542.8L2203.3 1541.3L2203.5 1539.8L2203.7 1538.3L2203.9 1536.7L2204.1 1535.2L2204.3 1533.7L2204.5 1532.2L2204.7 1530.7L2205.0 1529.2L2205.2 1527.7L2205.4 1526.2L2205.6 1524.7L2205.8 1523.2L2206.0 1521.7L2206.5 1518.7L2207.0 1515.8L2207.4 1512.9L2207.9 1510.1L2208.4 1507.2L2208.9 1504.4L2209.5 1501.7L2210.0 1499.0L2210.6 1496.3L2211.3 1493.4L2211.6 1491.9L2212.0 1490.4L2212.4 1488.9L2212.8 1487.4L2213.2 1486.0L2213.6 1484.5L2214.4 1481.7L2215.3 1478.9L2216.1 1476.1L2217.0 1473.3L2217.9 1470.6L2218.7 1467.9L2219.6 1465.1L2220.5 1462.3L2221.3 1459.5L2221.3 1459.5" fill="none" stroke="#000" stroke-width="2.6" stroke-linejoin="round" stroke-dasharray="8 5" stroke-linecap="butt"/>
<path d="M2221.3 1459.5L2223.5 1457.5L2224.6 1456.4L2225.6 1455.3L2226.7 1454.2L2227.7 1453.1L2228.8 1452.0L2229.9 1451.0L2232.2 1449.1L2234.7 1447.6L2237.2 1446.6L2239.5 1446.0L2241.9 1445.8L2244.4 1445.7L2247.0 1445.8L2249.8 1446.0L2251.3 1446.0L2252.9 1446.1L2254.5 1446.2L2256.3 1446.3L2258.1 1446.3L2260.0 1446.3L2261.9 1446.3L2263.8 1446.3L2265.9 1446.2L2268.1 1446.2L2270.4 1446.2L2272.7 1446.2L2275.2 1446.2L2277.7 1446.2L2280.3 1446.2L2283.0 1446.1L2285.8 1446.1L2288.6 1446.1L2291.5 1446.1L2294.4 1446.1L2297.4 1446.1L2299.0 1446.1L2300.5 1446.1L2302.0 1446.1L2303.6 1446.1L2305.2 1446.1L2306.7 1446.1L2308.3 1446.1L2309.9 1446.1L2311.5 1446.2L2313.1 1446.2L2314.8 1446.2L2316.4 1446.2L2318.0 1446.2L2319.7 1446.2L2321.3 1446.2L2323.0 1446.2L2324.6 1446.2L2326.3 1446.2L2328.0 1446.2L2329.6 1446.2L2331.3 1446.2L2333.0 1446.2L2334.7 1446.2L2336.4 1446.2L2338.0 1446.2L2339.7 1446.2L2341.4 1446.2L2343.1 1446.2L2344.8 1446.2L2346.4 1446.2L2348.1 1446.2L2349.8 1446.2L2351.5 1446.2L2353.1 1446.3L2354.8 1446.3L2356.5 1446.3L2358.1 1446.3L2359.8 1446.3L2361.4 1446.3L2363.0 1446.3L2364.7 1446.3L2366.3 1446.3L2367.9 1446.3L2369.5 1446.3L2371.1 1446.3L2372.7 1446.3L2374.3 1446.3L2375.8 1446.3L2377.4 1446.3L2378.9 1446.3L2380.5 1446.3L2382.0 1446.3L2383.5 1446.3L2385.0 1446.3" fill="none" stroke="#000" stroke-width="2.4" stroke-linejoin="round" stroke-linecap="round"/>
<path d="M1429.7 1283.6L1432.6 1284.7L1435.6 1285.9L1438.6 1286.4L1441.6 1286.5L1444.6 1285.8L1447.6 1286.3L1450.5 1285.9L1453.4 1284.8L1456.2 1285.2L1458.9 1285.7L1461.4 1284.1L1463.6 1282.0L1465.8 1279.2L1467.9 1277.7L1470.0 1274.5L1472.0 1272.2L1474.0 1269.8L1476.0 1264.5L1477.9 1263.8L1479.8 1260.3L1481.8 1258.8L1484.7 1256.8L1487.7 1258.6L1490.8 1259.7L1492.8 1261.4L1494.8 1262.6L1496.9 1264.7L1498.9 1268.6L1500.9 1272.1L1502.9 1274.8L1504.9 1278.3L1506.9 1279.9L1508.9 1283.9L1511.0 1284.5L1513.4 1286.7L1516.2 1285.7L1519.0 1285.3L1521.8 1284.5L1524.6 1285.6L1527.3 1285.3L1530.0 1284.1L1533.1 1283.8L1536.0 1282.2L1538.9 1281.2L1541.8 1280.7L1544.6 1279.3L1547.1 1280.9L1549.4 1283.4L1551.8 1285.3L1554.1 1287.9L1556.6 1288.8L1559.2 1289.4L1561.9 1289.5L1564.6 1287.7L1567.4 1289.7L1570.3 1288.5L1573.3 1289.0L1575.8 1287.3L1579.0 1285.0L1581.2 1282.9L1583.4 1280.8L1585.6 1276.8L1587.9 1274.5L1590.2 1274.4L1592.5 1271.2L1594.8 1268.0L1597.1 1266.0L1599.3 1264.3L1601.6 1266.3L1604.9 1263.2L1608.3 1263.5L1610.4 1264.3L1612.6 1264.7L1614.7 1269.1L1616.8 1272.8L1619.0 1275.0L1621.1 1277.1L1623.3 1279.0L1625.6 1280.9L1627.9 1284.1L1630.2 1285.4L1632.7 1285.9L1635.5 1289.1L1638.4 1287.2L1641.5 1287.6L1644.6 1285.9L1647.8 1289.3L1651.0 1287.1L1654.1 1286.7L1657.1 1286.4L1660.0 1284.8L1662.7 1284.4L1665.2 1284.7L1668.3 1282.8L1671.0 1282.8L1673.6 1282.6L1676.1 1281.1L1678.7 1280.9L1681.4 1280.2L1684.3 1280.9L1687.1 1279.9L1690.1 1280.3L1693.2 1278.7L1695.9 1278.9L1698.3 1277.3L1700.7 1276.5L1703.3 1273.9L1705.9 1273.2L1708.6 1273.2L1711.4 1268.2L1714.1 1267.6L1716.8 1266.1L1719.4 1263.6L1722.0 1263.1L1724.5 1262.6L1727.1 1263.8L1729.7 1263.8L1732.2 1268.0L1734.6 1268.1L1737.1 1270.2L1739.5 1273.1L1742.0 1274.2L1744.5 1274.5L1747.0 1276.3L1749.7 1277.0L1752.6 1278.1L1755.6 1279.5L1758.5 1277.4L1761.5 1278.2L1764.5 1279.7L1767.5 1280.6L1770.5 1279.8L1773.4 1279.9L1776.2 1280.8L1779.0 1280.0L1781.9 1278.7L1784.8 1277.9L1787.7 1276.1L1790.5 1276.9L1793.3 1275.7L1796.0 1273.7L1798.7 1273.9L1801.3 1271.9L1803.9 1270.4L1806.3 1267.6L1808.8 1268.1L1811.2 1264.9L1813.6 1264.1L1816.0 1262.5L1818.5 1260.5L1821.0 1260.0L1823.9 1259.1L1826.8 1258.5L1829.7 1258.6L1832.6 1257.6L1835.6 1258.8L1838.6 1258.4L1841.7 1257.5L1844.6 1259.2L1847.4 1258.9L1850.3 1260.3L1853.3 1258.5L1856.3 1261.8L1859.3 1260.3L1862.2 1262.8L1865.1 1266.9L1867.9 1265.4L1870.5 1266.5L1873.0 1265.4L1876.2 1265.6L1879.1 1267.0L1881.9 1267.8L1884.7 1267.5L1887.8 1266.9L1890.4 1266.4L1893.0 1266.3L1895.8 1267.3L1898.6 1265.0L1901.5 1263.8L1904.3 1263.2L1907.2 1261.9L1910.0 1261.1L1913.0 1262.3L1915.9 1263.5L1918.9 1263.0L1921.9 1261.6L1924.9 1264.5L1927.9 1263.5L1930.8 1264.9L1933.7 1262.7L1936.5 1261.0L1939.3 1261.5L1942.1 1260.1L1944.9 1258.2L1947.7 1257.6L1950.5 1257.2L1953.2 1256.4L1956.0 1257.8L1958.8 1258.2L1961.5 1258.5L1964.2 1259.8L1967.0 1262.2L1969.7 1262.9L1972.5 1262.4L1975.4 1264.1L1978.3 1265.4L1981.3 1263.9L1984.4 1262.4L1987.5 1263.9L1990.6 1264.0L1993.5 1261.0L1996.3 1257.8L1998.8 1257.6L2001.4 1259.5L2003.7 1256.0L2005.8 1255.0L2007.9 1253.2L2010.5 1251.8L2013.1 1252.9L2015.9 1251.7L2018.9 1252.6L2022.1 1253.0L2025.2 1253.5L2028.4 1255.7L2031.4 1252.4L2034.1 1251.8L2036.9 1253.1L2039.7 1250.1L2042.4 1250.4L2045.1 1248.1L2047.7 1248.5L2050.1 1246.2L2052.3 1245.3L2054.4 1242.1L2056.3 1240.5L2057.9 1236.3L2059.5 1236.7L2061.1 1233.9L2062.7 1231.2L2064.5 1229.0L2066.4 1226.5L2068.3 1224.8L2070.3 1224.5L2072.3 1220.3L2074.3 1218.4L2076.4 1217.6L2078.4 1215.3L2080.5 1212.6L2082.7 1212.9L2085.0 1211.2L2087.2 1207.6L2089.3 1207.7L2091.3 1202.7L2093.1 1203.2L2094.7 1198.1L2096.2 1197.6L2097.7 1194.6L2099.1 1191.8L2100.4 1190.1L2101.8 1186.1L2103.1 1183.7L2104.5 1180.9L2106.0 1180.7L2107.4 1176.2L2108.9 1174.4L2110.3 1171.3L2111.7 1169.9L2113.0 1165.5L2114.4 1163.2L2115.7 1160.7L2117.1 1158.3L2118.5 1154.0L2119.8 1152.0L2121.0 1149.6L2123.3 1148.7L2124.8 1150.5L2125.7 1153.9L2126.5 1155.5L2127.4 1158.9L2128.2 1162.3L2128.9 1165.6L2129.4 1167.5L2129.9 1171.7L2130.4 1174.2L2130.8 1175.0L2131.2 1179.7L2131.6 1182.2L2131.9 1185.1L2132.3 1188.7L2132.6 1193.2L2133.0 1195.3L2133.4 1196.6L2133.7 1201.8L2134.1 1203.7L2134.5 1208.8L2134.8 1209.8L2135.2 1213.0L2135.5 1215.8L2135.9 1218.1L2136.2 1221.4L2136.6 1224.6L2136.9 1229.6L2137.3 1230.7L2137.6 1234.0L2138.0 1236.5L2138.3 1239.5L2138.7 1242.6L2139.0 1246.5L2139.4 1245.5L2139.8 1250.5L2140.1 1253.1L2140.5 1257.6L2140.8 1258.9L2141.2 1263.4L2141.5 1266.3L2141.9 1267.7L2142.2 1271.6L2142.6 1273.5L2142.9 1277.6L2143.2 1280.2L2143.6 1283.8L2143.9 1286.4L2144.3 1287.7L2144.6 1293.0L2144.9 1294.5L2145.2 1298.3L2145.5 1300.3L2145.8 1304.0L2146.1 1305.0L2146.5 1310.3L2146.8 1311.2L2147.1 1315.0L2147.4 1318.5L2147.7 1319.8L2148.0 1324.4L2148.3 1327.1L2148.5 1330.7L2148.8 1332.8L2149.1 1334.9L2149.3 1337.6L2149.6 1340.6L2149.8 1344.1L2150.1 1346.9L2150.3 1350.5L2150.5 1354.1L2150.8 1355.2L2151.0 1357.7L2151.2 1361.2L2151.4 1363.9L2151.5 1364.3L2151.7 1368.5L2151.9 1372.1L2152.1 1375.6L2152.2 1377.9L2152.4 1380.3L2152.5 1386.8L2152.6 1384.7L2152.7 1391.4L2152.8 1392.3L2152.8 1395.3L2152.9 1398.5L2153.0 1401.7L2153.1 1403.5L2153.1 1406.1L2153.2 1410.7L2153.2 1414.6L2153.3 1416.3L2153.3 1421.7L2153.4 1421.7L2153.5 1426.7L2153.5 1429.6L2153.6 1433.6L2153.6 1434.6L2153.7 1439.3L2153.8 1441.9L2153.8 1443.1L2153.9 1447.9L2154.0 1450.1L2154.1 1454.2L2154.2 1458.2L2154.3 1460.6L2154.4 1465.4L2154.5 1467.3L2154.6 1469.2L2154.7 1472.4L2154.8 1476.1L2154.9 1478.2L2155.1 1482.4L2155.2 1485.5L2155.3 1488.9L2155.4 1491.2L2155.5 1494.3L2155.6 1496.2L2155.7 1500.5L2155.9 1503.2L2156.0 1506.6L2156.1 1509.8L2156.3 1511.9L2156.4 1515.1L2156.6 1517.9L2156.7 1520.5L2156.9 1522.9L2157.1 1526.5L2157.3 1530.8L2157.5 1531.2L2157.7 1536.6L2157.9 1539.7L2158.1 1542.7L2158.4 1544.4L2158.6 1547.2L2158.9 1551.6L2159.2 1554.5L2159.5 1558.5L2159.8 1559.8L2160.1 1563.0L2160.5 1567.6L2160.8 1569.5L2161.2 1572.8L2161.6 1577.2L2161.9 1579.9L2162.3 1581.9L2162.7 1585.8L2163.1 1588.2L2163.5 1592.1L2164.0 1594.3L2164.4 1596.0L2164.8 1600.9L2165.3 1601.9L2165.8 1604.5L2166.5 1607.4L2167.4 1611.9L2168.4 1615.4L2169.3 1620.1L2170.4 1623.6L2171.4 1627.4L2172.4 1629.5L2173.8 1630.5L2176.1 1628.2L2176.9 1625.6L2177.8 1624.0L2178.6 1618.8L2179.4 1617.1L2180.1 1612.1L2180.7 1609.0L2181.3 1605.8L2181.9 1603.6L2182.3 1599.5L2182.7 1596.4L2183.0 1593.0L2183.4 1589.7L2183.7 1587.6L2184.1 1586.4L2184.4 1582.8L2184.7 1578.5L2185.0 1573.9L2185.3 1573.9L2185.6 1570.1L2186.0 1564.7L2186.3 1563.2L2186.6 1559.2L2186.9 1557.9L2187.2 1554.4L2187.6 1550.0L2187.9 1545.5L2188.2 1544.5L2188.5 1544.3L2188.8 1539.6L2189.1 1535.9L2189.4 1534.4L2189.7 1530.2L2190.0 1529.3L2190.2 1523.3L2190.5 1521.6L2190.8 1520.4L2191.1 1517.1L2191.4 1513.6L2191.7 1508.8L2192.0 1507.2L2192.3 1504.8L2192.6 1500.8L2192.9 1498.2L2193.1 1495.9L2193.4 1491.8L2193.7 1489.6L2194.0 1485.9L2194.3 1482.1L2194.6 1478.7L2194.9 1476.5L2195.2 1473.3L2195.5 1472.0L2195.8 1468.2L2196.1 1463.5L2196.3 1463.6L2196.6 1461.5L2196.9 1455.9L2197.2 1453.8L2197.4 1450.2L2197.7 1447.9L2197.9 1444.3L2198.2 1441.6L2198.4 1438.1L2198.6 1434.4L2198.9 1431.6L2199.1 1428.2L2199.4 1425.2L2199.6 1422.4L2199.9 1422.0L2200.1 1417.4L2200.4 1415.4L2200.7 1409.4L2200.9 1407.5L2201.2 1405.7L2201.5 1403.0L2201.9 1399.5L2202.2 1395.8L2202.6 1392.1L2202.9 1390.8L2203.3 1386.4L2203.7 1385.4L2204.1 1382.1L2204.6 1379.4L2205.2 1376.1L2205.8 1372.2L2206.4 1369.2L2207.0 1367.5L2207.6 1363.5L2208.3 1360.4L2208.9 1358.9L2209.6 1355.6L2210.3 1352.5L2211.1 1348.0L2211.9 1347.5L2212.7 1344.3L2213.5 1340.3L2214.4 1338.0L2215.3 1336.8L2216.3 1334.6L2217.4 1330.8L2218.6 1327.5L2220.1 1326.8L2221.6 1322.6L2223.3 1321.1L2225.0 1317.9L2226.7 1315.3L2228.5 1312.8L2230.3 1312.2L2232.1 1308.4L2233.9 1306.7L2235.6 1304.1L2237.5 1304.4L2239.6 1300.4L2241.5 1297.4L2243.6 1296.4L2245.6 1293.1L2247.8 1292.8L2250.1 1290.4L2252.5 1291.1L2255.0 1290.1L2257.7 1289.9L2260.4 1286.5L2263.3 1285.1L2266.2 1283.2L2269.1 1284.5L2272.1 1282.9L2275.0 1284.1L2277.6 1284.3L2280.3 1280.6L2283.0 1281.3L2285.7 1282.6L2288.5 1279.4L2291.4 1279.3L2294.6 1280.9L2297.9 1280.2L2301.5 1277.9L2304.9 1279.8L2308.5 1278.9L2311.1 1279.1L2313.7 1279.4L2316.5 1280.5L2319.3 1279.7L2322.1 1278.0L2325.1 1280.1L2328.1 1279.5L2331.1 1279.2L2334.2 1278.1L2337.4 1278.0L2340.5 1278.8L2343.7 1280.1L2347.0 1279.2L2350.2 1278.9L2353.5 1279.1L2356.7 1279.1L2360.0 1278.6L2363.2 1278.9L2366.5 1277.2L2369.7 1278.8L2372.8 1279.7L2376.0 1279.1L2379.1 1280.2L2382.2 1280.3L2385.2 1278.6" fill="none" stroke="#000" stroke-width="7" stroke-linejoin="round" stroke-linecap="round"/>
<path d="M1429.7 1250.7L1431.2 1250.7L1432.7 1250.8L1434.2 1250.9L1435.8 1251.0L1437.3 1251.1L1438.9 1251.3L1440.4 1251.4L1442.0 1251.6L1443.5 1251.7L1445.1 1251.9L1446.6 1252.0L1448.2 1252.1L1449.7 1252.2L1451.2 1252.3L1454.2 1252.2L1457.1 1252.0L1459.9 1251.5L1462.6 1250.7L1465.1 1249.5L1467.5 1247.7L1468.7 1246.7L1469.8 1245.6L1471.0 1244.4L1472.1 1243.2L1473.2 1241.9L1474.3 1240.6L1475.4 1239.3L1476.5 1238.1L1477.6 1236.8L1478.7 1235.6L1479.7 1234.5L1481.8 1232.5L1483.9 1230.9L1485.9 1229.8L1488.0 1229.5L1490.2 1230.0L1492.4 1231.4L1494.5 1233.4L1495.5 1234.6L1496.6 1235.8L1497.6 1237.1L1498.6 1238.5L1499.6 1239.8L1500.7 1241.2L1501.7 1242.5L1502.8 1243.8L1503.9 1244.9L1505.0 1246.0L1507.2 1247.7L1509.7 1248.8L1512.4 1249.5L1515.2 1249.8L1518.1 1249.8L1520.9 1249.7L1523.9 1249.5L1525.4 1249.4L1526.9 1249.3L1528.5 1249.2L1530.0 1249.2L1532.7 1249.2L1535.5 1249.1L1538.4 1249.0L1541.3 1248.8L1544.3 1248.7L1547.3 1248.5L1550.2 1248.4L1553.1 1248.2L1556.0 1248.1L1558.7 1248.0L1561.6 1248.0L1563.2 1248.1L1564.7 1248.2L1566.3 1248.4L1567.8 1248.6L1570.7 1249.0L1573.6 1249.2L1576.5 1249.1L1579.4 1248.7L1582.0 1247.8L1584.3 1246.4L1586.6 1244.4L1587.8 1243.3L1588.9 1242.1L1590.0 1240.9L1591.2 1239.7L1592.3 1238.5L1593.4 1237.3L1594.6 1236.1L1595.7 1235.0L1596.8 1233.9L1599.1 1232.2L1601.4 1231.0L1603.7 1230.5L1606.0 1230.9L1608.4 1231.9L1610.6 1233.6L1611.8 1234.6L1613.0 1235.6L1614.1 1236.7L1615.3 1237.9L1616.5 1239.1L1617.6 1240.3L1618.8 1241.5L1620.1 1242.6L1621.3 1243.7L1622.5 1244.7L1623.8 1245.6L1625.1 1246.4L1627.8 1247.6L1630.5 1248.3L1633.3 1248.7L1636.3 1248.9L1637.8 1249.0L1639.3 1249.0L1640.8 1248.9L1642.4 1248.9L1643.9 1248.8L1645.5 1248.7L1647.0 1248.5L1648.6 1248.4L1650.1 1248.2L1651.6 1248.0L1654.5 1247.7L1657.3 1247.4L1660.0 1247.2L1661.6 1247.1L1663.1 1246.9L1664.6 1246.8L1667.5 1246.4L1670.3 1246.0L1673.1 1245.6L1675.8 1245.2L1678.6 1244.8L1681.5 1244.4L1684.4 1244.2L1687.4 1243.9L1690.3 1243.7L1693.3 1243.4L1694.8 1243.2L1696.3 1242.9L1697.8 1242.6L1699.3 1242.3L1702.0 1241.4L1704.7 1240.3L1706.1 1239.6L1707.5 1238.9L1708.9 1238.2L1710.3 1237.5L1711.7 1236.8L1713.1 1236.1L1714.5 1235.4L1715.9 1234.9L1717.3 1234.4L1720.2 1233.6L1723.0 1233.4L1725.6 1233.7L1728.2 1234.4L1730.8 1235.5L1733.3 1236.8L1735.9 1238.2L1737.2 1239.0L1738.5 1239.7L1739.9 1240.5L1741.2 1241.2L1742.6 1241.8L1744.0 1242.4L1745.4 1243.0L1746.8 1243.4L1748.3 1243.8L1751.0 1244.3L1753.9 1244.8L1756.9 1245.2L1758.4 1245.4L1760.0 1245.6L1761.5 1245.7L1763.1 1245.8L1764.6 1245.9L1766.2 1246.0L1767.8 1246.0L1769.3 1246.1L1770.9 1246.1L1772.4 1246.1L1774.0 1246.1L1775.5 1246.0L1778.4 1245.9L1781.2 1245.6L1783.9 1245.3L1785.5 1245.0L1786.9 1244.7L1789.8 1244.0L1792.5 1243.0L1795.2 1242.0L1797.8 1240.9L1800.5 1239.8L1803.3 1238.8L1804.7 1238.3L1806.2 1237.9L1808.9 1237.1L1811.7 1236.4L1813.1 1236.0L1814.6 1235.6L1816.1 1235.1L1817.6 1234.7L1819.1 1234.4L1820.6 1234.0L1822.1 1233.6L1823.6 1233.2L1825.0 1232.9L1827.9 1232.3L1830.7 1231.8L1833.3 1231.4L1835.8 1231.2L1837.5 1231.1L1839.0 1231.1L1841.9 1231.3L1844.6 1231.7L1847.5 1232.1L1849.0 1232.4L1850.7 1232.7L1853.1 1233.2L1855.7 1233.7L1858.5 1234.4L1861.3 1235.1L1864.2 1235.8L1865.6 1236.2L1867.1 1236.6L1868.6 1237.0L1870.1 1237.4L1871.6 1237.7L1873.1 1238.0L1874.6 1238.4L1876.1 1238.7L1879.0 1239.2L1881.9 1239.6L1884.8 1239.9L1887.7 1240.3L1890.6 1240.5L1893.5 1240.7L1896.4 1240.9L1899.4 1241.0L1902.4 1241.0L1903.9 1241.0L1905.4 1241.0L1906.9 1241.0L1908.4 1240.9L1910.0 1240.9L1912.8 1240.8L1915.6 1240.6L1918.5 1240.3L1921.4 1240.0L1924.3 1239.6L1927.2 1239.2L1930.2 1238.8L1931.7 1238.6L1933.2 1238.4L1934.7 1238.1L1936.2 1237.9L1937.7 1237.7L1939.3 1237.5L1940.8 1237.2L1942.4 1237.0L1944.0 1236.8L1945.6 1236.6L1947.2 1236.4L1949.9 1236.1L1952.8 1235.8L1955.7 1235.4L1958.7 1235.1L1960.2 1235.0L1961.7 1234.8L1963.3 1234.6L1964.8 1234.5L1966.4 1234.3L1967.9 1234.2L1969.5 1234.0L1971.1 1233.8L1972.6 1233.7L1974.2 1233.5L1975.8 1233.3L1977.3 1233.2L1978.9 1233.0L1980.4 1232.8L1982.0 1232.6L1983.5 1232.4L1985.0 1232.2L1987.9 1231.8L1990.8 1231.4L1993.6 1231.0L1996.2 1230.5L1998.8 1230.0L2001.6 1229.5L2003.2 1229.1L2004.7 1228.7L2006.1 1228.3L2009.0 1227.6L2011.7 1226.7L2014.3 1225.9L2016.9 1225.1L2019.5 1224.2L2022.1 1223.3L2024.7 1222.4L2027.5 1221.6L2030.3 1220.7L2033.2 1219.8L2036.0 1218.9L2038.9 1218.0L2041.7 1217.1L2044.5 1216.1L2047.2 1215.2L2049.8 1214.2L2052.3 1213.2L2053.8 1212.6L2055.2 1212.0L2056.6 1211.3L2058.0 1210.7L2060.7 1209.4L2063.3 1208.1L2065.8 1206.7L2068.4 1205.3L2069.7 1204.5L2072.1 1203.1L2074.5 1201.6L2076.9 1200.0L2079.3 1198.4L2081.6 1196.7L2083.9 1195.0L2086.0 1193.2L2088.2 1191.3L2090.4 1189.2L2092.4 1187.1L2093.5 1186.0L2094.5 1184.9L2095.4 1183.7L2097.4 1181.4L2099.2 1179.1L2101.0 1176.7L2102.7 1174.3L2104.3 1171.9L2105.8 1169.4L2107.3 1166.8L2108.7 1164.3L2110.1 1161.7L2111.5 1159.2L2112.2 1157.8L2112.9 1156.4L2113.6 1154.9L2114.3 1153.4L2115.0 1151.8L2115.6 1150.3L2116.3 1148.8L2116.9 1147.4L2117.6 1146.0L2118.9 1143.6L2120.2 1141.8L2121.3 1140.6L2123.5 1139.1L2125.5 1139.4L2127.3 1141.1L2128.2 1142.4L2129.0 1143.8L2129.8 1145.3L2130.6 1147.4L2131.4 1149.8L2132.1 1152.5L2132.7 1155.4L2132.9 1156.9L2133.2 1158.5L2133.5 1160.1L2133.7 1161.7L2134.0 1163.3L2134.2 1164.9L2134.5 1166.5L2134.7 1168.1L2135.0 1169.7L2135.4 1172.4L2135.8 1175.1L2136.2 1177.9L2136.6 1180.7L2137.0 1183.5L2137.3 1186.5L2137.6 1189.4L2138.0 1192.4L2138.2 1193.9L2138.3 1195.4L2138.5 1196.9L2138.7 1198.4L2138.9 1199.9L2139.0 1201.4L2139.2 1203.0L2139.4 1204.5L2139.7 1207.3L2140.1 1210.1L2140.4 1212.9L2140.8 1215.8L2141.1 1218.7L2141.5 1221.6L2141.8 1224.5L2142.2 1227.5L2142.5 1230.4L2142.9 1233.4L2143.2 1236.3L2143.6 1239.3L2143.9 1242.3L2144.3 1245.2L2144.6 1248.1L2144.9 1251.0L2145.3 1253.9L2145.6 1256.7L2146.0 1259.6L2146.3 1262.5L2146.7 1265.3L2147.1 1268.2L2147.4 1271.0L2147.8 1273.9L2148.1 1276.8L2148.4 1279.7L2148.8 1282.6L2149.1 1285.6L2149.5 1288.6L2149.6 1290.1L2149.8 1291.6L2150.1 1294.4L2150.4 1297.2L2150.7 1300.1L2151.0 1303.0L2151.3 1305.9L2151.6 1308.8L2151.9 1311.8L2152.2 1314.8L2152.5 1317.7L2152.8 1320.7L2153.1 1323.7L2153.4 1326.6L2153.7 1329.6L2153.9 1332.5L2154.2 1335.4L2154.5 1338.3L2154.7 1341.1L2155.0 1343.9L2155.1 1345.4L2155.3 1346.9L2155.5 1349.9L2155.8 1352.8L2156.0 1355.7L2156.3 1358.5L2156.5 1361.4L2156.7 1364.2L2157.0 1367.0L2157.2 1369.9L2157.4 1372.7L2157.7 1375.6L2157.9 1378.5L2158.1 1381.5L2158.4 1384.5L2158.5 1386.0L2158.6 1387.5L2158.8 1390.3L2159.0 1393.2L2159.2 1396.1L2159.5 1399.1L2159.7 1402.0L2159.9 1405.0L2160.0 1406.5L2160.1 1408.0L2160.2 1409.5L2160.3 1411.0L2160.4 1412.6L2160.5 1414.1L2160.6 1415.6L2160.7 1417.1L2160.8 1418.7L2160.9 1420.2L2161.0 1421.7L2161.2 1423.2L2161.3 1424.8L2161.4 1426.3L2161.5 1427.8L2161.6 1429.3L2161.7 1430.8L2161.9 1432.3L2162.0 1433.9L2162.1 1435.4L2162.3 1436.9L2162.5 1439.8L2162.8 1442.8L2163.1 1445.8L2163.2 1447.3L2163.4 1448.8L2163.5 1450.3L2163.7 1451.8L2163.8 1453.4L2164.0 1454.9L2164.1 1456.5L2164.3 1458.0L2164.4 1459.6L2164.6 1461.1L2164.7 1462.7L2164.9 1464.2L2165.0 1465.8L2165.2 1467.3L2165.4 1468.8L2165.5 1470.3L2165.7 1471.9L2165.9 1473.4L2166.0 1474.9L2166.4 1477.8L2166.8 1480.7L2167.1 1483.5L2167.5 1486.2L2167.9 1488.9L2168.3 1491.4L2168.8 1493.8L2169.3 1496.8L2169.7 1498.6L2170.0 1500.6L2170.4 1502.5L2170.8 1504.4L2171.1 1506.3L2171.5 1508.1L2171.9 1509.9L2172.3 1511.5L2172.7 1513.1L2173.5 1515.6L2174.4 1517.3L2175.9 1517.8L2177.2 1516.4L2178.5 1513.8L2179.2 1512.2L2179.9 1510.6L2180.5 1508.8L2181.1 1507.1L2181.6 1505.5L2182.2 1503.2L2182.7 1500.8L2183.2 1498.2L2183.6 1495.5L2183.9 1492.7L2184.2 1489.7L2184.4 1488.2L2184.5 1486.7L2184.6 1485.1L2184.8 1483.6L2184.9 1482.0L2185.1 1480.4L2185.3 1478.8L2185.4 1477.2L2185.6 1475.6L2185.8 1474.0L2186.1 1471.4L2186.4 1468.7L2186.8 1466.0L2187.1 1463.2L2187.4 1460.3L2187.8 1457.4L2188.1 1454.4L2188.3 1452.9L2188.4 1451.4L2188.6 1449.9L2188.8 1448.4L2189.0 1446.8L2189.1 1445.3L2189.3 1443.8L2189.5 1442.3L2189.7 1440.8L2189.8 1439.3L2190.0 1437.7L2190.2 1436.2L2190.4 1434.7L2190.7 1431.8L2191.1 1428.9L2191.5 1426.0L2191.8 1423.2L2192.2 1420.3L2192.4 1418.8L2192.6 1417.3L2193.0 1414.4L2193.5 1411.5L2193.9 1408.6L2194.3 1405.8L2194.8 1402.9L2195.2 1400.1L2195.7 1397.3L2196.1 1394.5L2196.6 1391.7L2197.0 1388.8L2197.4 1385.9L2197.9 1383.0L2198.1 1381.5L2198.3 1380.0L2198.7 1377.2L2199.1 1374.3L2199.4 1371.3L2199.6 1369.8L2199.8 1368.3L2200.0 1366.8L2200.2 1365.3L2200.4 1363.8L2200.5 1362.2L2200.7 1360.7L2200.9 1359.2L2201.1 1357.6L2201.3 1356.1L2201.4 1354.6L2201.6 1353.0L2201.8 1351.5L2202.0 1350.0L2202.2 1348.5L2202.4 1347.0L2202.6 1345.5L2203.0 1342.5L2203.4 1339.6L2203.8 1336.8L2204.2 1334.0L2204.7 1331.3L2205.2 1328.4L2205.5 1326.8L2205.8 1325.2L2206.0 1323.6L2206.3 1322.0L2206.6 1320.4L2206.9 1318.9L2207.1 1317.3L2207.4 1315.8L2207.7 1314.3L2208.0 1312.8L2208.6 1309.9L2209.3 1307.1L2210.1 1304.4L2210.9 1301.8L2211.8 1299.3L2212.9 1296.7L2213.6 1295.3L2215.1 1292.7L2216.7 1290.3L2218.3 1288.1L2220.0 1285.8L2221.8 1283.6L2223.5 1281.4L2225.3 1279.2L2227.2 1277.1L2229.2 1275.0L2231.2 1272.9L2233.1 1270.8L2234.9 1268.7L2236.5 1266.5L2238.0 1264.2L2239.4 1261.8L2240.7 1259.5L2241.9 1257.0L2242.9 1254.4L2243.9 1251.6L2244.6 1249.1L2245.1 1246.4L2245.6 1243.7L2246.0 1240.8L2246.3 1237.8L2246.4 1236.3L2246.6 1234.8L2246.7 1233.2L2246.8 1231.7L2247.0 1230.1L2247.1 1228.5L2247.3 1226.9L2247.4 1225.4L2247.6 1223.8L2247.9 1221.0L2248.2 1218.2L2248.6 1215.3L2248.9 1212.4L2249.2 1209.5L2249.5 1206.6L2249.6 1205.1L2249.8 1203.6L2249.9 1202.0L2250.1 1200.5L2250.2 1199.0L2250.4 1197.5L2250.5 1195.9L2250.6 1194.4L2250.8 1192.8L2250.9 1191.3L2251.0 1189.7L2251.2 1188.2L2251.3 1186.6L2251.5 1183.8L2251.7 1181.0L2251.9 1178.1L2252.1 1175.2L2252.3 1172.3L2252.5 1169.3L2252.7 1166.3L2252.8 1163.4L2253.0 1160.4L2253.2 1157.4L2253.3 1154.4L2253.5 1151.5L2253.6 1148.6L2253.8 1145.7L2253.9 1142.9L2254.1 1140.1L2254.2 1138.5L2254.3 1136.9L2254.3 1135.4L2254.4 1133.8L2254.5 1132.2L2254.5 1130.6L2254.6 1129.0L2254.7 1127.4L2254.7 1125.9L2254.8 1124.3L2254.8 1122.7L2254.9 1121.2L2255.0 1119.7L2255.0 1118.2L2255.1 1116.7L2255.2 1113.7L2255.4 1110.8L2255.6 1108.1L2255.8 1105.4L2256.0 1102.9L2256.2 1101.2L2256.4 1099.3L2256.5 1097.4L2256.7 1095.5L2256.9 1093.6L2257.2 1091.8L2257.4 1090.0L2257.6 1088.5L2258.1 1085.9L2258.6 1084.5L2259.6 1085.8L2260.2 1088.3L2260.5 1089.8L2260.8 1091.5L2261.1 1093.3L2261.4 1095.2L2261.7 1097.1L2262.0 1099.1L2262.3 1101.0L2262.5 1102.9L2262.8 1105.1L2263.0 1107.5L2263.3 1109.9L2263.5 1112.5L2263.7 1115.2L2263.9 1118.0L2264.1 1120.9L2264.3 1123.9L2264.4 1125.4L2264.5 1126.9L2264.6 1128.4L2264.7 1130.0L2264.8 1131.5L2264.8 1133.1L2264.9 1134.7L2265.0 1136.3L2265.1 1137.9L2265.2 1139.5L2265.3 1141.1L2265.3 1142.7L2265.4 1144.3L2265.5 1145.9L2265.6 1147.5L2265.7 1149.1L2265.8 1150.8L2265.8 1152.4L2265.9 1154.0L2266.0 1155.5L2266.1 1157.1L2266.2 1158.7L2266.4 1161.6L2266.4 1163.2L2266.5 1164.8L2266.6 1166.4L2266.6 1168.2L2266.7 1169.9L2266.8 1171.7L2266.8 1173.6L2266.9 1175.4L2267.0 1177.3L2267.0 1179.2L2267.1 1181.2L2267.2 1183.2L2267.2 1185.1L2267.3 1187.1L2267.3 1189.1L2267.4 1191.1L2267.4 1193.1L2267.5 1195.1L2267.6 1197.1L2267.6 1199.0L2267.7 1201.0L2267.7 1202.9L2267.8 1204.8L2267.9 1206.6L2267.9 1208.5L2268.0 1210.2L2268.1 1212.0L2268.1 1213.7L2268.2 1215.4L2268.3 1216.9L2268.3 1218.5L2268.5 1221.4L2268.7 1224.0L2268.8 1226.3L2269.0 1228.2L2269.2 1229.8L2269.5 1231.4L2270.8 1230.4L2271.4 1227.7L2271.7 1226.1L2272.1 1224.3L2272.4 1222.4L2272.7 1220.4L2273.0 1218.4L2273.3 1216.4L2273.6 1214.5L2273.9 1212.3L2274.2 1210.0L2274.4 1207.6L2274.6 1205.1L2274.9 1202.4L2275.1 1199.7L2275.3 1196.9L2275.5 1194.0L2275.7 1191.0L2275.8 1189.5L2275.9 1187.9L2275.9 1186.4L2276.0 1184.8L2276.1 1183.3L2276.2 1181.7L2276.3 1180.1L2276.4 1178.5L2276.5 1176.8L2276.5 1175.2L2276.6 1173.6L2276.7 1171.9L2276.8 1170.3L2276.9 1168.6L2277.0 1167.0L2277.1 1165.3L2277.1 1163.7L2277.2 1162.0L2277.3 1160.4L2277.4 1158.7L2277.5 1156.0L2277.7 1153.3L2277.8 1150.4L2277.9 1147.5L2278.0 1144.5L2278.1 1143.0L2278.2 1141.5L2278.2 1140.0L2278.3 1138.4L2278.3 1136.8L2278.4 1135.3L2278.4 1133.7L2278.5 1132.1L2278.5 1130.5L2278.6 1128.8L2278.6 1127.2L2278.7 1125.6L2278.7 1124.0L2278.8 1122.3L2278.8 1120.7L2278.9 1119.0L2278.9 1117.4L2279.0 1115.7L2279.0 1114.1L2279.1 1112.5L2279.1 1110.8L2279.2 1109.2L2279.2 1107.5L2279.3 1105.9L2279.3 1104.3L2279.4 1102.7L2279.5 1101.1L2279.5 1099.5L2279.6 1097.9L2279.6 1096.3L2279.7 1094.7L2279.7 1093.2L2279.8 1091.6L2279.8 1090.1L2279.9 1088.6L2280.0 1087.1L2280.1 1084.1L2280.2 1081.2L2280.3 1078.4L2280.5 1075.7L2280.6 1073.1L2280.8 1070.5L2280.9 1068.1L2281.1 1065.8L2281.2 1063.9L2281.4 1062.0L2281.5 1060.1L2281.7 1058.1L2281.8 1056.2L2282.0 1054.2L2282.1 1052.2L2282.3 1050.3L2282.5 1048.3L2282.6 1046.5L2282.8 1044.7L2283.0 1043.0L2283.1 1041.3L2283.3 1039.8L2283.6 1037.0L2284.0 1034.8L2284.3 1033.2L2285.6 1034.9L2286.0 1037.1L2286.3 1039.9L2286.5 1041.5L2286.7 1043.2L2286.9 1044.9L2287.0 1046.7L2287.2 1048.6L2287.4 1050.5L2287.5 1052.5L2287.7 1054.4L2287.8 1056.4L2288.0 1058.3L2288.1 1060.3L2288.2 1062.2L2288.4 1064.0L2288.5 1065.8L2288.7 1068.2L2288.8 1070.8L2288.9 1073.4L2289.1 1076.0L2289.2 1078.8L2289.3 1081.6L2289.4 1084.5L2289.5 1087.4L2289.5 1090.4L2289.6 1091.9L2289.6 1093.4L2289.7 1094.9L2289.7 1096.5L2289.7 1098.0L2289.8 1099.6L2289.8 1101.1L2289.8 1102.7L2289.8 1104.2L2289.9 1105.8L2289.9 1107.4L2289.9 1109.0L2289.9 1110.5L2290.0 1112.1L2290.0 1113.7L2290.0 1115.3L2290.0 1116.9L2290.1 1118.5L2290.1 1120.0L2290.1 1121.6L2290.1 1123.2L2290.2 1124.8L2290.2 1126.3L2290.2 1127.9L2290.2 1129.4L2290.2 1131.0L2290.3 1132.5L2290.3 1134.1L2290.3 1135.6L2290.3 1137.1L2290.4 1138.6L2290.4 1141.6L2290.5 1144.6L2290.5 1147.5L2290.6 1150.5L2290.6 1153.4L2290.7 1156.4L2290.7 1159.3L2290.7 1162.3L2290.8 1165.2L2290.8 1168.1L2290.9 1171.1L2290.9 1174.0L2290.9 1177.0L2290.9 1179.9L2291.0 1182.9L2291.0 1185.8L2291.0 1188.8L2291.1 1191.8L2291.1 1194.8L2291.1 1197.8L2291.1 1199.3L2291.2 1200.8L2291.2 1202.3L2291.2 1203.8L2291.2 1205.3L2291.2 1206.9L2291.2 1208.4L2291.2 1209.9L2291.3 1211.4L2291.3 1213.0L2291.3 1214.5L2291.3 1217.3L2291.4 1220.2L2291.4 1223.0L2291.4 1225.8L2291.5 1228.6L2291.5 1231.4L2291.5 1234.2L2291.6 1237.0L2291.6 1239.8L2291.6 1242.7L2291.7 1245.5L2291.7 1248.3L2291.7 1251.2L2291.8 1254.0L2291.8 1256.9L2291.8 1259.8L2291.8 1262.7L2291.9 1265.6L2291.9 1268.6L2291.9 1271.6L2292.0 1273.1L2292.0 1274.6L2292.0 1276.1L2292.0 1277.7L2292.0 1279.2L2292.0 1280.7L2292.0 1282.3L2292.1 1283.8L2292.1 1285.4L2292.1 1287.0L2292.1 1288.6L2292.1 1290.2L2292.1 1291.8L2292.1 1293.4L2292.2 1295.0L2292.2 1296.7L2292.2 1298.3L2292.2 1300.0L2292.2 1302.6L2292.2 1305.3L2292.3 1308.0L2292.3 1310.7L2292.3 1313.5L2292.3 1316.4L2292.3 1319.2L2292.3 1322.2L2292.3 1325.1L2292.3 1328.1L2292.3 1329.6L2292.3 1331.1L2292.4 1332.6L2292.4 1334.2L2292.4 1335.7L2292.4 1337.2L2292.4 1338.8L2292.4 1340.3L2292.4 1341.9L2292.4 1343.4L2292.4 1345.0L2292.4 1346.6L2292.4 1348.1L2292.4 1349.7L2292.4 1351.3L2292.4 1352.9L2292.4 1354.5L2292.4 1356.1L2292.4 1357.6L2292.4 1359.2L2292.4 1360.8L2292.4 1362.4L2292.4 1364.0L2292.4 1365.6L2292.4 1367.2L2292.4 1368.8L2292.4 1370.4L2292.4 1372.0L2292.4 1373.6L2292.4 1375.2L2292.4 1376.8L2292.4 1378.4L2292.4 1380.0L2292.4 1381.6L2292.5 1383.2L2292.5 1384.8L2292.5 1386.4L2292.5 1388.0L2292.5 1389.6L2292.5 1391.2L2292.5 1392.8L2292.5 1394.3L2292.5 1395.9L2292.5 1397.5L2292.5 1399.0L2292.5 1400.6L2292.5 1402.1L2292.5 1403.7L2292.5 1405.2L2292.6 1406.7L2292.6 1408.3L2292.6 1409.8L2292.6 1411.3L2292.6 1412.8L2292.6 1415.8L2292.6 1418.7L2292.7 1421.7L2292.7 1424.5L2292.7 1427.4L2292.8 1430.2L2292.8 1432.9L2292.8 1435.7L2292.9 1438.3L2292.9 1440.9L2293.0 1443.5L2293.0 1446.0L2293.0 1447.7L2293.1 1449.4L2293.1 1451.2L2293.1 1452.9L2293.2 1454.6L2293.2 1456.3L2293.2 1458.0L2293.3 1459.6L2293.3 1461.3L2293.4 1463.0L2293.4 1464.6L2293.4 1466.3L2293.5 1467.9L2293.5 1469.6L2293.6 1471.2L2293.6 1472.8L2293.6 1474.4L2293.7 1476.0L2293.7 1477.6L2293.8 1479.2L2293.8 1480.7L2293.9 1482.3L2293.9 1483.8L2293.9 1485.3L2294.0 1486.8L2294.0 1488.4L2294.1 1491.3L2294.2 1494.2L2294.4 1497.1L2294.5 1499.9L2294.6 1502.6L2294.7 1505.3L2294.8 1507.9L2294.9 1510.5L2295.1 1513.0L2295.2 1515.4L2295.4 1517.7L2295.5 1520.0L2295.6 1521.8L2295.7 1523.7L2295.9 1525.6L2296.0 1527.5L2296.1 1529.4L2296.3 1531.4L2296.4 1533.2L2296.6 1535.1L2296.7 1536.9L2296.9 1538.5L2297.0 1540.1L2297.3 1542.9L2297.6 1545.1L2298.1 1546.9L2298.8 1544.8L2299.1 1542.4L2299.4 1539.4L2299.6 1537.7L2299.7 1535.9L2299.9 1534.1L2300.0 1532.2L2300.2 1530.3L2300.3 1528.4L2300.5 1526.6L2300.6 1524.8L2300.7 1523.1L2300.9 1521.5L2301.1 1518.5L2301.4 1515.7L2301.6 1512.9L2301.9 1510.2L2302.1 1507.5L2302.3 1504.7L2302.6 1501.7L2302.7 1500.1L2302.8 1498.5L2302.9 1496.8L2303.0 1495.0L2303.1 1492.7L2303.3 1490.2L2303.4 1487.7L2303.5 1485.0L2303.6 1482.3L2303.7 1479.5L2303.8 1476.6L2303.9 1473.6L2304.0 1472.1L2304.0 1470.6L2304.1 1469.1L2304.2 1467.5L2304.2 1466.0L2304.3 1464.4L2304.3 1462.8L2304.4 1461.3L2304.4 1459.7L2304.5 1458.1L2304.5 1456.5L2304.6 1454.9L2304.6 1453.3L2304.7 1451.7L2304.7 1450.1L2304.8 1448.6L2304.8 1447.0L2304.9 1445.4L2305.0 1443.8L2305.0 1442.2L2305.1 1440.7L2305.1 1439.1L2305.2 1437.6L2305.2 1436.0L2305.3 1434.5L2305.4 1433.0L2305.4 1431.5L2305.6 1428.5L2305.7 1425.6L2305.8 1422.6L2306.0 1419.7L2306.1 1416.7L2306.3 1413.7L2306.4 1410.8L2306.6 1407.8L2306.7 1404.9L2306.9 1401.9L2307.0 1399.0L2307.2 1396.0L2307.3 1393.1L2307.5 1390.1L2307.7 1387.2L2307.8 1384.2L2308.0 1381.2L2308.1 1378.3L2308.3 1375.3L2308.4 1372.4L2308.6 1369.4L2308.7 1366.5L2308.9 1363.5L2308.9 1362.0L2309.0 1360.5L2309.1 1358.9L2309.1 1357.4L2309.2 1355.8L2309.2 1354.2L2309.3 1352.6L2309.3 1351.0L2309.4 1349.4L2309.4 1347.8L2309.5 1346.2L2309.5 1344.6L2309.5 1342.9L2309.6 1341.3L2309.6 1339.7L2309.7 1338.1L2309.7 1336.4L2309.7 1334.8L2309.8 1333.2L2309.8 1331.6L2309.9 1330.0L2309.9 1328.4L2310.0 1326.8L2310.0 1325.3L2310.1 1323.7L2310.2 1322.2L2310.2 1320.7L2310.4 1317.7L2310.5 1314.8L2310.7 1312.1L2310.9 1309.4L2311.1 1306.8L2311.4 1304.4L2311.7 1302.1L2312.0 1300.0L2312.3 1298.1L2312.6 1296.1L2313.0 1294.2L2313.3 1292.2L2313.7 1290.4L2314.1 1288.6L2314.5 1286.9L2314.9 1285.4L2315.8 1283.0L2316.8 1281.6L2318.7 1282.1L2320.2 1284.3L2321.0 1285.7L2321.7 1287.2L2322.5 1288.9L2323.2 1290.5L2323.8 1292.0L2324.7 1294.5L2325.4 1297.3L2325.7 1298.8L2326.1 1300.4L2326.4 1302.0L2326.7 1303.6L2326.9 1305.2L2327.2 1306.7L2327.5 1308.3L2327.8 1309.8L2328.4 1312.6L2329.0 1315.0L2329.5 1316.7L2330.0 1318.4L2330.5 1320.1L2331.0 1321.7L2332.0 1323.7L2333.6 1322.3L2334.2 1319.7L2334.6 1318.1L2334.9 1316.4L2335.2 1314.5L2335.5 1312.6L2335.8 1310.6L2336.2 1308.7L2336.5 1306.8L2336.8 1305.0L2337.2 1302.4L2337.6 1299.6L2337.8 1298.1L2338.0 1296.6L2338.2 1295.0L2338.4 1293.4L2338.6 1291.7L2338.7 1290.1L2338.9 1288.4L2339.1 1286.8L2339.3 1285.1L2339.5 1283.4L2339.7 1281.8L2339.9 1280.2L2340.1 1278.6L2340.3 1277.0L2340.5 1275.5L2341.0 1272.6L2341.5 1269.9L2342.1 1267.6L2342.9 1264.9L2343.4 1263.4L2343.9 1261.9L2345.1 1259.4L2346.4 1257.2L2348.0 1255.4L2350.2 1254.0L2352.7 1253.1L2355.7 1252.6L2357.3 1252.3L2359.6 1252.0L2362.2 1251.9L2365.0 1251.8L2368.0 1251.8L2369.5 1251.9L2371.1 1251.9L2372.7 1252.0L2374.3 1252.0L2375.9 1252.1L2377.5 1252.1L2379.1 1252.2L2380.6 1252.2L2382.2 1252.3L2383.7 1252.3L2385.2 1252.3" fill="none" stroke="#920000" stroke-width="7" stroke-linejoin="round" stroke-linecap="round"/>
<text x="22.5" y="92.6" font-size="102.5">(<tspan font-weight="bold">a</tspan>)</text>
<text x="1217.3" y="92.6" font-size="102.5">(<tspan font-weight="bold">b</tspan>)</text>
<text x="22.5" y="1034.5" font-size="102.5">(<tspan font-weight="bold">c</tspan>)</text>
<text x="1216.9" y="1034.5" font-size="102.5">(<tspan font-weight="bold">d</tspan>)</text>
<line x1="229.5" y1="57.0" x2="229.5" y2="803.5" stroke="#222" stroke-width="2"/>
<line x1="228.5" y1="58.0" x2="1186.6" y2="58.0" stroke="#222" stroke-width="2"/>
<line x1="1421.8" y1="58.0" x2="2385.4" y2="58.0" stroke="#222" stroke-width="2"/>
<line x1="230.0" y1="1007.5" x2="230.0" y2="1747.5" stroke="#222" stroke-width="2"/>
<line x1="229.0" y1="1008.5" x2="1186.6" y2="1008.5" stroke="#222" stroke-width="2"/>
<line x1="229.0" y1="1747.0" x2="1186.6" y2="1747.0" stroke="#222" stroke-width="2"/>
<line x1="1429.7" y1="1008.0" x2="2384.5" y2="1008.0" stroke="#222" stroke-width="2"/>
<line x1="1430.5" y1="1747.0" x2="2386.0" y2="1747.0" stroke="#222" stroke-width="2"/>
<line x1="389.7" y1="797.5" x2="389.7" y2="812.0" stroke="#222" stroke-width="1.6" stroke-opacity="1"/>
<line x1="389.7" y1="58.0" x2="389.7" y2="73.5" stroke="#222" stroke-width="1.6" stroke-opacity="1"/>
<line x1="495.7" y1="797.5" x2="495.7" y2="812.0" stroke="#222" stroke-width="1.6" stroke-opacity="1"/>
<line x1="495.7" y1="58.0" x2="495.7" y2="73.5" stroke="#222" stroke-width="1.6" stroke-opacity="1"/>
<line x1="654.7" y1="797.5" x2="654.7" y2="812.0" stroke="#222" stroke-width="1.6" stroke-opacity="0.25"/>
<line x1="654.7" y1="58.0" x2="654.7" y2="73.5" stroke="#222" stroke-width="1.6" stroke-opacity="0.25"/>
<line x1="760.7" y1="797.5" x2="760.7" y2="812.0" stroke="#222" stroke-width="1.6" stroke-opacity="0.8"/>
<line x1="760.7" y1="58.0" x2="760.7" y2="73.5" stroke="#222" stroke-width="1.6" stroke-opacity="0.8"/>
<line x1="866.7" y1="797.5" x2="866.7" y2="812.0" stroke="#222" stroke-width="1.6" stroke-opacity="0.8"/>
<line x1="866.7" y1="58.0" x2="866.7" y2="73.5" stroke="#222" stroke-width="1.6" stroke-opacity="0.8"/>
<line x1="919.7" y1="797.5" x2="919.7" y2="812.0" stroke="#222" stroke-width="1.6" stroke-opacity="0.6"/>
<line x1="919.7" y1="58.0" x2="919.7" y2="73.5" stroke="#222" stroke-width="1.6" stroke-opacity="0.6"/>
<line x1="1025.7" y1="797.5" x2="1025.7" y2="812.0" stroke="#222" stroke-width="1.6" stroke-opacity="0.6"/>
<line x1="1025.7" y1="58.0" x2="1025.7" y2="73.5" stroke="#222" stroke-width="1.6" stroke-opacity="0.6"/>
<line x1="1131.7" y1="797.5" x2="1131.7" y2="812.0" stroke="#222" stroke-width="1.6" stroke-opacity="1"/>
<line x1="1131.7" y1="58.0" x2="1131.7" y2="73.5" stroke="#222" stroke-width="1.6" stroke-opacity="1"/>
<line x1="222.0" y1="166.0" x2="230.0" y2="166.0" stroke="#222" stroke-width="2"/>
<line x1="1180.0" y1="166.0" x2="1186.6" y2="166.0" stroke="#222" stroke-width="2"/>
<line x1="222.0" y1="434.5" x2="230.0" y2="434.5" stroke="#222" stroke-width="2"/>
<line x1="1180.0" y1="434.5" x2="1186.6" y2="434.5" stroke="#222" stroke-width="2"/>
<line x1="1587.8" y1="58.0" x2="1587.8" y2="73.5" stroke="#222" stroke-width="1.6" stroke-opacity="1"/>
<line x1="1587.8" y1="797.6" x2="1587.8" y2="808.0" stroke="#222" stroke-width="1.6" stroke-opacity="1"/>
<line x1="1747.3" y1="58.0" x2="1747.3" y2="73.5" stroke="#222" stroke-width="1.6" stroke-opacity="0.35"/>
<line x1="1747.3" y1="797.6" x2="1747.3" y2="808.0" stroke="#222" stroke-width="1.6" stroke-opacity="0.35"/>
<line x1="1827.0" y1="58.0" x2="1827.0" y2="73.5" stroke="#222" stroke-width="1.6" stroke-opacity="1"/>
<line x1="1827.0" y1="797.6" x2="1827.0" y2="808.0" stroke="#222" stroke-width="1.6" stroke-opacity="1"/>
<line x1="1986.5" y1="58.0" x2="1986.5" y2="73.5" stroke="#222" stroke-width="1.6" stroke-opacity="0.6"/>
<line x1="1986.5" y1="797.6" x2="1986.5" y2="808.0" stroke="#222" stroke-width="1.6" stroke-opacity="0.6"/>
<line x1="2066.3" y1="58.0" x2="2066.3" y2="73.5" stroke="#222" stroke-width="1.6" stroke-opacity="1"/>
<line x1="2066.3" y1="797.6" x2="2066.3" y2="808.0" stroke="#222" stroke-width="1.6" stroke-opacity="1"/>
<line x1="2225.8" y1="58.0" x2="2225.8" y2="73.5" stroke="#222" stroke-width="1.6" stroke-opacity="1"/>
<line x1="2225.8" y1="797.6" x2="2225.8" y2="808.0" stroke="#222" stroke-width="1.6" stroke-opacity="1"/>
<line x1="1415.2" y1="119.8" x2="1429.6" y2="119.8" stroke="#222" stroke-width="2" stroke-opacity="0.45"/>
<line x1="2370.8" y1="119.8" x2="2385.4" y2="119.8" stroke="#222" stroke-width="2" stroke-opacity="0.45"/>
<line x1="1415.2" y1="241.9" x2="1429.6" y2="241.9" stroke="#222" stroke-width="2" stroke-opacity="1"/>
<line x1="2370.8" y1="241.9" x2="2385.4" y2="241.9" stroke="#222" stroke-width="2" stroke-opacity="1"/>
<line x1="1415.2" y1="427.9" x2="1429.6" y2="427.9" stroke="#222" stroke-width="2" stroke-opacity="1"/>
<line x1="2370.8" y1="427.9" x2="2385.4" y2="427.9" stroke="#222" stroke-width="2" stroke-opacity="1"/>
<line x1="1415.2" y1="673.7" x2="1429.6" y2="673.7" stroke="#222" stroke-width="2" stroke-opacity="0.45"/>
<line x1="2370.8" y1="673.7" x2="2385.4" y2="673.7" stroke="#222" stroke-width="2" stroke-opacity="0.45"/>
<line x1="1415.2" y1="735.2" x2="1429.6" y2="735.2" stroke="#222" stroke-width="2" stroke-opacity="1"/>
<line x1="2370.8" y1="735.2" x2="2385.4" y2="735.2" stroke="#222" stroke-width="2" stroke-opacity="1"/>
<line x1="229.6" y1="1747.0" x2="229.6" y2="1761.0" stroke="#222" stroke-width="1.6" stroke-opacity="1"/>
<line x1="229.6" y1="1008.5" x2="229.6" y2="1022.5" stroke="#222" stroke-width="1.6" stroke-opacity="1"/>
<line x1="389.1" y1="1747.0" x2="389.1" y2="1761.0" stroke="#222" stroke-width="1.6" stroke-opacity="1"/>
<line x1="389.1" y1="1008.5" x2="389.1" y2="1022.5" stroke="#222" stroke-width="1.6" stroke-opacity="1"/>
<line x1="628.4" y1="1747.0" x2="628.4" y2="1755.0" stroke="#222" stroke-width="1.6" stroke-opacity="1"/>
<line x1="628.4" y1="1008.5" x2="628.4" y2="1016.5" stroke="#222" stroke-width="1.6" stroke-opacity="1"/>
<line x1="787.9" y1="1747.0" x2="787.9" y2="1755.0" stroke="#222" stroke-width="1.6" stroke-opacity="0.3"/>
<line x1="787.9" y1="1008.5" x2="787.9" y2="1016.5" stroke="#222" stroke-width="1.6" stroke-opacity="0.3"/>
<line x1="867.6" y1="1747.0" x2="867.6" y2="1761.0" stroke="#222" stroke-width="1.6" stroke-opacity="1"/>
<line x1="867.6" y1="1008.5" x2="867.6" y2="1022.5" stroke="#222" stroke-width="1.6" stroke-opacity="1"/>
<line x1="1027.1" y1="1747.0" x2="1027.1" y2="1761.0" stroke="#222" stroke-width="1.6" stroke-opacity="0.6"/>
<line x1="1027.1" y1="1008.5" x2="1027.1" y2="1022.5" stroke="#222" stroke-width="1.6" stroke-opacity="0.6"/>
<line x1="223.0" y1="1063.0" x2="230.0" y2="1063.0" stroke="#222" stroke-width="2" stroke-opacity="1"/>
<line x1="1179.6" y1="1063.0" x2="1186.6" y2="1063.0" stroke="#222" stroke-width="2" stroke-opacity="1"/>
<line x1="216.0" y1="1198.2" x2="230.0" y2="1198.2" stroke="#222" stroke-width="2" stroke-opacity="1"/>
<line x1="1172.6" y1="1198.2" x2="1186.6" y2="1198.2" stroke="#222" stroke-width="2" stroke-opacity="1"/>
<line x1="223.0" y1="1333.0" x2="230.0" y2="1333.0" stroke="#222" stroke-width="2" stroke-opacity="1"/>
<line x1="1179.6" y1="1333.0" x2="1186.6" y2="1333.0" stroke="#222" stroke-width="2" stroke-opacity="1"/>
<line x1="223.0" y1="1422.5" x2="230.0" y2="1422.5" stroke="#222" stroke-width="2" stroke-opacity="1"/>
<line x1="1179.6" y1="1422.5" x2="1186.6" y2="1422.5" stroke="#222" stroke-width="2" stroke-opacity="1"/>
<line x1="216.0" y1="1558.0" x2="230.0" y2="1558.0" stroke="#222" stroke-width="2" stroke-opacity="1"/>
<line x1="1172.6" y1="1558.0" x2="1186.6" y2="1558.0" stroke="#222" stroke-width="2" stroke-opacity="1"/>
<line x1="223.0" y1="1693.0" x2="230.0" y2="1693.0" stroke="#222" stroke-width="2" stroke-opacity="1"/>
<line x1="1179.6" y1="1693.0" x2="1186.6" y2="1693.0" stroke="#222" stroke-width="2" stroke-opacity="1"/>
<line x1="223.0" y1="1739.0" x2="230.0" y2="1739.0" stroke="#222" stroke-width="2" stroke-opacity="0.3"/>
<line x1="1179.6" y1="1739.0" x2="1186.6" y2="1739.0" stroke="#222" stroke-width="2" stroke-opacity="0.3"/>
<line x1="1964.9" y1="1747.0" x2="1964.9" y2="1761.0" stroke="#222" stroke-width="1.6" stroke-opacity="0.3"/>
<line x1="1964.9" y1="1008.0" x2="1964.9" y2="1018.0" stroke="#222" stroke-width="1.6" stroke-opacity="0.3"/>
<line x1="2043.7" y1="1747.0" x2="2043.7" y2="1761.0" stroke="#222" stroke-width="1.6" stroke-opacity="1"/>
<line x1="2043.7" y1="1008.0" x2="2043.7" y2="1018.0" stroke="#222" stroke-width="1.6" stroke-opacity="1"/>
<line x1="2201.2" y1="1747.0" x2="2201.2" y2="1761.0" stroke="#222" stroke-width="1.6" stroke-opacity="1"/>
<line x1="2201.2" y1="1008.0" x2="2201.2" y2="1018.0" stroke="#222" stroke-width="1.6" stroke-opacity="1"/>
<line x1="2279.9" y1="1747.0" x2="2279.9" y2="1761.0" stroke="#222" stroke-width="1.6" stroke-opacity="1"/>
<line x1="2279.9" y1="1008.0" x2="2279.9" y2="1018.0" stroke="#222" stroke-width="1.6" stroke-opacity="1"/>
<line x1="2358.7" y1="1747.0" x2="2358.7" y2="1761.0" stroke="#222" stroke-width="1.6" stroke-opacity="1"/>
<line x1="2358.7" y1="1008.0" x2="2358.7" y2="1018.0" stroke="#222" stroke-width="1.6" stroke-opacity="1"/>
<line x1="1420.0" y1="1054.0" x2="1430.0" y2="1054.0" stroke="#222" stroke-width="2"/>
<line x1="2370.8" y1="1054.0" x2="2384.4" y2="1054.0" stroke="#222" stroke-width="2"/>
<line x1="1420.0" y1="1250.3" x2="1430.0" y2="1250.3" stroke="#222" stroke-width="2"/>
<line x1="2370.8" y1="1250.3" x2="2384.4" y2="1250.3" stroke="#222" stroke-width="2"/>
<line x1="1420.0" y1="1380.2" x2="1430.0" y2="1380.2" stroke="#222" stroke-width="2"/>
<line x1="2370.8" y1="1380.2" x2="2384.4" y2="1380.2" stroke="#222" stroke-width="2"/>
<line x1="1420.0" y1="1511.6" x2="1430.0" y2="1511.6" stroke="#222" stroke-width="2"/>
<line x1="2370.8" y1="1511.6" x2="2384.4" y2="1511.6" stroke="#222" stroke-width="2"/>
<line x1="1420.0" y1="1642.3" x2="1430.0" y2="1642.3" stroke="#222" stroke-width="2"/>
<line x1="2370.8" y1="1642.3" x2="2384.4" y2="1642.3" stroke="#222" stroke-width="2"/>
<text x="280.4" y="859.6" font-size="52" text-anchor="middle">341</text>
<text x="389.3" y="859.6" font-size="52" text-anchor="middle">342</text>
<text x="494.5" y="859.6" font-size="52" text-anchor="middle">343</text>
<text x="601.0" y="859.6" font-size="52" text-anchor="middle">344</text>
<text x="707.9" y="859.6" font-size="52" text-anchor="middle">345</text>
<text x="814.3" y="859.6" font-size="52" text-anchor="middle">346</text>
<text x="920.0" y="859.6" font-size="52" text-anchor="middle">347</text>
<text x="1026.5" y="859.6" font-size="52" text-anchor="middle">348</text>
<text x="1133.0" y="859.6" font-size="52" text-anchor="middle">349</text>
<text x="1507.9" y="859.6" font-size="52" text-anchor="middle">342</text>
<text x="1667.1" y="859.6" font-size="52" text-anchor="middle">344</text>
<text x="1827.1" y="859.6" font-size="52" text-anchor="middle">346</text>
<text x="1986.5" y="859.6" font-size="52" text-anchor="middle">348</text>
<text x="2146.7" y="859.6" font-size="52" text-anchor="middle">350</text>
<text x="2305.4" y="859.6" font-size="52" text-anchor="middle">352</text>
<text x="229.8" y="1809.5" font-size="52" text-anchor="middle">290</text>
<text x="388.8" y="1809.5" font-size="52" text-anchor="middle">300</text>
<text x="549.5" y="1809.5" font-size="52" text-anchor="middle">310</text>
<text x="708.4" y="1809.5" font-size="52" text-anchor="middle">320</text>
<text x="868.2" y="1809.5" font-size="52" text-anchor="middle">330</text>
<text x="1027.2" y="1809.5" font-size="52" text-anchor="middle">340</text>
<text x="1186.2" y="1809.5" font-size="52" text-anchor="middle">350</text>
<text x="1493.2" y="1809.5" font-size="52" text-anchor="middle">270</text>
<text x="1649.0" y="1809.5" font-size="52" text-anchor="middle">285</text>
<text x="1807.3" y="1809.5" font-size="52" text-anchor="middle">300</text>
<text x="1964.0" y="1809.5" font-size="52" text-anchor="middle">315</text>
<text x="2122.5" y="1809.5" font-size="52" text-anchor="middle">330</text>
<text x="2279.6" y="1809.5" font-size="52" text-anchor="middle">345</text>
<text x="639.5" y="942.9" font-size="50" font-weight="bold" textLength="30.4" lengthAdjust="spacingAndGlyphs">B</text>
<text x="670.5" y="963.0" font-size="29">0</text>
<text x="686.8" y="942.9" font-size="49" textLength="92" lengthAdjust="spacingAndGlyphs">, mT</text>
<text x="1838.9" y="943.2" font-size="50" font-weight="bold" textLength="30.4" lengthAdjust="spacingAndGlyphs">B</text>
<text x="1869.8" y="963.3" font-size="29">0</text>
<text x="1886.2" y="943.2" font-size="49" textLength="92" lengthAdjust="spacingAndGlyphs">, mT</text>
<text x="639.6" y="1893.4" font-size="50" font-weight="bold" textLength="30.4" lengthAdjust="spacingAndGlyphs">B</text>
<text x="670.6" y="1913.5" font-size="29">0</text>
<text x="686.9" y="1893.4" font-size="49" textLength="92" lengthAdjust="spacingAndGlyphs">, mT</text>
<text x="1839.0" y="1893.5" font-size="50" font-weight="bold" textLength="30.4" lengthAdjust="spacingAndGlyphs">B</text>
<text x="1869.9" y="1913.6" font-size="29">0</text>
<text x="1886.2" y="1893.5" font-size="49" textLength="92" lengthAdjust="spacingAndGlyphs">, mT</text>
<text transform="translate(172.4,556.4) rotate(-90)" font-size="50"><tspan font-style="italic" font-size="52">S</tspan><tspan font-style="italic" font-size="30" dy="20">CW</tspan><tspan dy="-20" font-size="49"> , a.u.</tspan></text>
<text transform="translate(1342.4,556.4) rotate(-90)" font-size="50"><tspan font-style="italic" font-size="52">S</tspan><tspan font-style="italic" font-size="30" dy="20">CW</tspan><tspan dy="-20" font-size="49"> , a.u.</tspan></text>
<text transform="translate(172.4,1505.3) rotate(-90)" font-size="50"><tspan font-style="italic" font-size="52">S</tspan><tspan font-style="italic" font-size="30" dy="20">CW</tspan><tspan dy="-20" font-size="49"> , a.u.</tspan></text>
<text transform="translate(1343.0,1506.5) rotate(-90)" font-size="50"><tspan font-style="italic" font-size="52">S</tspan><tspan font-style="italic" font-size="30" dy="20">CW</tspan><tspan dy="-20" font-size="49"> , a.u.</tspan></text>
<text x="894.6" y="260.8" font-size="57">Tri</text>
<text x="963.4" y="229.2" font-size="33">1,8</text>
<text x="1003.1" y="260.8" font-size="57">+Ca(II)</text>
<text x="895.5" y="530.3" font-size="57">Tri</text>
<text x="964.6" y="498.7" font-size="33">1,8</text>
<text x="2079.2" y="200.0" font-size="57">Tri</text>
<text x="2148.3" y="168.4" font-size="33">1,8</text>
<text x="2188.1" y="200.0" font-size="57">+Ca(II)</text>
<text x="2079.2" y="455.0" font-size="57">Tri</text>
<text x="2148.3" y="423.4" font-size="33">1,8</text>
<text x="256.8" y="1104.1" font-size="57">Tri</text>
<text x="326.9" y="1072.5" font-size="33">1,8</text>
<text x="365.5" y="1104.1" font-size="57">+Cu(II)</text>
<text x="1950.8" y="1083.8" font-size="57">Tri</text>
<text x="2019.9" y="1052.2" font-size="33">1,8</text>
<text x="2059.7" y="1083.8" font-size="57">+Cu(II)</text>
<text x="300.9" y="1562.4" font-size="57">Cu(II)</text>
<text x="1894.3" y="1337.6" font-size="57">Cu(II)</text>
<text x="892.8" y="1084.6" font-size="58" textLength="110.5" lengthAdjust="spacingAndGlyphs">x 0.1</text>
<line x1="906" y1="1106.5" x2="1011" y2="1167" stroke="#000" stroke-width="1.6" stroke-dasharray="2.2 2.2"/>
<path d="M1032.1 1181.4 L1011 1147.2 L1013.4 1168.3 L993.9 1178.1 Z" fill="#000"/></svg>
</body></html>
